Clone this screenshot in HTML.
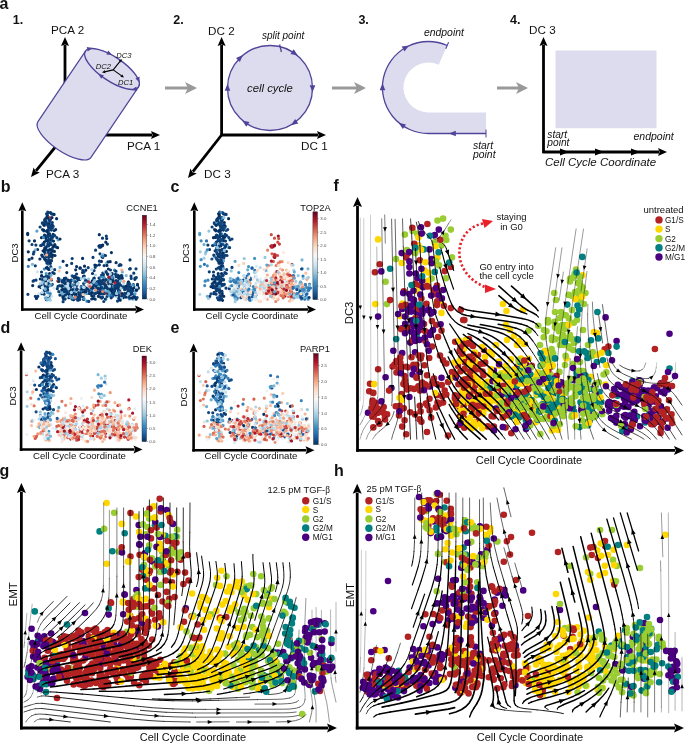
<!DOCTYPE html><html><head><meta charset="utf-8"><style>html,body{margin:0;padding:0;background:#fff;}svg{display:block;will-change:transform;}</style></head><body><svg width="685" height="746" viewBox="0 0 685 746" font-family='"Liberation Sans", sans-serif'><defs><linearGradient id="rdbu" x1="0" y1="0" x2="0" y2="1"><stop offset="0.000" stop-color="#67001f"/><stop offset="0.100" stop-color="#b2182b"/><stop offset="0.200" stop-color="#d6604d"/><stop offset="0.300" stop-color="#f4a582"/><stop offset="0.400" stop-color="#fddbc7"/><stop offset="0.500" stop-color="#f7f7f7"/><stop offset="0.600" stop-color="#d1e5f0"/><stop offset="0.700" stop-color="#92c5de"/><stop offset="0.800" stop-color="#4393c3"/><stop offset="0.900" stop-color="#2166ac"/><stop offset="1.000" stop-color="#053061"/></linearGradient></defs><text x="-0.5" y="9" font-size="16" text-anchor="start" font-weight="bold" font-style="normal" fill="#111" >a</text>
<text x="12.8" y="24" font-size="12.5" text-anchor="start" font-weight="bold" font-style="normal" fill="#111" >1.</text>
<line x1="65.0" y1="136.0" x2="65.0" y2="45.0" stroke="#000" stroke-width="2.8"/><polygon points="65.0,37.0 69.0,46.0 65.0,44.4 61.0,46.0" fill="#000"/>
<line x1="64.0" y1="135.0" x2="152.0" y2="135.0" stroke="#000" stroke-width="2.8"/><polygon points="160.0,135.0 151.0,139.0 152.6,135.0 151.0,131.0" fill="#000"/>
<line x1="65.0" y1="135.0" x2="36.0" y2="170.8" stroke="#000" stroke-width="2.8"/><polygon points="31.0,177.0 33.6,167.5 35.6,171.3 39.8,172.5" fill="#000"/>
<text x="51" y="34" font-size="11.7" text-anchor="start" font-weight="normal" font-style="normal" fill="#111" >PCA 2</text>
<text x="127" y="150" font-size="11.7" text-anchor="start" font-weight="normal" font-style="normal" fill="#111" >PCA 1</text>
<text x="46" y="178" font-size="11.7" text-anchor="start" font-weight="normal" font-style="normal" fill="#111" >PCA 3</text>
<g transform="translate(112,69) rotate(34)"><path d="M 32,0 L 32,85 A 32,12 0 0,1 -32,85 L -32,0 Z" fill="#dcdcee" stroke="#50449a" stroke-width="1.2"/><ellipse cx="0" cy="0" rx="32" ry="12" fill="#dcdcee" stroke="#50449a" stroke-width="1.4"/></g>
<polygon points="92.6,48.1 87.7,51.4 86.8,47.1" fill="#50449a"/>
<polygon points="112.2,55.0 106.3,54.5 108.2,50.6" fill="#50449a"/>
<polygon points="139.6,82.6 135.4,78.4 139.5,76.6" fill="#50449a"/>
<polygon points="131.4,89.9 136.3,86.6 137.2,90.9" fill="#50449a"/>
<polygon points="98.2,73.7 103.9,75.3 101.2,78.8" fill="#50449a"/>
<line x1="113.2" y1="69.9" x2="120.4" y2="60.9" stroke="#000" stroke-width="1.1"/><polygon points="122.0,59.0 121.0,62.7 120.2,61.2 118.6,60.7" fill="#000"/>
<line x1="113.2" y1="69.9" x2="104.4" y2="71.9" stroke="#000" stroke-width="1.1"/><polygon points="102.0,72.5 105.0,70.1 104.8,71.9 105.8,73.3" fill="#000"/>
<line x1="113.2" y1="69.9" x2="122.0" y2="76.1" stroke="#000" stroke-width="1.1"/><polygon points="124.0,77.5 120.2,76.8 121.7,75.8 122.1,74.2" fill="#000"/>
<text x="116.3" y="58.2" font-size="7.6" text-anchor="start" font-weight="normal" font-style="italic" fill="#111" >DC3</text>
<text x="95.8" y="69" font-size="7.6" text-anchor="start" font-weight="normal" font-style="italic" fill="#111" >DC2</text>
<text x="118" y="84.7" font-size="7.6" text-anchor="start" font-weight="normal" font-style="italic" fill="#111" >DC1</text>
<line x1="165" y1="88" x2="189" y2="88" stroke="#999999" stroke-width="3"/><polygon points="197,88 185,82 188,88 185,94" fill="#999999"/>
<line x1="332" y1="88" x2="358" y2="88" stroke="#999999" stroke-width="3"/><polygon points="366,88 354,82 357,88 354,94" fill="#999999"/>
<line x1="497" y1="88" x2="520" y2="88" stroke="#999999" stroke-width="3"/><polygon points="528,88 516,82 519,88 516,94" fill="#999999"/>
<text x="173.2" y="24" font-size="12.5" text-anchor="start" font-weight="bold" font-style="normal" fill="#111" >2.</text>
<line x1="221.6" y1="136.0" x2="221.6" y2="45.0" stroke="#000" stroke-width="2.8"/><polygon points="221.6,37.0 225.6,46.0 221.6,44.4 217.6,46.0" fill="#000"/>
<line x1="220.6" y1="135.0" x2="318.0" y2="135.0" stroke="#000" stroke-width="2.8"/><polygon points="326.0,135.0 317.0,139.0 318.6,135.0 317.0,131.0" fill="#000"/>
<line x1="221.6" y1="135.0" x2="192.9" y2="171.7" stroke="#000" stroke-width="2.8"/><polygon points="188.0,178.0 190.4,168.4 192.5,172.2 196.7,173.4" fill="#000"/>
<text x="208" y="35" font-size="11.7" text-anchor="start" font-weight="normal" font-style="normal" fill="#111" >DC 2</text>
<text x="301" y="150" font-size="11.7" text-anchor="start" font-weight="normal" font-style="normal" fill="#111" >DC 1</text>
<text x="204" y="178" font-size="11.7" text-anchor="start" font-weight="normal" font-style="normal" fill="#111" >DC 3</text>
<circle cx="270" cy="88" r="42.5" fill="#dcdcee" stroke="#50449a" stroke-width="1.3"/>
<polygon points="242.9,55.0 239.9,61.9 236.0,57.9" fill="#50449a"/>
<polygon points="297.8,55.6 290.5,53.9 293.7,49.3" fill="#50449a"/>
<polygon points="312.5,92.2 309.7,85.2 315.3,85.2" fill="#50449a"/>
<polygon points="290.9,125.2 295.1,118.9 298.3,123.5" fill="#50449a"/>
<polygon points="242.2,120.4 249.5,122.1 246.3,126.7" fill="#50449a"/>
<polygon points="227.5,83.8 230.3,90.8 224.7,90.8" fill="#50449a"/>
<line x1="279.6" y1="44.5" x2="281.4" y2="52" stroke="#50449a" stroke-width="1.3"/>
<text x="270" y="91.5" font-size="11.3" text-anchor="middle" font-weight="normal" font-style="italic" fill="#111" >cell cycle</text>
<text x="262" y="38.5" font-size="10" text-anchor="start" font-weight="normal" font-style="italic" fill="#111" >split point</text>
<text x="358.4" y="24" font-size="12.5" text-anchor="start" font-weight="bold" font-style="normal" fill="#111" >3.</text>
<path d="M 447.2,45.5 A 46,46 0 1,0 428.5,133.5 L 486,133.5 L 486,112.5 L 428.5,112.5 A 25,25 0 1,1 438.7,64.7 Z" fill="#dcdcee"/>
<path d="M 447.2,45.5 A 46,46 0 1,0 428.5,133.5 L 486,133.5" fill="none" stroke="#50449a" stroke-width="1.3"/>
<line x1="486" y1="129.5" x2="486" y2="137.5" stroke="#50449a" stroke-width="1"/>
<line x1="445.8" y1="48.7" x2="448.6" y2="42.3" stroke="#50449a" stroke-width="1.1"/>
<polygon points="409.1,45.6 404.5,51.5 401.7,46.6" fill="#50449a"/>
<polygon points="382.5,83.3 385.3,90.3 379.7,90.3" fill="#50449a"/>
<polygon points="398.7,122.8 406.0,124.5 402.8,129.1" fill="#50449a"/>
<polygon points="448.8,133.5 455.8,130.7 455.8,136.3" fill="#50449a"/>
<text x="424" y="36" font-size="10.4" text-anchor="start" font-weight="normal" font-style="italic" fill="#111" >endpoint</text>
<text x="473" y="148.5" font-size="10.4" text-anchor="start" font-weight="normal" font-style="italic" fill="#111" >start</text>
<text x="473" y="158.3" font-size="10.4" text-anchor="start" font-weight="normal" font-style="italic" fill="#111" >point</text>
<text x="510" y="24" font-size="12.5" text-anchor="start" font-weight="bold" font-style="normal" fill="#111" >4.</text>
<line x1="543.5" y1="153.0" x2="543.5" y2="45.0" stroke="#000" stroke-width="2.8"/><polygon points="543.5,37.0 547.5,46.0 543.5,44.4 539.5,46.0" fill="#000"/>
<line x1="542.5" y1="152.0" x2="659.0" y2="152.0" stroke="#000" stroke-width="2.8"/><polygon points="667.0,152.0 658.0,156.0 659.6,152.0 658.0,148.0" fill="#000"/>
<polygon points="569,152 560,148.5 560,155.5" fill="#000"/>
<polygon points="604,152 595,148.5 595,155.5" fill="#000"/>
<polygon points="640,152 631,148.5 631,155.5" fill="#000"/>
<text x="529" y="33.5" font-size="11.7" text-anchor="start" font-weight="normal" font-style="normal" fill="#111" >DC 3</text>
<rect x="555.5" y="50.5" width="101" height="77.7" fill="#dcdcee"/>
<text x="547.3" y="137.8" font-size="10.2" text-anchor="start" font-weight="normal" font-style="italic" fill="#111" >start</text>
<text x="547.3" y="145.8" font-size="10.2" text-anchor="start" font-weight="normal" font-style="italic" fill="#111" >point</text>
<text x="633.5" y="139.5" font-size="10.5" text-anchor="start" font-weight="normal" font-style="italic" fill="#111" >endpoint</text>
<text x="545" y="165.5" font-size="11.5" text-anchor="start" font-weight="normal" font-style="italic" fill="#111" >Cell Cycle Coordinate</text>
<g stroke-linecap="round" fill="none"><path d="M68.4 280.4h0M60.8 279.9h0M135.4 291.2h0M66.6 288.6h0M130.4 284.8h0M61.4 291.8h0M60 267.4h0M125.5 295.8h0M77.4 282.4h0" stroke="#7eb8d7" stroke-width="3.2"/><path d="M105.8 271.4h0M54.4 251.4h0M32 258.2h0M118.6 297.8h0M50 279.1h0M111.3 294.1h0M123.3 297.6h0M82.6 272.5h0M100.9 284.6h0M134.9 297.4h0M48.2 226.1h0M128.5 282h0M63.1 261.3h0M133.6 297.3h0M130 259.9h0M46.3 240h0M48.1 236.6h0M44.8 248.1h0M119.2 285.7h0M81.5 291.7h0M90.4 283.3h0M61.7 286.2h0M64.4 287.3h0M116.1 280.5h0M103.8 255.2h0M100.8 281.6h0M32.7 285.6h0M106 284.3h0M99.8 280.9h0M63.9 296.8h0M41.5 285.7h0M45.8 260.2h0M73.4 285.2h0M45 249.7h0M39.1 286.7h0M69.8 283.7h0M74.4 278.3h0M41 287.6h0M73.5 299.7h0M81.5 292.1h0M68.1 280h0M119.8 291.3h0M53.9 245.9h0M117.3 284h0M40.3 279h0M28.3 251.8h0M94.8 292.7h0M54.8 244.6h0M85.5 288.6h0M96.8 287.1h0M100.3 292.7h0M27.7 234.6h0M134.9 279.3h0M47 263.2h0M110.2 261.7h0M108.2 288.8h0M110.3 288.4h0M136.1 299.2h0M46 289.6h0M48.7 239.8h0M46.3 299.6h0M97.3 291.2h0M47.9 235.2h0M110.7 291.4h0M101.4 261.4h0M65.5 289.6h0M46.5 256.4h0M97.7 285.1h0M93 285.7h0M64.6 290.6h0M51.9 257.6h0M121.3 275.5h0M41.3 245.5h0M29.1 259.7h0M44.6 252.1h0M79.2 294.9h0M76.6 266.6h0M106.3 279.8h0M50 235.6h0M108.3 287.5h0M51.5 279.9h0M64.4 278.3h0M116.1 262.7h0M118.6 295.2h0M68.9 297.7h0M62.2 281.9h0M47.6 291.1h0M50.4 249.5h0M93.9 292.7h0M50.9 254.6h0M81.3 286.5h0M51.1 261h0M34.5 240.9h0M72.8 293.4h0M63.6 296.7h0M92.7 292.2h0M47 281.7h0M75.3 277.2h0M63 297.4h0" stroke="#053061" stroke-width="3.2"/><path d="M77.5 285.5h0M70.1 296.6h0M93.2 289.8h0M48.5 282.5h0M103 295h0M127.9 295.3h0" stroke="#c1ddec" stroke-width="3.2"/><path d="M92.9 284.1h0M96.1 291h0M110.2 295.7h0M44.3 269h0" stroke="#3a88bd" stroke-width="3.2"/><path d="M121.9 275.9h0M87.3 281.2h0M92.1 286h0M82.7 270.3h0M47.5 240.2h0M124.7 289.6h0M95.6 250.2h0M127.7 286.4h0M107.4 244.1h0M48.6 262h0M75.7 287.5h0M72.8 276.3h0M112.9 296.1h0M47.7 212.2h0M46.2 222.1h0M120 297.6h0M113.6 290.6h0M85.8 291.8h0M102.6 284.7h0M107 296.5h0M88.2 267.6h0M50.6 219.3h0M63.9 296.9h0M49 226.6h0M42.3 222.9h0M50.1 295.7h0M65.4 285.8h0M50.6 239.8h0M36.8 297.6h0M136.3 277.6h0M46.4 249.5h0M124.3 294.8h0M119.4 296.4h0M76.6 285.4h0M137.6 286.4h0M100.6 293.5h0M44.7 222.3h0M42.9 281.2h0M119.9 284.8h0M105.4 287.2h0M64.6 291.7h0M46 240.7h0M50.1 226.8h0M52.7 247.5h0M116.1 276.7h0M99.4 261.2h0M51.6 284.9h0M106.5 292.6h0M43.7 224.8h0M49.7 269.2h0M101.5 275.3h0M132.3 293.9h0M76.5 281.2h0M105.2 283.2h0M72 299.1h0M86.6 288.2h0M62.7 289.5h0M41.8 293.7h0M115.4 282.9h0M97.2 287.8h0M97.8 284.4h0M120.7 287.2h0M115.5 274.3h0M130.2 294.9h0M113.9 288h0M112.2 290.7h0M128.1 283.1h0M104.1 286.2h0M104.1 265.6h0M100 253.8h0M63.1 280.6h0M84 272.1h0M94.1 270.6h0M120 264.5h0M83 291.1h0M63.5 288.8h0M52.8 214.2h0M77.1 283.3h0M100.2 289.6h0M50.2 242.4h0M63.1 301.7h0M83.8 294.5h0M99.9 296.8h0M42.5 229.5h0M109.1 283.2h0M74.6 287.8h0M100.8 286.7h0M49.1 220.2h0M128.7 297.5h0M52.3 284.3h0M117.5 301.1h0M127.3 293.2h0M76.7 280.2h0M114.6 292.3h0M76.6 284.5h0M119.3 299.1h0M111.8 276.2h0M105.5 255.5h0M49.2 293.5h0M70.6 293.1h0M111.4 293.4h0M116.9 287.1h0M75 276h0M42.5 256.5h0M119.7 279.8h0M49.3 225.7h0M97.5 281.7h0M44.1 236.2h0M113.9 293.4h0M32 244.5h0M51.8 249.6h0M92.1 293.1h0M52.8 237.2h0M102.5 238.2h0M49.8 218.5h0M79.8 279.4h0M102.8 273.1h0M120.9 277.3h0M74 293.5h0M76.2 290.1h0M72.2 258.5h0M130.9 290h0M131.6 293.2h0M107.4 273.9h0M104.5 292.4h0M58.8 291.7h0M64.2 297.6h0M84.2 286.7h0M27.9 294.3h0M42.5 223.4h0" stroke="#0c3e74" stroke-width="3.2"/><path d="M95.4 275h0M116.4 296.5h0M90.1 285.1h0M83.9 295.1h0M50.5 300.3h0M115 288.4h0" stroke="#b2d5e7" stroke-width="3.2"/><path d="M64 281h0M46.8 288.7h0M46.6 237.1h0M116 271.5h0M103.9 277.2h0" stroke="#4393c3" stroke-width="3.2"/><path d="M98.1 291.8h0M39 293.8h0M37.3 271.8h0" stroke="#d1e5f0" stroke-width="3.2"/><path d="M49.7 217.5h0" stroke="#c43c3c" stroke-width="3.2"/><path d="M91.6 282.9h0M113.7 292.9h0M106.2 263.2h0M75 292.2h0M71.7 275.7h0M121.5 298h0" stroke="#92c5de" stroke-width="3.2"/><path d="M132.7 299.1h0M58.1 239.8h0M62.3 294.6h0M104.3 290.8h0M112.3 285h0M128.9 282.6h0" stroke="#57a0ca" stroke-width="3.2"/><path d="M112.9 294h0M122.3 271.9h0M94 279.5h0M51 284.4h0M98.6 286h0M81.9 290.6h0M47 297.8h0" stroke="#6aacd0" stroke-width="3.2"/><path d="M50.7 266h0M75.1 280.6h0M80.3 278.5h0M81.2 278.4h0" stroke="#a2cde2" stroke-width="3.2"/><path d="M81.2 287h0M69.4 283.1h0M85.1 282.1h0" stroke="#327cb8" stroke-width="3.2"/><path d="M119.4 291.4h0" stroke="#de715a" stroke-width="3.2"/><path d="M50.9 259.5h0M59.2 270.9h0" stroke="#fbceb6" stroke-width="3.2"/><path d="M121.8 270h0M47.5 283.7h0" stroke="#f6b293" stroke-width="3.2"/><path d="M121.2 294.2h0" stroke="#d6604d" stroke-width="3.2"/><path d="M48.6 280.9h0M50 291.4h0M41.6 282.5h0" stroke="#daeaf2" stroke-width="3.2"/><path d="M107.8 293.7h0M48.8 227.8h0M43.1 250.8h0M49.2 223.5h0M49.2 226h0M41.5 237.7h0M52.8 272.6h0M66.5 292.2h0M52 217.6h0M125.8 297.1h0M94.9 290.2h0M102.9 287.4h0M51.3 252.6h0M115.1 282.3h0M50.5 212.6h0M44.2 277.3h0M44.6 235.1h0M101.3 291h0M93.7 290.2h0M92.2 286.7h0M52.2 224.8h0M75.3 295.7h0M137.4 285.2h0M111.4 252.6h0M99.3 234.7h0M92.1 291.3h0M134.4 287.7h0M96.1 285.3h0M130.8 287.9h0M46.4 260.1h0M48.9 223.8h0M91.1 283.2h0M44.9 249.1h0M39.9 259h0M111.6 284.5h0M68.4 280.8h0M118.4 290.9h0M113.1 280.6h0M45.1 220.3h0M37.6 249.5h0M106.9 265.4h0M132.3 291h0M60 239h0M101.3 287.8h0M125 293.5h0M64.8 283.5h0M72.2 293.9h0M103.8 293.7h0M101.8 293.5h0M47.9 297.8h0M132.3 297.9h0M72 280.4h0M118.6 275.9h0M80.3 267.9h0M51.3 239h0M47.3 278.4h0M122.1 293.6h0M114.7 291.9h0M45.7 237.7h0M45 281.9h0M94.7 286h0M54.1 214.4h0M100.6 247.1h0M105.4 282.5h0M98.6 288.6h0M65.6 283.9h0M66.8 265.3h0M85.8 290.9h0M118.7 289.5h0M128.4 282h0M108.1 261.9h0M75.7 269.8h0M99.4 281.4h0M133.4 284.5h0M70.2 282.5h0M101.1 288.6h0M111.6 292.5h0M112.1 273.6h0M91.1 285.3h0M132.6 288.9h0M72.2 292.4h0M74.4 281.3h0M50.4 263.3h0M47.1 236.6h0M70.1 285.2h0M53.1 234.3h0M49.6 239.5h0M109.2 283.9h0M115.6 294.4h0M49.9 226.3h0M48.7 296.9h0M44.3 242.2h0M137.5 284.3h0M46.8 231.3h0" stroke="#053061" stroke-width="3.2"/><path d="M71.4 285.6h0M52.3 222.5h0M47.6 267.2h0M76.8 299h0M47.7 289.7h0M40.1 227h0M54.7 235.5h0M93 257.4h0M48.5 253.2h0M96.5 265.5h0M92.9 288.3h0M70.2 289.5h0M51.5 240.5h0M129.4 283.8h0M99.4 247.2h0M86.5 288.8h0M47 246.3h0M105.3 282.9h0M62.1 286.1h0M47.3 215h0M95.6 293.4h0M48.4 230.8h0M102 256.8h0M124.8 287.7h0M93.9 296h0M118.9 285.8h0M135 278h0M136 268.8h0M91.7 299h0M54.7 269.7h0M48.4 257.3h0M42.9 243.8h0M116.8 288h0M102 293.7h0M115.2 287.3h0M92.2 285h0M95.1 282.8h0M119.1 265.5h0M105.2 279.3h0M136.8 290.1h0M70 295.2h0M63.3 286.7h0M47.8 230.1h0M47.2 254.4h0M117.8 281h0M46.4 261.3h0M51.4 230.1h0M93.1 283h0M115.3 288.8h0M73.9 292.6h0M78.7 296.6h0M48 244.3h0M96.6 293h0M129.6 286.9h0M91.8 289.6h0M138.5 288.1h0M83.4 288.5h0M83.6 283.5h0M131.2 278.4h0M47.8 244h0M129.3 292.3h0M83.9 287.9h0M48.5 212.5h0M70.7 286.9h0M128.8 292.6h0M51.1 229.1h0M49 235.2h0M119.1 288.3h0M130.3 268.7h0M98.7 292.4h0M67.4 293.6h0M83.5 276.4h0M44.1 294.2h0M127.6 288.9h0M77 289.2h0M64 287.4h0M33.8 280.5h0M33.4 254h0M98.9 246h0M96.2 291.9h0M40.6 245.5h0M100.2 293.6h0M110.5 270h0M121.1 285.8h0M55.9 246.9h0M102.2 245.4h0M88 292.9h0M137.1 297.5h0M124.7 293.7h0M104.4 288h0M80.3 296.8h0M49.5 265.6h0M65.4 295.2h0M94.4 293.4h0M70.2 290.7h0M92.1 288.2h0M81.2 294.3h0M71.7 263.4h0M80.9 289.8h0M71.2 280.2h0M37.8 296.3h0M29.1 240.8h0M46.2 217.8h0M102.8 257.4h0M105.1 293h0M120.2 285h0M69 287.8h0M75.9 282.7h0M108.8 288.8h0M99.7 280.7h0M59 279.3h0M35.3 296.3h0M55.4 246.3h0M44.5 290.8h0M51.4 213.8h0M102.1 289.6h0M103.9 292.6h0M44.2 289.4h0M120.9 286.1h0M49.6 233.9h0M43.8 244.7h0M109.1 286h0M128.8 290.4h0M96.6 289.5h0M65.9 278.2h0M78.4 279.5h0M35.3 265.8h0M95.2 299.2h0M78.4 278.2h0M33.1 281.2h0M47.9 251.1h0M95.2 267.3h0M43.8 230.8h0M116.5 283.2h0M51.2 229.6h0M103.8 301.5h0M51.5 260.4h0M44.2 277.9h0M74.1 298.5h0M41.5 272h0M69.8 289.8h0M127.7 284.7h0M41.6 275.7h0" stroke="#0c3e74" stroke-width="3.2"/><path d="M109 295.3h0M92.7 281.2h0M87 293.5h0M47.6 292.5h0M103.8 277.8h0M72.3 284.9h0" stroke="#4393c3" stroke-width="3.2"/><path d="M114.5 270.2h0M101.9 289.9h0M50.2 293.6h0M50.7 240.2h0M108.7 280.6h0M82.1 290.7h0M43.4 237.4h0M93.9 290.7h0M86.9 301.2h0M91.4 289.7h0" stroke="#3a88bd" stroke-width="3.2"/><path d="M129.4 299.2h0M49.3 280.4h0M87.8 292.3h0M102.7 286.5h0M88.6 279h0M46.5 298.7h0M63 285.8h0" stroke="#92c5de" stroke-width="3.2"/><path d="M47.6 300h0M35.2 249.9h0M70.3 294.2h0M78.6 300.3h0M43.3 286.5h0" stroke="#7eb8d7" stroke-width="3.2"/><path d="M42.2 292.4h0M136.5 287.5h0M43.4 287.9h0M104.9 271.7h0M123.5 283.4h0" stroke="#c1ddec" stroke-width="3.2"/><path d="M40.2 283.8h0M65.7 286h0M65.1 297.9h0M102.5 254.3h0" stroke="#a2cde2" stroke-width="3.2"/><path d="M51.1 275.3h0M49.5 266.6h0M54 288.2h0" stroke="#daeaf2" stroke-width="3.2"/><path d="M48 295.5h0M51.8 296.3h0" stroke="#d1e5f0" stroke-width="3.2"/><path d="M120.8 287.7h0M63.6 286.3h0M84.9 282h0M44.5 283.4h0M105.9 299.3h0M73.9 290.9h0" stroke="#6aacd0" stroke-width="3.2"/><path d="M83 293.7h0M112.6 286.3h0M72.6 297.9h0M36.9 231.1h0" stroke="#57a0ca" stroke-width="3.2"/><path d="M91.9 269.5h0" stroke="#b2d5e7" stroke-width="3.2"/><path d="M57.6 281.1h0" stroke="#d6604d" stroke-width="3.2"/><path d="M96.4 283.7h0M111.2 296.6h0M75.2 298.1h0" stroke="#327cb8" stroke-width="3.2"/><path d="M51.2 279.2h0" stroke="#ec9475" stroke-width="3.2"/><path d="M88.6 285h0" stroke="#f8c0a4" stroke-width="3.2"/><path d="M107.1 282.6h0" stroke="#f4a582" stroke-width="3.2"/><path d="M105.7 292.9h0" stroke="#bb2a34" stroke-width="3.2"/><path d="M44.7 220.3h0M42.9 279.6h0M103.1 280.2h0M41.8 255.2h0M66.1 290.3h0M52.3 250.4h0M63.4 296.5h0M119.2 288.1h0M49.6 273.7h0M122.1 287.3h0M110.4 290.1h0M93.3 283.3h0M92.2 288.1h0M70 286.4h0M94.2 278h0M125.9 286.3h0M84.5 266.2h0M61.8 289.8h0M63.8 282.2h0M47.8 218.1h0M93.3 298.5h0M94.9 265h0M53.6 246.2h0M50.3 239.7h0M27.7 233.4h0M45 219.8h0M101.2 246.1h0M53.5 241.1h0M101.7 298.1h0M36.4 298.5h0M106.7 238.5h0M122.3 278.2h0M47.9 223.9h0M112.5 281.7h0M85.8 270.2h0M46.7 231h0M99.1 293.3h0M82.6 258.4h0M41.7 276.1h0M92.5 273.5h0M114.8 289.6h0M59.9 295.1h0M120.2 300.2h0M55.7 229.5h0M83.6 292.4h0M107.8 274.3h0M79.9 268.2h0M63.6 298.9h0M105.8 242.2h0M90.4 293.7h0M46.4 267.8h0M100 245.6h0M52.9 255.2h0M91.6 287.7h0M102.7 245h0M85.9 291.6h0M52 255.9h0M68 283.8h0M47.3 216.1h0M109.4 282.4h0M49.3 256h0M69.3 286.7h0M118.5 277.8h0M71.3 290.7h0M110.9 286.5h0M72.3 293.4h0M105.9 286.9h0M136.3 290.2h0M48.7 269.5h0M44.7 259.1h0M92.4 280.8h0M45.5 247.7h0M47.8 241.3h0M99.3 264.8h0M86.7 288.5h0M48.3 233.6h0M84.2 276h0M49.3 260.9h0M105.9 292.1h0M66.8 272.6h0M108.4 269h0M43.7 230.1h0M54.3 230.5h0M57.6 247.7h0M102.4 245.8h0M71.5 295.3h0M115.9 294.8h0M131.7 289.9h0M55 255.5h0M90.6 293.4h0M68.9 283.4h0M48.9 223.8h0M82.4 289.1h0M49.4 249.8h0M47.7 268.4h0M61.2 295h0M98.3 296.3h0M66 282.9h0M76.2 294.3h0M62.3 285.9h0M64 279.9h0M76.6 277.7h0M56.6 218.7h0M111.9 289.1h0M111 290.4h0M68.7 294.1h0M82.9 296.5h0M49.7 250.2h0M76.4 284h0M91.8 295.8h0M44.3 225.3h0M58.7 281.5h0" stroke="#053061" stroke-width="3.2"/><path d="M108.9 277.5h0M45.1 254.1h0M99.6 282.9h0M129.7 298.2h0M46.9 214.1h0M46.3 224.2h0M128.9 293.7h0M48.8 225.9h0M49.2 244.3h0M49 276.6h0M67.3 293.2h0M49.1 239.4h0M132.1 290.6h0M124.9 289.6h0M47.8 286.9h0M68.2 281.8h0M115.2 287h0M103.4 274.7h0M49.9 221.3h0M35.9 245.1h0M130.4 292.2h0M46.6 213.8h0M112.1 274.3h0M45.2 220.2h0M65.5 291.1h0M89 290.6h0M111.2 297.8h0M102.5 297.2h0M130.8 290.6h0M46.4 276.1h0M93.1 283h0M47.5 236.3h0M65.9 279.2h0M102 287.7h0M72.5 289.5h0M58.4 278.4h0M131 276h0M72.6 276.1h0M83.6 299.4h0M75.6 296.4h0M118.1 294.1h0M62.2 280.8h0M130.8 287.1h0M106.2 287h0M50 256.4h0M53.2 226.3h0M51.2 244.5h0M44.7 283.9h0M89.4 293.4h0M110.7 287.3h0M77.3 297.6h0M50 227.9h0M45 219.3h0M128 291.2h0M45.2 286.1h0M69.5 286.7h0M100.2 289.9h0M65.1 299.1h0M76.6 274h0M64.3 291.7h0M48.8 245.9h0M129.6 269h0M44.1 257.8h0M58 286.3h0M112.9 278.3h0M93.8 278.5h0M52.7 227.5h0M108.3 282.3h0M59.7 285.7h0M49.1 259.9h0M114.5 290.3h0M85.4 279.9h0M67.4 291.9h0M70.6 290.8h0M106.1 272.2h0M101.7 280.9h0M57.3 288.7h0M78.6 292.6h0M94.1 285.6h0M115 286.9h0M48.8 256.8h0M133.8 273.2h0M110.8 278.8h0M54.2 273.5h0M134.4 294.6h0M33.9 252h0M48 263.1h0M119.8 289.4h0M113.6 294.1h0M63.9 282.1h0M56.8 237.6h0M119.4 282.8h0M69.5 280.8h0M107.6 289.1h0M96.6 291h0M117.6 275.2h0M51.4 236.7h0M106.3 236.1h0M88.8 301.4h0M88.1 289h0M85.7 289.8h0M77.8 300.2h0M102.6 282.8h0M36 280.2h0M121 265.1h0M117.5 285.5h0M50.2 285.5h0M123.9 286.8h0M67.2 292.9h0M99 278.1h0M79.8 299.4h0M46.6 254h0M48.4 283.7h0M50.8 266.9h0M50.9 268.3h0M115.8 271h0M132.6 290.6h0M77 289.2h0M50.5 226.8h0M99.6 284.2h0M122.1 295.7h0M114.8 285.5h0M105.3 299h0M128.7 292.2h0" stroke="#0c3e74" stroke-width="3.2"/><path d="M45.2 289.3h0M32.4 264.3h0M105.9 291h0M42.9 282.1h0M126.2 275.6h0" stroke="#7eb8d7" stroke-width="3.2"/><path d="M74.8 287.1h0M128.5 293.7h0M89 286.7h0M121 288.3h0M78.2 283.3h0M116.7 293.5h0" stroke="#a2cde2" stroke-width="3.2"/><path d="M116.6 293.2h0M110.3 281.9h0M93.7 282.2h0M84.2 287.4h0M84.3 278h0M120.5 281h0M49.5 298.7h0M94.6 280.5h0M45.8 278.8h0M44.6 279h0" stroke="#92c5de" stroke-width="3.2"/><path d="M91 284.8h0M77.2 284h0M109.5 286.2h0M46.1 283.7h0M67.9 283.6h0M94.5 290.6h0M83.6 287.3h0" stroke="#c1ddec" stroke-width="3.2"/><path d="M70.3 296.4h0M135 293.8h0M108.2 291.4h0M73.2 280.5h0" stroke="#57a0ca" stroke-width="3.2"/><path d="M109.7 293h0M50 285.7h0M62.3 293.9h0M45.4 297.8h0M51 275.1h0" stroke="#6aacd0" stroke-width="3.2"/><path d="M28.3 266.3h0M118.9 291.8h0" stroke="#327cb8" stroke-width="3.2"/><path d="M112.3 277.4h0M46.2 273.7h0M133.3 285.1h0" stroke="#4393c3" stroke-width="3.2"/><path d="M88.9 281.9h0M114.9 282.8h0" stroke="#bb2a34" stroke-width="3.2"/><path d="M102.7 256h0M100.8 277h0M84 298.7h0" stroke="#3a88bd" stroke-width="3.2"/><path d="M123.8 281.3h0" stroke="#f4a582" stroke-width="3.2"/><path d="M83.3 294.6h0" stroke="#fbceb6" stroke-width="3.2"/><path d="M51.4 268.9h0M68.7 288.4h0M71.4 292.4h0M110.4 273.9h0" stroke="#b2d5e7" stroke-width="3.2"/><path d="M95.7 290.2h0" stroke="#ec9475" stroke-width="3.2"/><path d="M46.6 254.9h0" stroke="#f6b293" stroke-width="3.2"/><path d="M67.6 286.1h0" stroke="#d1e5f0" stroke-width="3.2"/><path d="M90 286.5h0" stroke="#d6604d" stroke-width="3.2"/><path d="M108.9 277.1h0" stroke="#b2182b" stroke-width="3.2"/><path d="M42.3 287.4h0" stroke="#daeaf2" stroke-width="3.2"/><path d="M75.3 297.2h0M102.6 291.5h0" stroke="#e58268" stroke-width="3.2"/></g>
<g stroke-linecap="round" fill="none"><path d="M240.4 280.4h0M236.6 291.7h0M262.1 285.1h0M236.4 278.3h0M242.6 293.1h0M251.8 279.4h0M256.2 286.7h0" stroke="#daeaf2" stroke-width="3.2"/><path d="M277.8 271.4h0M290.6 297.8h0M288.1 280.5h0M272.3 292.7h0M302.4 284.8h0M280.3 287.5h0M248.6 284.5h0M288.1 262.7h0M253.9 290.6h0" stroke="#fddbc7" stroke-width="3.2"/><path d="M249.5 285.5h0M296.3 294.8h0M246.4 278.3h0M302.2 294.9h0M235.5 288.8h0M246.6 287.8h0M303.6 293.2h0" stroke="#327cb8" stroke-width="3.2"/><path d="M264.9 284.1h0M260.2 267.6h0M240.1 280h0M304.3 293.9h0M293.8 270h0M265 285.7h0M265.9 292.7h0M230.8 291.7h0M199.9 294.3h0" stroke="#b2d5e7" stroke-width="3.2"/><path d="M293.9 275.9h0M272.9 284.6h0M273.5 275.3h0M266.8 292.7h0M282.2 261.7h0M271.9 296.8h0" stroke="#ec9475" stroke-width="3.2"/><path d="M259.3 281.2h0" stroke="#f8f0eb" stroke-width="3.2"/><path d="M226.4 251.4h0M220.2 226.1h0M218.2 222.1h0M222.6 219.3h0M214.3 222.9h0M222.1 295.7h0M208.8 297.6h0M211.1 286.7h0M218.4 249.5h0M213 287.6h0M222.1 226.8h0M225.9 245.9h0M223 284.4h0M212.3 279h0M221.7 269.2h0M213.8 293.7h0M218 289.6h0M219.9 235.2h0M218.5 256.4h0M224.8 214.2h0M221.1 220.2h0M224.3 284.3h0M222 235.6h0M221.3 225.7h0M216.1 236.2h0M222.4 249.5h0M223.8 249.6h0M222.5 300.3h0M219 281.7h0" stroke="#053061" stroke-width="3.2"/><path d="M267.4 275h0M264.1 286h0M263.6 282.9h0M247 292.2h0M253.2 287h0M247.1 280.6h0M287.4 282.9h0M272.2 289.6h0M283.8 276.2h0M288.9 287.1h0" stroke="#f6b293" stroke-width="3.2"/><path d="M254.7 270.3h0M242.1 296.6h0M253.5 291.7h0M299.9 295.3h0M293.3 275.5h0M299.3 293.2h0M249.4 282.4h0M206.5 240.9h0" stroke="#2a71b2" stroke-width="3.2"/><path d="M204 258.2h0M296.7 289.6h0M295.3 297.6h0M284.9 294h0M262.4 283.3h0M237.4 285.8h0M200.3 251.8h0M258.6 288.2h0M238.6 288.6h0M235.1 301.7h0M233.4 291.8h0" stroke="#a2cde2" stroke-width="3.2"/><path d="M219.5 240.2h0M222 279.1h0M220.6 262h0M221.7 217.5h0M220.1 236.6h0M216.8 248.1h0M230.1 239.8h0M219.7 212.2h0M222.7 266h0M213.5 285.7h0M217.8 260.2h0M221 226.6h0M222.6 239.8h0M220.5 282.5h0M218 240.7h0M224.7 247.5h0M223.6 284.9h0M215.7 224.8h0M226.8 244.6h0M218.6 237.1h0M219 263.2h0M222.9 259.5h0M220.7 239.8h0M218.3 299.6h0M209.3 271.8h0M223.9 257.6h0M219.5 283.7h0M214.5 229.5h0M300.7 297.5h0M223.5 279.9h0M216.3 269h0M232 267.4h0M219.6 291.1h0M220.6 280.9h0M224.8 237.2h0M222.9 254.6h0M223.1 261h0M222 291.4h0M213.6 282.5h0M214.5 223.4h0M219 297.8h0" stroke="#0c3e74" stroke-width="3.2"/><path d="M288.4 296.5h0M292 297.6h0M291.8 291.3h0M289.3 284h0M280.2 288.8h0M282.3 288.4h0" stroke="#de715a" stroke-width="3.2"/><path d="M283.3 294.1h0M268.1 291h0M272.8 281.6h0M278 284.3h0M271.8 280.9h0M291.9 284.8h0M282.2 295.7h0M284.2 290.7h0" stroke="#8c0c25" stroke-width="3.2"/><path d="M254.6 272.5h0M308.3 277.6h0M307.4 291.2h0M285.9 288h0M221.2 293.5h0M231.2 270.9h0M297.5 295.8h0M244.2 258.5h0M257.1 282.1h0" stroke="#92c5de" stroke-width="3.2"/><path d="M236 281h0M204.7 285.6h0M235.9 296.8h0M300.1 283.1h0M234.2 281.9h0M253.3 286.5h0M247.3 277.2h0" stroke="#3a88bd" stroke-width="3.2"/><path d="M267.6 250.2h0M291.2 285.7h0M285.7 292.9h0M278.2 263.2h0M275 295h0M278.5 292.6h0M277.2 283.2h0M268.8 287.1h0M269.3 291.2h0M276.1 265.6h0M270.6 286h0M288 271.5h0M290.6 295.2h0M276.3 290.8h0M284.3 285h0M292.9 277.3h0" stroke="#e58268" stroke-width="3.2"/><path d="M299.7 286.4h0M270.1 291.8h0M306.9 279.3h0M292.7 287.2h0M276.1 286.2h0M291.3 299.1h0M283.4 293.4h0" stroke="#f4a582" stroke-width="3.2"/><path d="M279.4 244.1h0M274.6 284.7h0" stroke="#c43c3c" stroke-width="3.2"/><path d="M218.8 288.7h0M305.6 297.3h0M218.3 240h0M211 293.8h0M214.9 281.2h0M216.6 252.1h0M255.9 295.1h0M240.9 297.7h0" stroke="#134b86" stroke-width="3.2"/><path d="M306.9 297.4h0M302 259.9h0M217 249.7h0M241.8 283.7h0M266.1 270.6h0M222.2 242.4h0M251.2 294.9h0M255.8 294.5h0" stroke="#7eb8d7" stroke-width="3.2"/><path d="M300.5 282h0M294.3 271.9h0M236.4 287.3h0M281.1 283.2h0M204 244.5h0" stroke="#6aacd0" stroke-width="3.2"/><path d="M235.1 261.3h0M293.5 298h0M199.7 234.6h0M255 291.1h0M214.5 256.5h0" stroke="#57a0ca" stroke-width="3.2"/><path d="M247.7 287.5h0M233.7 286.2h0M245.4 285.2h0M241.4 283.1h0M269.5 281.7h0M235.6 296.7h0" stroke="#d1e5f0" stroke-width="3.2"/><path d="M244.8 276.3h0M304.7 299.1h0M253.5 292.1h0M293.2 294.2h0M246 293.5h0M248.2 290.1h0" stroke="#1a5899" stroke-width="3.2"/><path d="M284.9 296.1h0M292 264.5h0" stroke="#9f1228" stroke-width="3.2"/><path d="M285.6 290.6h0M309.6 286.4h0M245.5 299.7h0M288.1 276.7h0M266 279.5h0M234.7 289.5h0M278.3 279.8h0M274.8 273.1h0M275.9 277.2h0" stroke="#fbceb6" stroke-width="3.2"/><path d="M265.2 289.8h0M279 296.5h0M257.5 288.6h0M269.7 285.1h0M272.8 286.7h0" stroke="#fce2d3" stroke-width="3.2"/><path d="M275.8 255.2h0M277.5 255.5h0M274.5 238.2h0" stroke="#cd4e44" stroke-width="3.2"/><path d="M257.8 291.8h0M243.7 275.7h0M256 272.1h0M236.2 297.6h0" stroke="#c1ddec" stroke-width="3.2"/><path d="M235.9 296.9h0M248.6 285.4h0M244 299.1h0M248.7 280.2h0" stroke="#e4eef4" stroke-width="3.2"/><path d="M291.4 296.4h0M272.6 293.5h0M269.2 287.8h0M282.7 291.4h0" stroke="#bb2a34" stroke-width="3.2"/><path d="M216.7 222.3h0M291.4 291.4h0M308.1 299.2h0M213.3 245.5h0M201.1 259.7h0M248.6 266.6h0M221.8 218.5h0M302.9 290h0M235 297.4h0" stroke="#4393c3" stroke-width="3.2"/><path d="M277.4 287.2h0M287.5 274.3h0M272 253.8h0M273.4 261.4h0M291.7 279.8h0M279.4 273.9h0" stroke="#d6604d" stroke-width="3.2"/><path d="M232.8 279.9h0M235.1 280.6h0M237.5 289.6h0M249.1 283.3h0M247 276h0M300.9 282.6h0" stroke="#2166ac" stroke-width="3.2"/><path d="M271.4 261.2h0M286.6 292.3h0M287 288.4h0" stroke="#b2182b" stroke-width="3.2"/><path d="M252.3 278.5h0M269.8 284.4h0M253.2 278.4h0M236.6 290.6h0M264.7 292.2h0" stroke="#fae9df" stroke-width="3.2"/><path d="M248.5 281.2h0M234.3 294.6h0M289.5 301.1h0M285.9 293.4h0M264.1 293.1h0M244.8 293.4h0" stroke="#f8c0a4" stroke-width="3.2"/><path d="M276.5 292.4h0" stroke="#7a0622" stroke-width="3.2"/><path d="M279.8 293.7h0M291.1 265.5h0M301.6 286.9h0M278.9 265.4h0M273.8 293.5h0M286.7 291.9h0M273.1 288.6h0" stroke="#fce2d3" stroke-width="3.2"/><path d="M243.4 285.6h0M248.8 299h0M235.6 286.3h0M308.5 287.5h0M310.5 288.1h0M300.8 292.6h0M239.4 293.6h0M244 280.4h0M254.1 290.7h0M300.8 290.4h0M250.4 278.2h0M241.8 289.8h0" stroke="#327cb8" stroke-width="3.2"/><path d="M220.8 227.8h0M219.6 267.2h0M222.5 212.6h0M211.9 259h0M219.9 297.8h0M221.5 265.6h0M243.2 280.2h0M305.4 284.5h0" stroke="#134b86" stroke-width="3.2"/><path d="M281 295.3h0M267.6 293.4h0M273.3 291h0M288.8 288h0M277.9 299.3h0M280.1 261.9h0M288.5 283.2h0" stroke="#de715a" stroke-width="3.2"/><path d="M264.7 281.2h0M301.4 283.8h0M270.7 292.4h0M274.1 289.6h0M275.9 292.6h0M267.2 299.2h0" stroke="#f4a582" stroke-width="3.2"/><path d="M259 293.5h0M265.7 290.2h0M265.9 296h0M256.9 282h0M249 289.2h0M265.9 290.7h0" stroke="#f8f0eb" stroke-width="3.2"/><path d="M224.3 222.5h0M221.2 223.5h0M213.5 237.7h0M222.2 293.6h0M223.5 240.5h0M223.3 252.6h0M220.4 230.8h0M222.7 240.2h0M223.8 296.3h0M219.8 230.1h0M223.4 230.1h0M221 235.2h0M223.3 239h0M215.4 237.4h0M216.5 290.8h0M221.5 266.6h0M219.1 236.6h0M221.6 239.5h0M223.2 229.6h0" stroke="#053061" stroke-width="3.2"/><path d="M215.1 250.8h0M221.2 226h0M224.8 272.6h0M219.7 289.7h0M212.1 227h0M226.7 235.5h0M220.5 253.2h0M219.6 300h0M214.2 292.4h0M212.2 283.8h0M219 246.3h0M216.2 277.3h0M216.6 235.1h0M219.3 215h0M221.3 280.4h0M223.1 275.3h0M224.2 224.8h0M220 295.5h0M226.7 269.7h0M220.4 257.3h0M219.6 292.5h0M219.2 254.4h0M216.5 283.4h0M218.4 261.3h0M218.4 260.1h0M220.9 223.8h0M216.9 249.1h0M220 244.3h0M217.1 220.3h0M209.6 249.5h0M215.4 287.9h0M223.1 229.1h0M215.3 286.5h0M232 239h0M216.1 294.2h0M212.6 245.5h0M223.2 279.2h0M227.9 246.9h0M309.1 297.5h0M219.3 278.4h0M217.7 237.7h0M218.5 298.7h0M226.1 214.4h0M209.8 296.3h0M218.2 217.8h0M223.4 213.8h0M216.2 289.4h0M222.4 263.3h0M215.8 244.7h0M225.1 234.3h0M219.9 251.1h0M215.8 230.8h0M216.2 277.9h0M221.9 226.3h0M220.7 296.9h0M213.5 272h0M216.3 242.2h0M213.6 275.7h0M226 288.2h0M218.8 231.3h0" stroke="#0c3e74" stroke-width="3.2"/><path d="M286.5 270.2h0M242.2 289.5h0M287.2 287.3h0M263.4 289.7h0M246.1 298.5h0M287.6 294.4h0" stroke="#f8c0a4" stroke-width="3.2"/><path d="M273.9 289.9h0M264.2 285h0M263.9 269.5h0M283.6 284.5h0M285.1 280.6h0M244.6 297.9h0M238.8 265.3h0M290.7 289.5h0M295.5 283.4h0M277.1 293h0M258.9 301.2h0" stroke="#fddbc7" stroke-width="3.2"/><path d="M238.5 292.2h0M308.8 290.1h0M240.4 280.8h0M304.3 291h0M237.1 297.9h0M309.5 284.3h0" stroke="#2166ac" stroke-width="3.2"/><path d="M265 257.4h0M224 217.6h0M297.8 297.1h0M250.6 300.3h0M242.7 286.9h0M255.5 276.4h0M236.8 283.5h0M205.8 280.5h0M208.9 231.1h0M257.8 290.9h0M245.9 290.9h0M247.2 298.1h0" stroke="#92c5de" stroke-width="3.2"/><path d="M301.4 299.2h0M274 293.7h0M252.3 267.9h0" stroke="#57a0ca" stroke-width="3.2"/><path d="M268.5 265.5h0M290.9 285.8h0M268.6 293h0M293.1 285.8h0M283.6 292.5h0M279.1 282.6h0M268.6 289.5h0M275.8 301.5h0" stroke="#e58268" stroke-width="3.2"/><path d="M264.9 288.3h0M263.7 299h0" stroke="#f7f7f7" stroke-width="3.2"/><path d="M266.9 290.2h0M277.2 279.3h0M291.1 288.3h0M268.4 283.7h0M243.7 263.4h0M271.4 281.4h0M284.1 273.6h0M267.2 267.3h0" stroke="#fbceb6" stroke-width="3.2"/><path d="M274.9 287.4h0M287.3 288.8h0M282.5 270h0M294.1 293.6h0M283.2 296.6h0" stroke="#ec9475" stroke-width="3.2"/><path d="M271.4 247.2h0M271.3 234.7h0" stroke="#cd4e44" stroke-width="3.2"/><path d="M258.5 288.8h0M283.4 252.6h0M267.1 282.8h0M259.8 292.3h0M250.7 296.6h0M284.6 286.3h0" stroke="#fae9df" stroke-width="3.2"/><path d="M287.1 282.3h0M308 268.8h0M309.4 285.2h0M274.7 286.5h0M255.9 287.9h0M299.6 288.9h0M296.7 293.7h0M252.9 289.8h0M242.2 282.5h0M247.9 282.7h0M227.4 246.3h0M246.4 281.3h0" stroke="#7eb8d7" stroke-width="3.2"/><path d="M277.3 282.9h0M274 256.8h0M280.7 280.6h0M266.4 293.4h0M272.6 247.1h0M277.7 292.9h0" stroke="#bb2a34" stroke-width="3.2"/><path d="M234.1 286.1h0M237.7 286h0M255 293.7h0M245.9 292.6h0M255.6 283.5h0" stroke="#d1e5f0" stroke-width="3.2"/><path d="M296.8 287.7h0M301.3 292.3h0" stroke="#2a71b2" stroke-width="3.2"/><path d="M307 278h0M263.1 283.2h0M244.3 284.9h0M217 281.9h0M264.1 288.2h0" stroke="#b2d5e7" stroke-width="3.2"/><path d="M264.2 286.7h0M273.3 287.8h0M266.7 286h0M292.2 285h0M260.6 285h0M292.9 286.1h0M281.1 286h0" stroke="#f6b293" stroke-width="3.2"/><path d="M207.2 249.9h0M214.9 243.8h0M306.4 287.7h0M220.5 212.5h0M297 293.5h0M201.1 240.8h0M221.6 233.9h0M205.1 281.2h0" stroke="#3a88bd" stroke-width="3.2"/><path d="M247.3 295.7h0M229.6 281.1h0M303.2 278.4h0M205.4 254h0M271.7 280.7h0M242.1 285.2h0M299.7 284.7h0" stroke="#a2cde2" stroke-width="3.2"/><path d="M242.3 294.2h0M268.1 285.3h0M255.4 288.5h0M219.8 244h0M302.3 268.7h0M304.3 297.9h0M300.4 282h0M247.7 269.8h0M235 285.8h0M304.6 288.9h0M207.3 296.3h0M223.5 260.4h0" stroke="#6aacd0" stroke-width="3.2"/><path d="M275.8 277.8h0M276.9 271.7h0M280.8 288.8h0" stroke="#b2182b" stroke-width="3.2"/><path d="M292.8 287.7h0M270.9 246h0M274.2 245.4h0M274.8 257.4h0" stroke="#9f1228" stroke-width="3.2"/><path d="M264.1 291.3h0M265.1 283h0M244.2 293.9h0M237.4 295.2h0M237.6 283.9h0M263.1 285.3h0M281.2 283.9h0" stroke="#c1ddec" stroke-width="3.2"/><path d="M242 295.2h0M263.8 289.6h0M260 292.9h0M260.6 279h0" stroke="#e4eef4" stroke-width="3.2"/><path d="M235.3 286.7h0M236 287.4h0M231 279.3h0M244.2 292.4h0" stroke="#daeaf2" stroke-width="3.2"/><path d="M289.8 281h0M268.2 291.9h0M270.6 288.6h0" stroke="#d6604d" stroke-width="3.2"/><path d="M302.8 287.9h0M252.3 296.8h0M242.2 290.7h0M253.2 294.3h0M250.4 279.5h0" stroke="#1a5899" stroke-width="3.2"/><path d="M290.4 290.9h0M290.6 275.9h0M274.5 254.3h0" stroke="#c43c3c" stroke-width="3.2"/><path d="M275.8 293.7h0M276.4 288h0" stroke="#7a0622" stroke-width="3.2"/><path d="M272.2 293.6h0M277.4 282.5h0" stroke="#8c0c25" stroke-width="3.2"/><path d="M241 287.8h0M237.9 278.2h0M207.3 265.8h0" stroke="#4393c3" stroke-width="3.2"/><path d="M216.7 220.3h0M221.6 273.7h0M218.9 214.1h0M218.6 213.8h0M217 219.8h0M219.9 223.9h0M218.2 273.7h0M218.7 231h0M222 256.4h0M225.2 226.3h0M217 219.3h0M217.2 286.1h0M220.8 245.9h0M218.1 283.7h0M219.3 216.1h0M221.3 256h0M220 263.1h0M215.7 230.1h0M223.4 236.7h0M222.9 268.3h0M228.6 218.7h0M216.3 225.3h0M214.9 282.1h0M216.6 279h0" stroke="#053061" stroke-width="3.2"/><path d="M280.9 277.5h0M261 290.6h0M274.5 297.2h0M255.3 294.6h0M282.4 273.9h0M234.3 285.9h0M287.8 271h0" stroke="#fae9df" stroke-width="3.2"/><path d="M217.2 289.3h0M214.9 279.6h0M217.1 254.1h0M213.8 255.2h0M218.3 224.2h0M220.8 225.9h0M221.2 244.3h0M221 276.6h0M221.9 221.3h0M207.9 245.1h0M219.8 218.1h0M225.6 246.2h0M222.3 239.7h0M217.2 220.2h0M225.5 241.1h0M218.4 276.1h0M219.5 236.3h0M213.7 276.1h0M227.7 229.5h0M222 285.7h0M216.7 283.9h0M222 227.9h0M218.4 267.8h0M224.9 255.2h0M224 255.9h0M221.5 298.7h0M221.1 259.9h0M229.3 288.7h0M220.7 269.5h0M216.7 259.1h0M220.8 256.8h0M226.2 273.5h0M219.8 241.3h0M218.6 254.9h0M220.3 233.6h0M221.3 260.9h0M228.8 237.6h0M229.6 247.7h0M214.3 287.4h0M227 255.5h0M223 275.1h0M221.4 249.8h0M219.7 268.4h0M222.2 285.5h0M217.8 278.8h0M218.6 254h0M220.4 283.7h0M222.8 266.9h0M221.7 250.2h0M222.5 226.8h0" stroke="#0c3e74" stroke-width="3.2"/><path d="M246.8 287.1h0M256.5 266.2h0M284.5 281.7h0M263.6 287.7h0M240 283.8h0M258.7 288.5h0M256.2 276h0" stroke="#daeaf2" stroke-width="3.2"/><path d="M275.1 280.2h0M282.7 287.3h0" stroke="#de715a" stroke-width="3.2"/><path d="M238.1 290.3h0M264.2 288.1h0M233.8 289.8h0M260.9 281.9h0M282.9 286.5h0M271.3 264.8h0M256 298.7h0M241.5 280.8h0M245.2 280.5h0M247.3 297.2h0M266.5 290.6h0M251.8 299.4h0M254.9 296.5h0" stroke="#b2d5e7" stroke-width="3.2"/><path d="M288.6 293.2h0M282.4 290.1h0M273.7 298.1h0M274 287.7h0M244.5 289.5h0M247.6 296.4h0M240.7 288.4h0M287.9 294.8h0M280.2 291.4h0M262.6 293.4h0M289.5 285.5h0M286.9 282.8h0M277.3 299h0" stroke="#fbceb6" stroke-width="3.2"/><path d="M300.5 293.7h0M219.8 286.9h0M200.3 266.3h0M254.6 258.4h0M237.1 299.1h0M304.6 290.6h0M271.6 284.2h0M300.7 292.2h0" stroke="#4393c3" stroke-width="3.2"/><path d="M224.3 250.4h0M304.1 290.6h0M249.2 284h0M302.4 292.2h0M255.6 292.4h0M242.6 290.8h0M217.5 247.7h0M270.3 296.3h0M271 278.1h0M298.2 275.6h0" stroke="#92c5de" stroke-width="3.2"/><path d="M235.4 296.5h0M294.1 287.3h0M303 276h0M234.2 280.8h0M248.6 274h0M308.3 290.2h0M249 289.2h0M230.7 281.5h0" stroke="#327cb8" stroke-width="3.2"/><path d="M291.2 288.1h0M271.1 293.3h0M302.8 287.1h0M272.8 277h0M267.7 290.2h0M277.9 286.9h0M285.6 294.1h0M288.7 293.5h0" stroke="#ec9475" stroke-width="3.2"/><path d="M271.6 282.9h0M250.2 283.3h0M282.8 278.8h0" stroke="#f4a582" stroke-width="3.2"/><path d="M301.7 298.2h0M221.1 239.4h0M296.9 289.6h0M223.2 244.5h0M249.3 297.6h0M300 291.2h0M301.6 269h0M216.1 257.8h0M224.7 227.5h0M217.4 297.8h0M226.3 230.5h0M220.9 223.8h0" stroke="#134b86" stroke-width="3.2"/><path d="M300.9 293.7h0M266.2 278h0M257.8 270.2h0M286.8 289.6h0M292.2 300.2h0M279.8 274.3h0M277.9 291h0M280.3 282.3h0M290.5 277.8h0M250.6 292.6h0M266.1 285.6h0M260.8 301.4h0" stroke="#fddbc7" stroke-width="3.2"/><path d="M239.3 293.2h0M223.4 268.9h0M295.9 286.8h0M274.6 291.5h0" stroke="#6aacd0" stroke-width="3.2"/><path d="M265.3 283.3h0M243.5 295.3h0" stroke="#d1e5f0" stroke-width="3.2"/><path d="M242 286.4h0M255.6 299.4h0M256.3 278h0M265.8 278.5h0" stroke="#e4eef4" stroke-width="3.2"/><path d="M263 284.8h0M242.3 296.4h0M281.7 293h0M284.1 274.3h0M281.4 282.4h0M273.7 280.9h0M305.8 273.2h0M280.4 269h0M283 290.4h0" stroke="#f8c0a4" stroke-width="3.2"/><path d="M240.2 281.8h0M261 286.7h0M208.4 298.5h0M237.5 291.1h0M295.8 281.3h0M230 286.3h0M257.4 279.9h0M243.3 290.7h0M278.1 272.2h0M293 265.1h0M240.9 283.4h0M248.2 294.3h0M255.6 287.3h0M294.1 295.7h0" stroke="#a2cde2" stroke-width="3.2"/><path d="M287.2 287h0M277.9 292.1h0M289.6 275.2h0" stroke="#c43c3c" stroke-width="3.2"/><path d="M275.4 274.7h0M256.2 287.4h0M262.4 293.7h0M281.5 286.2h0M284.9 278.3h0M239.9 283.6h0M291.8 289.4h0M291.4 282.8h0M260.1 289h0" stroke="#f6b293" stroke-width="3.2"/><path d="M297.9 286.3h0M266.9 265h0M199.7 233.4h0M294.3 278.2h0M302.8 290.6h0M234.3 293.9h0M235.9 282.1h0M274.6 282.8h0M238 282.9h0M236 279.9h0" stroke="#57a0ca" stroke-width="3.2"/><path d="M235.8 282.2h0M204.4 264.3h0M237.9 279.2h0M293 288.3h0M243.4 292.4h0M239.6 286.1h0M249.8 300.2h0" stroke="#2a71b2" stroke-width="3.2"/><path d="M265.3 298.5h0M265.7 282.2h0" stroke="#eef2f5" stroke-width="3.2"/><path d="M282.3 281.9h0M268.6 291h0" stroke="#b2182b" stroke-width="3.2"/><path d="M273.2 246.1h0M278.3 236.1h0" stroke="#9f1228" stroke-width="3.2"/><path d="M278.7 238.5h0M277.8 242.2h0" stroke="#cd4e44" stroke-width="3.2"/><path d="M284.3 277.4h0M265.1 283h0M279.6 289.1h0M239.2 292.9h0M248.6 277.7h0" stroke="#fce2d3" stroke-width="3.2"/><path d="M283.2 297.8h0M280.9 277.1h0" stroke="#d6604d" stroke-width="3.2"/><path d="M230.4 278.4h0M231.9 295.1h0M290.1 294.1h0M235.6 298.9h0M236.3 291.7h0M205.9 252h0" stroke="#7eb8d7" stroke-width="3.2"/><path d="M244.6 276.1h0M278.2 287h0M241.5 286.7h0M239.4 291.9h0M244.3 293.4h0M264.4 280.8h0M262 286.5h0M240.7 294.1h0M248.4 284h0" stroke="#c1ddec" stroke-width="3.2"/><path d="M264.5 273.5h0M261.4 293.4h0M257.7 289.8h0" stroke="#f7f7f7" stroke-width="3.2"/><path d="M274.7 256h0M272 245.6h0M274.7 245h0M266.6 280.5h0M283.9 289.1h0M286.8 285.5h0" stroke="#bb2a34" stroke-width="3.2"/><path d="M251.9 268.2h0M233.2 295h0" stroke="#1a5899" stroke-width="3.2"/><path d="M307 293.8h0M306.4 294.6h0" stroke="#2166ac" stroke-width="3.2"/><path d="M272.2 289.9h0" stroke="#7a0622" stroke-width="3.2"/><path d="M257.9 291.6h0M241.3 286.7h0M263.8 295.8h0" stroke="#f8f0eb" stroke-width="3.2"/><path d="M292.5 281h0M287 286.9h0M290.9 291.8h0" stroke="#e58268" stroke-width="3.2"/><path d="M305.3 285.1h0M231.7 285.7h0M238.8 272.6h0M303.7 289.9h0M208 280.2h0M254.4 289.1h0" stroke="#3a88bd" stroke-width="3.2"/><path d="M286.5 290.3h0M274.4 245.8h0" stroke="#8c0c25" stroke-width="3.2"/></g>
<g stroke-linecap="round" fill="none"><path d="M67.2 420.4h0M30.8 398.2h0M96.9 431.8h0M61.9 401.3h0M118 425.7h0M101.8 435h0M131.1 433.9h0M109.1 428.4h0M67.7 437.7h0M111.1 425h0M72.8 433.5h0M62.4 436.7h0" stroke="#de715a" stroke-width="3.2"/><path d="M104.6 411.4h0M122.1 437.6h0M63.2 427.3h0M84.6 431.8h0M101.4 424.7h0M49.8 424.4h0M75.3 421.2h0M109 435.7h0M80 418.4h0M118.8 404.5h0M78 434.9h0M107.1 427.5h0M124.3 435.8h0M91.5 432.2h0" stroke="#fbceb6" stroke-width="3.2"/><path d="M76.3 425.5h0M81.4 412.5h0M93.6 432.7h0M116.3 441.1h0" stroke="#f7f7f7" stroke-width="3.2"/><path d="M91.7 424.1h0M64.2 425.8h0M96 427.8h0M134.9 439.2h0M102.9 426.2h0M61.9 441.7h0M107.9 423.2h0M73.4 427.8h0M51.1 424.3h0" stroke="#fae9df" stroke-width="3.2"/><path d="M120.7 415.9h0M123.5 429.6h0M74.5 427.5h0M89.2 423.3h0M105.8 436.5h0M62.7 436.9h0M35.6 437.6h0M73.8 432.2h0M129 434.9h0M81.8 431.1h0M127.7 422.6h0" stroke="#d6604d" stroke-width="3.2"/><path d="M86.1 421.2h0M71.6 416.3h0M111.7 434h0M63.4 431.7h0M70.8 439.1h0M75.4 406.6h0M117.4 435.2h0M71.6 433.4h0" stroke="#9f1228" stroke-width="3.2"/><path d="M53.2 391.4h0M48.8 419.1h0M43.6 388.1h0M46.5 352.2h0M49.4 359.3h0M47.8 366.6h0M43.8 389.7h0M45.2 389.5h0M43.5 362.3h0M44.8 380.7h0M42.5 364.8h0M48.5 409.2h0M36.1 411.8h0M47.9 360.2h0M49.2 389.5h0M48.6 358.5h0" stroke="#134b86" stroke-width="3.2"/><path d="M94.2 415h0M111.7 436.1h0M80.3 431.7h0M99.6 421.6h0M31.5 425.6h0M37.9 426.7h0M75.4 425.4h0M70.5 415.7h0M95.6 427.1h0M109 401.7h0M62.3 428.8h0M99 429.6h0M99.6 426.7h0M63.2 418.3h0" stroke="#f8c0a4" stroke-width="3.2"/><path d="M90.9 426h0M117.4 437.8h0M110.1 434.1h0M127.3 422h0M131.5 439.1h0M135.1 417.6h0M61.5 429.5h0M88.9 425.1h0M114.8 411.5h0M75.9 423.3h0M75.5 420.2h0M78.6 419.4h0M101.6 413.1h0M119.7 417.3h0" stroke="#fce2d3" stroke-width="3.2"/><path d="M81.5 410.3h0M62.8 421h0M94.4 390.2h0M118.8 437.6h0M112.5 432.9h0M60.5 426.2h0M114.9 416.7h0M73.9 420.6h0M99.1 432.7h0M102.9 405.6h0M109.5 431.4h0M114.9 402.7h0M49.3 440.3h0" stroke="#f6b293" stroke-width="3.2"/><path d="M46.3 380.2h0M49.7 399.5h0M98.8 393.8h0M43.4 392.1h0M48 433.5h0M48.8 431.4h0M45.8 421.7h0" stroke="#4393c3" stroke-width="3.2"/><path d="M115.2 436.5h0M126.5 426.4h0M102.6 395.2h0M72.3 439.7h0M33.3 380.9h0M106.2 413.9h0" stroke="#daeaf2" stroke-width="3.2"/><path d="M68.9 436.6h0M118.2 436.4h0M118.7 424.8h0M40.6 433.7h0M100.2 401.4h0M91.8 425.7h0M60.2 431.8h0M120 434.2h0M61 421.9h0M73.8 416h0M92.7 432.7h0M71 398.5h0M74.1 417.2h0" stroke="#f4a582" stroke-width="3.2"/><path d="M99.7 424.6h0M37.8 433.8h0M92 429.8h0M48.9 435.7h0M116.1 424h0M112.7 428h0M68.2 423.1h0M98.7 436.8h0M82.7 435.1h0M110.6 416.2h0M58 410.9h0M113.8 428.4h0" stroke="#ec9475" stroke-width="3.2"/><path d="M106.2 384.1h0M133.7 437.4h0M50.4 424.9h0M105.3 432.6h0M79.1 418.5h0M65.4 428.6h0M120.6 410h0M96.5 425.1h0M82.6 434.5h0M118.5 419.8h0" stroke="#d1e5f0" stroke-width="3.2"/><path d="M45.6 428.7h0M40.3 425.7h0M49 382.4h0M47.4 420.9h0M49.7 394.6h0" stroke="#7eb8d7" stroke-width="3.2"/><path d="M47.4 402h0M72.2 425.2h0M68.6 423.7h0M126.1 433.2h0M104.3 395.5h0M46.4 431.1h0M50.6 389.6h0" stroke="#92c5de" stroke-width="3.2"/><path d="M47 366.1h0M53.6 384.6h0M46.7 375.2h0M43.1 409h0M49.9 401h0" stroke="#053061" stroke-width="3.2"/><path d="M48.5 357.5h0M45.1 380h0M45 362.1h0M49.4 379.8h0M51.5 387.5h0M52.7 385.9h0M45.4 377.1h0M45.3 396.4h0M40.1 385.5h0M51.6 354.2h0M48.8 375.6h0M42.9 376.2h0M51.6 377.2h0M41.3 363.4h0" stroke="#0c3e74" stroke-width="3.2"/><path d="M90.4 422.9h0M132.4 437.3h0M94.9 431h0M123.1 434.8h0M59.6 419.9h0M84.3 428.6h0M45.1 439.6h0M61.9 420.6h0M120.1 415.5h0M118.1 439.1h0M40.4 422.5h0M63 437.6h0M61.8 437.4h0" stroke="#fddbc7" stroke-width="3.2"/><path d="M128.8 399.9h0M121.1 411.9h0M114.2 422.9h0M119.5 427.2h0M57.6 431.7h0" stroke="#b2182b" stroke-width="3.2"/><path d="M46.9 376.6h0M56.9 379.8h0M49.5 406h0M48.9 366.8h0M45.8 403.2h0M47.5 379.8h0M50.7 397.6h0M41.3 369.5h0" stroke="#1a5899" stroke-width="3.2"/><path d="M112.4 430.6h0M80.3 432.1h0M118.6 431.3h0M120.3 438h0M26.5 374.6h0M97.4 426h0M75.4 424.5h0M103.1 430.8h0M115.7 427.1h0M112.7 433.4h0M90.9 433.1h0" stroke="#cd4e44" stroke-width="3.2"/><path d="M114.9 420.5h0M80 427h0M61.1 434.6h0M127.5 437.5h0M69.4 433.1h0" stroke="#c43c3c" stroke-width="3.2"/><path d="M104.8 424.3h0M62.7 436.8h0M98.2 401.2h0M96.1 431.2h0M82.8 412.1h0" stroke="#8c0c25" stroke-width="3.2"/><path d="M98.6 420.9h0M134.2 431.2h0M96.6 424.4h0M111 430.7h0" stroke="#e4eef4" stroke-width="3.2"/><path d="M87 407.6h0M47.3 422.5h0M73.2 418.3h0M104.2 427.2h0M104 423.2h0M133.7 419.3h0M46.3 423.7h0M105.1 419.8h0M76.2 422.4h0M102.7 417.2h0M130.4 433.2h0M83 426.7h0" stroke="#e58268" stroke-width="3.2"/><path d="M105 403.2h0M99.4 433.5h0M126.7 435.3h0M64.3 429.6h0M113.4 432.3h0M80.7 430.6h0M83.9 422.1h0M103.3 432.4h0" stroke="#c1ddec" stroke-width="3.2"/><path d="M44.6 400.2h0" stroke="#2166ac" stroke-width="3.2"/><path d="M41.1 362.9h0" stroke="#2a71b2" stroke-width="3.2"/><path d="M136.4 426.4h0M92.8 419.5h0M100.3 415.3h0M107 428.8h0" stroke="#bb2a34" stroke-width="3.2"/><path d="M41.7 421.2h0M66.9 420h0M39.1 419h0M27.1 391.8h0M126.9 423.1h0M92.9 410.6h0M110.2 433.4h0" stroke="#b2d5e7" stroke-width="3.2"/><path d="M39.8 427.6h0M58.8 407.4h0" stroke="#57a0ca" stroke-width="3.2"/><path d="M85.4 428.2h0M63.4 430.6h0M41.3 396.5h0M96.3 421.7h0M101.3 378.2h0" stroke="#a2cde2" stroke-width="3.2"/><path d="M118.2 431.4h0M114.3 414.3h0M44.8 429.6h0M27.9 399.7h0M129.2 424.8h0M80.1 426.5h0M75 430.1h0M129.7 430h0M26.7 434.3h0M45.8 437.8h0" stroke="#eef2f5" stroke-width="3.2"/><path d="M50.3 419.9h0" stroke="#327cb8" stroke-width="3.2"/><path d="M48.1 365.7h0" stroke="#3a88bd" stroke-width="3.2"/><path d="M30.8 384.5h0" stroke="#f8f0eb" stroke-width="3.2"/><path d="M106.6 433.7h0M128.2 439.2h0M92.7 436h0M117.7 425.8h0M89.9 423.2h0M97.5 432.4h0M86.8 432.9h0" stroke="#b2182b" stroke-width="3.2"/><path d="M70.2 425.6h0M75.6 439h0M101.7 427.4h0M85.3 428.8h0M48.1 420.4h0M133.8 418h0M34 389.9h0M90.9 431.3h0M104 419.3h0M82.2 428.5h0M56.4 421.1h0M128.1 432.3h0M63.6 423.5h0M104.7 439.3h0M99 433.6h0M93.2 433.4h0M74.7 422.7h0M57.8 419.3h0" stroke="#fce2d3" stroke-width="3.2"/><path d="M47.6 367.8h0M48 363.5h0M40.3 377.7h0M53.5 375.5h0M50.8 357.6h0M49.9 415.3h0M53.5 409.7h0M41.7 383.8h0M46.6 370.1h0M46 394.4h0M47.7 363.8h0M46.8 384.3h0M58.8 379h0M39.4 385.5h0M50.1 379h0M50.2 353.8h0M45.9 376.6h0M51.9 374.3h0M48.4 379.5h0M50 369.6h0" stroke="#134b86" stroke-width="3.2"/><path d="M107.8 435.3h0M69.1 434.2h0M130 418.4h0" stroke="#eef2f5" stroke-width="3.2"/><path d="M91.5 421.2h0M93.7 430.2h0M128.2 423.8h0M114.1 428.8h0M117.9 428.3h0M71.1 424.9h0M71 433.9h0M109.3 410h0M119.9 425.8h0M34.1 436.3h0M114.4 434.4h0M68.6 429.8h0M104.5 432.9h0" stroke="#f4a582" stroke-width="3.2"/><path d="M85.8 433.5h0M114 427.3h0M119.6 427.7h0M135.3 427.5h0M72.7 432.6h0M128.4 426.9h0M70 420.2h0M73.2 421.3h0M102.7 432.6h0M107.9 426h0M34.1 405.8h0" stroke="#de715a" stroke-width="3.2"/><path d="M51.1 362.5h0M50.3 380.5h0M49.3 352.6h0M46.1 355h0M43.9 360.3h0M47.3 352.5h0M42.2 377.4h0M54.2 386.3h0M46.7 391.1h0M43.1 382.2h0" stroke="#0c3e74" stroke-width="3.2"/><path d="M41.9 390.8h0M45.8 386.3h0M43.7 389.1h0M47.8 375.2h0M45 357.8h0M42.6 370.8h0M40.4 415.7h0M45.6 371.3h0" stroke="#1a5899" stroke-width="3.2"/><path d="M113.3 410.2h0M65.3 432.2h0M46.4 440h0M39 423.8h0M131.1 431h0M63.9 437.9h0M119 425h0M107.6 428.8h0M72.7 430.9h0" stroke="#f6b293" stroke-width="3.2"/><path d="M46.4 407.2h0M50.1 392.6h0M60.9 426.1h0M100.8 433.7h0M81.8 433.7h0M82.4 423.5h0M42.9 434.2h0M101 385.4h0M84.6 430.9h0M69 422.5h0" stroke="#c1ddec" stroke-width="3.2"/><path d="M48 366h0M38.9 367h0M43.4 375.1h0M47.2 370.8h0M51 364.8h0M46.6 384h0M36.4 389.5h0M49.9 369.1h0" stroke="#053061" stroke-width="3.2"/><path d="M100.7 429.9h0M49 433.6h0M123.8 433.5h0M117.4 415.9h0M79.7 429.8h0M64.4 423.9h0M127.2 422h0M105.9 422.6h0M43 429.4h0M95.4 429.5h0M77.2 418.2h0M50.3 400.4h0" stroke="#b2d5e7" stroke-width="3.2"/><path d="M51.6 412.6h0M49.5 380.2h0M43 417.9h0" stroke="#6aacd0" stroke-width="3.2"/><path d="M46.5 429.7h0M134.8 408.8h0M43.3 423.4h0M32.2 394h0M95 431.9h0M99.4 387.1h0M98.5 420.7h0M115.3 423.2h0M52.8 428.2h0" stroke="#e4eef4" stroke-width="3.2"/><path d="M91.8 397.4h0M93.9 422.8h0M90.7 409.5h0M90.6 429.6h0M69.5 426.9h0M82.3 416.4h0M100.1 427.8h0M75.8 429.2h0M135.9 437.5h0M103.2 428h0M90.9 428.2h0M80 434.3h0M70.5 403.4h0M122.3 423.4h0M87.4 425h0" stroke="#fddbc7" stroke-width="3.2"/><path d="M47.3 393.2h0M48.3 405.6h0M49.2 403.3h0" stroke="#2166ac" stroke-width="3.2"/><path d="M95.3 405.5h0M68.8 435.2h0M64.5 426h0M95.4 433h0M87.4 419h0M108 423.9h0" stroke="#bb2a34" stroke-width="3.2"/><path d="M124.6 437.1h0M123.6 427.7h0M117.9 405.5h0M111.4 426.3h0M129.1 408.7h0M80.9 430.7h0M97.4 428.6h0M103.9 433h0" stroke="#c43c3c" stroke-width="3.2"/><path d="M91.7 428.3h0M66.2 433.6h0M98.2 421.4h0M132.2 424.5h0M40.3 412h0M126.5 424.7h0" stroke="#92c5de" stroke-width="3.2"/><path d="M69 429.5h0M113.9 422.3h0M136.2 425.2h0M102.6 417.8h0M83.7 422h0M62.1 426.7h0M71.4 437.9h0M126.4 428.9h0M35.7 371.1h0M100.6 433.5h0M70.8 420.4h0M64.7 418.2h0M94 439.2h0M102.6 441.5h0" stroke="#f8c0a4" stroke-width="3.2"/><path d="M41 432.4h0M92.5 430.2h0M46.8 435.5h0M110.2 392.6h0M91 425h0M133.2 427.7h0M86.6 432.3h0M91.9 423h0M67.2 420.8h0M117.2 430.9h0M131.1 437.9h0M43.8 421.9h0M127.6 430.4h0M92.7 430.7h0M72.9 438.5h0M136.3 424.3h0" stroke="#ec9475" stroke-width="3.2"/><path d="M98.2 387.2h0M44.5 377.7h0M42.6 384.7h0M48.7 366.3h0" stroke="#4393c3" stroke-width="3.2"/><path d="M104.1 422.9h0M137.3 428.1h0M64.2 435.2h0M93.5 426h0M104.2 422.5h0M65.6 405.3h0M99.9 428.6h0M61.8 425.8h0M110.9 413.6h0M119.7 426.1h0M68.9 425.2h0M31.9 421.2h0M94 407.3h0" stroke="#e58268" stroke-width="3.2"/><path d="M43 417.3h0M50.2 370.1h0M50 419.2h0M46.7 437.8h0M101.3 394.3h0" stroke="#57a0ca" stroke-width="3.2"/><path d="M94.4 433.4h0M79.1 436.8h0M106.9 401.9h0M71 432.4h0" stroke="#cd4e44" stroke-width="3.2"/><path d="M100.1 431h0M117.5 429.5h0" stroke="#8c0c25" stroke-width="3.2"/><path d="M100.8 396.8h0M48.3 406.6h0" stroke="#327cb8" stroke-width="3.2"/><path d="M91 426.7h0M110.4 424.5h0M42.2 427.9h0M69 430.7h0M45.3 438.7h0M131.4 428.9h0" stroke="#daeaf2" stroke-width="3.2"/><path d="M90.5 439h0M116.6 421h0M103.7 411.7h0M67.8 427.8h0M77.2 419.5h0M47.5 436.9h0" stroke="#d1e5f0" stroke-width="3.2"/><path d="M74.1 435.7h0M101.5 426.5h0M94.9 425.3h0M82.7 427.9h0M42.1 426.5h0M102.6 433.7h0M120.9 433.6h0M85.7 441.2h0M90.2 429.7h0M74 438.1h0" stroke="#fbceb6" stroke-width="3.2"/><path d="M47.2 397.3h0M135.6 430.1h0M77.4 440.3h0M32.6 420.5h0M110 436.6h0M101.6 397.4h0" stroke="#a2cde2" stroke-width="3.2"/><path d="M115.6 428h0M129.6 427.9h0M77.5 436.6h0M105.7 405.4h0M123.5 433.7h0M36.6 436.3h0M89.9 425.3h0M43.3 430.8h0" stroke="#d6604d" stroke-width="3.2"/><path d="M46.4 432.5h0M107.5 420.6h0M62.4 426.3h0M111.9 420.6h0M127.6 432.6h0M113.5 431.9h0M110.4 432.5h0" stroke="#fae9df" stroke-width="3.2"/><path d="M98.1 374.7h0M50.6 436.3h0M45.2 400.1h0M54.7 386.9h0M48.4 373.9h0" stroke="#7eb8d7" stroke-width="3.2"/><path d="M45.2 401.3h0M52.9 354.4h0" stroke="#3a88bd" stroke-width="3.2"/><path d="M38.7 399h0M97.7 386h0M46.1 418.4h0" stroke="#2a71b2" stroke-width="3.2"/><path d="M95.2 423.7h0M27.9 380.8h0M100.9 429.6h0" stroke="#f7f7f7" stroke-width="3.2"/><path d="M62.8 427.4h0M79.1 407.9h0M74.5 409.8h0" stroke="#9f1228" stroke-width="3.2"/><path d="M43.5 360.3h0M47.6 365.9h0M48 384.3h0M49.1 379.7h0M46.3 376.3h0M45.5 371h0M45.2 407.8h0M47.6 385.9h0M42.9 397.8h0M44.3 387.7h0M46.6 381.3h0M47.1 373.6h0M48.1 400.9h0M42.5 370.1h0M56.4 387.7h0M50.2 376.7h0M49.6 406.9h0M48.5 390.2h0M43.1 365.3h0" stroke="#0c3e74" stroke-width="3.2"/><path d="M107.7 417.5h0M113.6 429.6h0M88.2 433.4h0M104.7 432.1h0M68.3 420.8h0M84.5 429.8h0M66 432.9h0M62.8 419.9h0M127.5 432.2h0" stroke="#e58268" stroke-width="3.2"/><path d="M44 429.3h0M120.9 427.3h0M128.5 438.2h0M93.7 405h0M101.3 437.2h0M68.1 426.7h0M71.1 433.4h0M62.7 422.1h0M101.4 422.8h0M89.4 433.4h0M119.8 405.1h0M61.1 425.9h0M57.5 421.5h0M113.6 425.5h0" stroke="#f4a582" stroke-width="3.2"/><path d="M73.6 427.1h0M98.4 422.9h0M109.2 430.1h0M87.8 426.7h0M71.3 429.5h0M58.7 435.1h0M78.7 408.2h0M90.4 427.7h0M100.5 420.9h0M95.4 431h0M86.9 429h0" stroke="#fddbc7" stroke-width="3.2"/><path d="M41.7 419.6h0M51.1 390.4h0M52 366.3h0M50.2 408.9h0M43.8 359.3h0M46.1 356.1h0M48.2 389.8h0M49.7 408.3h0" stroke="#053061" stroke-width="3.2"/><path d="M101.9 420.2h0M64.9 430.3h0M127.7 433.7h0M60.6 429.8h0M119.8 428.3h0M126.8 431.2h0M68.3 426.7h0M63.1 431.7h0M92.6 418.5h0M99.6 417h0M66.2 431.9h0M91.2 420.8h0M107 431.4h0M117.7 431.8h0" stroke="#fbceb6" stroke-width="3.2"/><path d="M43.9 394.1h0M40.6 395.2h0M48.4 413.7h0M45.7 354.1h0M45.1 364.2h0M47.8 416.6h0M34.7 385.1h0M45.4 353.8h0M52.4 386.2h0M44 360.2h0M46.7 363.9h0M54.5 369.5h0M48.8 367.9h0M51.5 367.5h0M47.5 409.5h0M55.6 377.6h0M53.1 370.5h0M46.5 408.4h0M45.4 394h0M49.3 366.8h0" stroke="#134b86" stroke-width="3.2"/><path d="M115.4 433.2h0M87.8 430.6h0M84.6 410.2h0M91.3 413.5h0M76.1 437.6h0M74.1 437.2h0" stroke="#cd4e44" stroke-width="3.2"/><path d="M127.3 433.7h0M130.9 430.6h0M46.6 426.9h0M68.8 426.4h0M110.9 414.3h0M27.1 406.3h0M45.2 416.1h0M64.7 419.2h0M100.8 427.7h0M48.8 425.7h0M43.5 399.1h0M46.8 403.1h0M83 416h0M53.8 395.5h0M131.4 430.6h0" stroke="#a2cde2" stroke-width="3.2"/><path d="M62.2 436.5h0M108.5 433h0M26.5 373.4h0M82.4 439.4h0M81.4 398.4h0M109.6 418.8h0M67.7 423.4h0" stroke="#eef2f5" stroke-width="3.2"/><path d="M118 428.1h0M93 418h0M111.3 421.7h0M129.8 416h0M74.4 436.4h0M61 420.8h0M75.4 414h0M113.8 426.9h0M118.6 429.4h0M88.8 426.5h0M87.6 441.4h0M114.6 411h0" stroke="#ec9475" stroke-width="3.2"/><path d="M66.1 433.2h0M109.1 421.9h0M97.9 433.3h0M66.7 423.6h0M104.7 426.9h0M53 413.5h0M105.1 376.1h0" stroke="#92c5de" stroke-width="3.2"/><path d="M47.9 379.4h0M48.7 361.3h0M46.6 358.1h0M43.8 359.8h0M52.3 381.1h0M57.2 418.4h0M47.6 396.8h0M47.7 363.8h0M55.4 358.7h0" stroke="#1a5899" stroke-width="3.2"/><path d="M123.7 429.6h0M111.1 417.4h0M84.2 419.9h0M132.6 413.2h0M82.4 427.3h0M98.4 424.2h0" stroke="#b2182b" stroke-width="3.2"/><path d="M92.1 423.3h0M102.2 414.7h0M100.5 438.1h0M105 427h0M104.7 431h0M113.3 430.3h0M135.1 430.2h0M118.2 422.8h0M107.7 417.1h0M97.1 436.3h0M97.8 418.1h0M90.6 435.8h0M101.4 431.5h0" stroke="#de715a" stroke-width="3.2"/><path d="M91 428.1h0M129.6 430.6h0M71.4 416.1h0M119 440.2h0M89.2 433.7h0M63.9 439.1h0M111.7 418.3h0M94.5 430.2h0M92.9 425.6h0M115.5 433.5h0M60 435h0M113.7 422.8h0M125 415.6h0" stroke="#f8c0a4" stroke-width="3.2"/><path d="M89.8 424.8h0M105.5 378.5h0M91.9 423h0M40.5 416.1h0M101.5 396h0M77 423.3h0M56.1 428.7h0M61.1 433.9h0M116.4 415.2h0M109.2 413.9h0M64.8 422.9h0" stroke="#d1e5f0" stroke-width="3.2"/><path d="M67 421.8h0M114 427h0M35.2 438.5h0M129.6 427.1h0M56.8 426.3h0M58.5 425.7h0M69.4 430.8h0M112.4 434.1h0M76.6 440.2h0M72 420.5h0M122.7 426.8h0" stroke="#d6604d" stroke-width="3.2"/><path d="M124.7 426.3h0M31.2 404.3h0M83 427.4h0M44 426.1h0M44.9 423.7h0M104.9 412.2h0M82.8 438.7h0M41.1 427.4h0M130.5 429.9h0M93.3 430.6h0M47.2 423.7h0M110.7 429.1h0M109.8 430.4h0" stroke="#fce2d3" stroke-width="3.2"/><path d="M69.1 436.4h0M83.3 406.2h0M109.5 427.3h0M132.1 425.1h0M133.2 434.6h0M44.2 437.8h0M75.2 424h0" stroke="#e4eef4" stroke-width="3.2"/><path d="M76 424h0M108.3 426.2h0M109.7 426.5h0M67.5 434.1h0M81.7 436.5h0M75.8 429.2h0" stroke="#b2d5e7" stroke-width="3.2"/><path d="M62.6 422.2h0M100 386.1h0M99 429.9h0M101.5 385h0M66.4 426.1h0M107.2 409h0M106.4 429.1h0M70.3 435.3h0" stroke="#c1ddec" stroke-width="3.2"/><path d="M129.2 432.2h0M121.1 418.2h0M92.5 422.2h0M116.9 434.1h0M43.5 423.9h0M128.4 409h0M119.3 421h0M108.2 422.4h0M77.4 432.6h0M32.7 392h0M49 425.5h0M104.1 439h0" stroke="#f6b293" stroke-width="3.2"/><path d="M92.1 438.5h0M122.6 421.3h0M62.4 438.9h0M82.1 434.6h0M117.3 417.8h0M116.3 425.5h0M41.7 422.1h0" stroke="#daeaf2" stroke-width="3.2"/><path d="M64.3 431.1h0M110 437.8h0M87.7 421.9h0M120.9 435.7h0" stroke="#9f1228" stroke-width="3.2"/><path d="M45 413.7h0M48.3 438.7h0" stroke="#6aacd0" stroke-width="3.2"/><path d="M82.4 432.4h0M70.2 432.4h0M75 434.3h0M78.6 439.4h0" stroke="#bb2a34" stroke-width="3.2"/><path d="M106.6 414.3h0M70.1 430.7h0" stroke="#8c0c25" stroke-width="3.2"/><path d="M48.8 396.4h0M50.8 395.9h0M43.4 419h0" stroke="#57a0ca" stroke-width="3.2"/><path d="M50 384.5h0M51.7 395.2h0M49.8 415.1h0" stroke="#7eb8d7" stroke-width="3.2"/><path d="M83.1 418h0M66.8 423.8h0M107.1 422.3h0M67.5 428.4h0M85.5 428.5h0M65.6 412.6h0M81.2 429.1h0" stroke="#fae9df" stroke-width="3.2"/><path d="M133.8 433.8h0M84.7 431.6h0M34.8 420.2h0" stroke="#f7f7f7" stroke-width="3.2"/><path d="M104.6 382.2h0" stroke="#2a71b2" stroke-width="3.2"/><path d="M98.8 385.6h0M48.1 396h0" stroke="#3a88bd" stroke-width="3.2"/><path d="M47.9 399.9h0" stroke="#327cb8" stroke-width="3.2"/><path d="M93.4 420.5h0M98.1 404.8h0M114.7 434.8h0M75.4 417.7h0" stroke="#c43c3c" stroke-width="3.2"/><path d="M45.4 394.9h0" stroke="#4393c3" stroke-width="3.2"/><path d="M101.2 385.8h0M44.6 418.8h0" stroke="#2166ac" stroke-width="3.2"/></g>
<g stroke-linecap="round" fill="none"><path d="M239.7 421.2h0M254 411.1h0M282.6 434.9h0M299 427.2h0M252.5 427.8h0M282 432.2h0M252.5 419.2h0M287.3 412.3h0M272.1 427.5h0M288.2 427.9h0M230.5 411.7h0M283.6 425.8h0M268.8 422.5h0M203.3 385.3h0M275.2 418h0" stroke="#fbceb6" stroke-width="3.2"/><path d="M277.1 412.2h0M244.1 417.1h0M304 439.9h0M267.4 431.8h0M307.6 418.4h0M252.8 432.9h0M243 416.5h0M233.6 435.4h0M306.2 420.1h0M307.4 440h0M271.3 394.6h0M265.4 411.4h0M255.1 435.3h0M298.6 434h0M248 421h0M247.9 425.3h0M275.8 433.2h0" stroke="#f8c0a4" stroke-width="3.2"/><path d="M248.8 426.3h0M291.3 438.4h0M259.5 408.4h0M212.8 426.5h0M291.1 432.1h0M247.8 422h0M247.9 407.4h0M275.6 431.6h0M221.8 441.1h0M274.1 413.9h0M292.2 418.1h0M255.5 427.5h0M286.3 429.2h0" stroke="#f6b293" stroke-width="3.2"/><path d="M264.2 424.9h0M241.4 437.4h0M253.9 413.3h0M290.5 426.5h0M247.9 426.2h0M241.1 424.5h0M274.3 435.8h0M235.9 432.5h0M257.9 429h0M213.1 434.5h0M261.4 425.9h0M265.2 433.5h0" stroke="#ec9475" stroke-width="3.2"/><path d="M293.2 416.7h0M266.7 415.8h0M293.6 412.7h0M256.8 429.4h0M234.4 421.4h0M269 425.9h0M240.7 423.9h0M269.9 426.8h0M250.5 435.7h0M246.6 418h0" stroke="#c43c3c" stroke-width="3.2"/><path d="M258.6 422h0M304.9 438.1h0M276.7 428h0M246.3 433h0M288.6 424.8h0M199.6 392.6h0M292.8 438.8h0M246.3 416.8h0" stroke="#fce2d3" stroke-width="3.2"/><path d="M225.7 392.2h0M221.3 419.9h0M244.7 426h0M208.1 438.4h0M245.7 419.1h0M215 365.6h0M272.8 416.1h0M286.8 415.1h0M292.6 416.3h0M234.8 429.6h0M277.6 420.6h0M221.1 359.3h0M222.4 401.8h0M221.3 432.2h0" stroke="#c1ddec" stroke-width="3.2"/><path d="M263.4 426.8h0M271.9 434.3h0M268.1 427.9h0M217.3 430.4h0M220 380.6h0M217.6 440.4h0M234.4 442.5h0M300 438.3h0M288.8 441.9h0M218.9 431.9h0M212.9 423.3h0M218.3 438.6h0" stroke="#daeaf2" stroke-width="3.2"/><path d="M203.3 399h0M269.4 432.6h0M287.4 421.3h0M221.4 436.5h0M268.5 428.6h0M236.8 430.4h0M200.4 400.5h0M290.6 439.9h0M291 420.6h0M243.5 399.3h0M256.4 422.9h0" stroke="#de715a" stroke-width="3.2"/><path d="M218.8 381h0M220.4 361h0M222.2 395.4h0" stroke="#7eb8d7" stroke-width="3.2"/><path d="M296 430.4h0M272.1 422.4h0M265.3 420.3h0M235.9 431.4h0M302.2 430.8h0" stroke="#fae9df" stroke-width="3.2"/><path d="M287.7 437.3h0M266.9 391h0M234.4 402.1h0M235.2 437.6h0M287.4 417.5h0M277.8 433.4h0M237.9 429.4h0M254.3 431.9h0M271.2 437.6h0M285.9 433.1h0" stroke="#eef2f5" stroke-width="3.2"/><path d="M289.9 438.6h0M210.3 434.6h0M295.6 435.6h0M270.7 402h0M303.6 434.7h0M287.4 403.5h0" stroke="#92c5de" stroke-width="3.2"/><path d="M294.6 438.4h0M306.2 438.2h0M271.1 421.7h0M290.7 437.2h0M243.3 439.9h0M299.2 436.1h0M290.7 432.2h0M283.5 431.5h0M271.5 430.4h0M301.7 425.6h0M279.6 428.3h0M235.7 419.1h0M233.5 422.7h0" stroke="#fddbc7" stroke-width="3.2"/><path d="M235.3 421.8h0M284.9 431.4h0M277.3 425.1h0M226.1 385.4h0M217.9 377.9h0M275.4 427h0M235.5 438.4h0" stroke="#a2cde2" stroke-width="3.2"/><path d="M272.2 425.4h0M247 428.3h0M252.8 432.5h0M210.4 427.5h0M244.8 440.5h0M266.1 433.5h0M286.7 423.7h0M281.5 402.5h0M281.5 436.5h0M301.5 435.7h0M218.8 424.5h0M280.4 424h0M285.2 434.2h0M253.2 431.4h0M199.2 435.1h0" stroke="#f4a582" stroke-width="3.2"/><path d="M278.7 384.9h0M273.8 379h0" stroke="#f8f0eb" stroke-width="3.2"/><path d="M218.1 429.5h0M219.5 366.9h0M219 353h0M218.3 404h0" stroke="#6aacd0" stroke-width="3.2"/><path d="M219.9 402.8h0M216.3 390.5h0M217.3 381.5h0M211.6 419.8h0M224.1 355h0M231.3 408.2h0M213.8 397.3h0" stroke="#2a71b2" stroke-width="3.2"/><path d="M221 358.3h0M219.4 377.4h0M222 406.8h0M220.3 367.4h0M236.7 426.6h0M213.8 370.3h0M276.8 396.3h0M221.7 390.3h0M245.3 434.3h0M302.9 434h0M213.8 364.2h0" stroke="#1a5899" stroke-width="3.2"/><path d="M299.8 422.8h0M296.8 436.6h0M251.1 420.2h0" stroke="#e58268" stroke-width="3.2"/><path d="M262.9 423.7h0M217.7 390.3h0M283.1 417h0M282.7 434.2h0M248.7 423.2h0M247.5 430.9h0M264 433h0" stroke="#e4eef4" stroke-width="3.2"/><path d="M301.3 400.7h0M275.4 406.4h0M272.7 402.2h0M264.3 426.5h0M223.1 390.4h0" stroke="#3a88bd" stroke-width="3.2"/><path d="M217.6 380.8h0M217.5 362.9h0M284.2 434.8h0M216 363.1h0M222.2 400.3h0M215.9 392.9h0M252.6 427.3h0M230.1 432.5h0" stroke="#0c3e74" stroke-width="3.2"/><path d="M284.2 436.9h0M229.4 380.6h0M285 433.7h0M277.5 404h0M213.6 363.7h0M221 410h0M208.6 412.6h0M220.6 366.5h0M224.1 378h0" stroke="#134b86" stroke-width="3.2"/><path d="M216.1 388.9h0M221.4 367.6h0M225.2 386.7h0M251.6 419.3h0M285.2 428.8h0" stroke="#2166ac" stroke-width="3.2"/><path d="M261.7 424.1h0M278.3 437.3h0M217.1 401h0M221.9 380.6h0M219.8 423.3h0M308.9 427.2h0M222.3 425.2h0M255.3 412.9h0M291.3 405.3h0M223.6 425.1h0" stroke="#d1e5f0" stroke-width="3.2"/><path d="M233 427h0M235.7 428.1h0M204 426.4h0M268.6 432h0M205.8 381.7h0M244.1 434.2h0M234.3 438.2h0" stroke="#d6604d" stroke-width="3.2"/><path d="M264.5 430.6h0M271.6 433.5h0M269.1 425.2h0M263.4 433.9h0" stroke="#f7f7f7" stroke-width="3.2"/><path d="M275.1 396h0M222.9 425.7h0M223.2 398.4h0M221.3 376.4h0M222.8 420.7h0M220.5 434.3h0M234.9 437.5h0" stroke="#4393c3" stroke-width="3.2"/><path d="M257.1 432.6h0M221.9 360.1h0M214.2 422h0M224 388.3h0M234 430.3h0M278.7 414.7h0M218.3 422.5h0" stroke="#327cb8" stroke-width="3.2"/><path d="M273.9 425.5h0M291.2 425.6h0M212.3 428.4h0M299.4 423.9h0M293.1 410.8h0M212.6 386.3h0M255.2 435.9h0M240.2 438.5h0" stroke="#b2d5e7" stroke-width="3.2"/><path d="M235.2 437.7h0M276.5 424h0M199 375.4h0M281.6 429.2h0M245.9 428.6h0M232.7 432.6h0M241.9 433.9h0" stroke="#cd4e44" stroke-width="3.2"/><path d="M232.1 420.7h0M306.7 432h0M248.4 424.1h0M289.9 436h0M300.2 423.4h0" stroke="#b2182b" stroke-width="3.2"/><path d="M246.4 421.4h0M239.4 420.8h0M279.5 429.6h0M292 428h0M292.5 435h0" stroke="#bb2a34" stroke-width="3.2"/><path d="M219.2 376h0M221.5 383.2h0M215.6 409.8h0M219.9 421.7h0" stroke="#053061" stroke-width="3.2"/><path d="M217.8 397.2h0M215.4 377h0" stroke="#57a0ca" stroke-width="3.2"/><path d="M279.1 434.5h0M280.3 436.1h0M219 430.5h0M264.3 398.2h0M264.2 429.1h0M263.5 427.5h0M246.6 436.5h0M286.5 428.1h0M280 421.4h0M300.9 427.7h0M290.4 429.1h0M254.8 417.2h0M204.7 394.8h0M308.4 438.3h0M290 430.3h0M270.7 422.2h0M265.2 431.5h0" stroke="#e58268" stroke-width="3.2"/><path d="M242.7 426.4h0M286.4 423.1h0M220.6 421.2h0M290.2 426.6h0M307.3 409.6h0M206.5 390.7h0M256.2 422.8h0M259.1 433.1h0M243.5 433.2h0" stroke="#92c5de" stroke-width="3.2"/><path d="M220.1 368.6h0M215.9 375.9h0M228.9 421.9h0M276.2 412.5h0M279.4 402.7h0M237.2 419h0M224.4 375.1h0" stroke="#3a88bd" stroke-width="3.2"/><path d="M264 422h0M234.9 427.1h0M263.2 410.3h0M251.6 408.7h0" stroke="#f7f7f7" stroke-width="3.2"/><path d="M258.3 434.3h0M300.7 424.6h0M289.1 421.8h0M242 427.7h0M300.1 433.4h0M236.1 424.3h0M292.4 426.6h0M236.9 424.7h0M299.7 422.8h0" stroke="#fddbc7" stroke-width="3.2"/><path d="M223.6 363.3h0M224.1 413.4h0M222.6 393.4h0M219.1 370.9h0M217.7 400.9h0M216.2 389.9h0M236.7 436h0M217 378.5h0M218.4 377.4h0M212.8 412.8h0" stroke="#0c3e74" stroke-width="3.2"/><path d="M214.4 391.6h0M243.5 434.7h0M236.4 438.7h0M227.2 387.7h0M243 404.2h0M220.9 374.7h0M222.5 370.4h0" stroke="#327cb8" stroke-width="3.2"/><path d="M285.8 411h0M297.1 437.9h0M273.1 434.3h0M238.1 406.1h0M275.2 433.4h0" stroke="#bb2a34" stroke-width="3.2"/><path d="M220.5 364.3h0M226 376.3h0M222.8 381.3h0M266.9 434.2h0M214.2 384.6h0M263.4 432.1h0M266.4 423.6h0M219.8 353.3h0M222.7 354.6h0M220.8 407.4h0M220.9 380.3h0M286.9 435.2h0M221.2 367.1h0M212.9 416.5h0" stroke="#2a71b2" stroke-width="3.2"/><path d="M218.9 408h0M231.3 379.8h0M211.9 386.3h0M217.5 358.6h0" stroke="#134b86" stroke-width="3.2"/><path d="M220.5 366.8h0M211.4 367.8h0M215.5 418.1h0M222 381h0M262.4 424h0M219.1 384.8h0M248.3 430h0M289.9 416.7h0M286 432.7h0M294.8 424.2h0M262.4 426.1h0M287.8 424h0M308.8 425.1h0" stroke="#daeaf2" stroke-width="3.2"/><path d="M273.2 430.7h0M218.3 387.1h0M241.3 436h0M302.5 419.2h0M235.3 428.2h0M269.9 429.4h0M299 425.5h0" stroke="#a2cde2" stroke-width="3.2"/><path d="M212.8 378.5h0M217.7 402.1h0M270.2 386.8h0M276.7 423.3h0M215.5 430.2h0" stroke="#4393c3" stroke-width="3.2"/><path d="M248.1 439.8h0M237.8 433h0M273.3 397.6h0M296.1 428.5h0M263 439.8h0M308.7 426h0M282.7 393.4h0M307.8 428.3h0M237 426.8h0M282.9 425.3h0M254.7 429.3h0M267.7 424.5h0M206.6 437.1h0M204.4 422h0M262.7 430.5h0M280.5 424.7h0" stroke="#fbceb6" stroke-width="3.2"/><path d="M219.8 394h0M221.8 353.4h0M306.3 418.8h0M218.5 395.2h0M220.8 406.4h0M218.6 419.2h0M219.2 391.9h0M215.1 371.6h0M222.8 401.2h0" stroke="#1a5899" stroke-width="3.2"/><path d="M300.7 440h0M283.9 427.1h0M259.3 433.7h0M241.5 431.5h0" stroke="#cd4e44" stroke-width="3.2"/><path d="M218.9 440.8h0M233.4 426.9h0M265.2 436.8h0M305.7 428.5h0M303.6 431.8h0M243.9 438.7h0M275.1 434.5h0M296 434.5h0M259.9 425.8h0M245.2 431.7h0M275.1 442.3h0M277 433.7h0" stroke="#ec9475" stroke-width="3.2"/><path d="M221.5 434.4h0M241.5 430.3h0M215.8 424.2h0M252.5 435.1h0M217.8 439.5h0M242.5 421h0M257.1 431.7h0M280.1 429.6h0M271 421.5h0M215.8 431.6h0M280.4 426.8h0M266.5 408.1h0" stroke="#f4a582" stroke-width="3.2"/><path d="M267.8 406.3h0M241.6 435h0M275.1 418.6h0M239.7 421.6h0M284.4 421.4h0" stroke="#fae9df" stroke-width="3.2"/><path d="M223.3 358.4h0M218.6 355.8h0M223.5 365.6h0M226 410.5h0M234.6 427.5h0M214.7 428.7h0M301.6 409.5h0M275.7 428.8h0M263.4 429h0M276.4 433.8h0M215.5 418.7h0" stroke="#b2d5e7" stroke-width="3.2"/><path d="M213.5 433.2h0M211.5 424.6h0M223.1 437.1h0M308.1 430.9h0M286.6 429.6h0M251.6 437.6h0M259.9 419.8h0M247 410.6h0M303.9 429.7h0M245.7 422.1h0M266.5 440h0M225.3 429h0" stroke="#de715a" stroke-width="3.2"/><path d="M266.2 431h0M302.1 428.7h0M238.7 434.4h0M215.4 435h0M267.5 432.7h0M209.1 437.1h0M273.4 430.4h0M292.2 426.9h0" stroke="#f6b293" stroke-width="3.2"/><path d="M274.2 428.2h0M263.5 425.8h0M249.9 441.1h0M274 427.3h0M245.2 433.4h0M277.2 440.1h0M271.5 434.4h0M273.5 386.2h0M243.3 421.2h0M304.7 425.3h0M249.7 419h0" stroke="#fce2d3" stroke-width="3.2"/><path d="M270.7 388h0M211.2 399.8h0M222.4 369.9h0M222.5 420h0M206.6 406.6h0" stroke="#6aacd0" stroke-width="3.2"/><path d="M257.8 429.6h0M267.9 433.8h0" stroke="#b2182b" stroke-width="3.2"/><path d="M276.6 423.7h0M292.1 428.5h0M264.4 423.8h0M219.3 385.1h0M263.1 430.4h0M270 433.2h0M208.2 371.9h0M225.4 355.2h0M200.4 381.6h0M226.7 387.1h0M267.9 430.3h0M258.2 442h0" stroke="#c1ddec" stroke-width="3.2"/><path d="M219.7 371.6h0M254.9 424.3h0M208.9 390.3h0M255.2 428.7h0M220.3 376h0M252.2 430.6h0M272.4 429.4h0M241.4 426h0" stroke="#d1e5f0" stroke-width="3.2"/><path d="M272.6 431.8h0M273.3 434.5h0M300.6 433.1h0M298.9 429.7h0M281.8 410.8h0M282.5 437.4h0M241.5 423.3h0M240.3 428.6h0" stroke="#c43c3c" stroke-width="3.2"/><path d="M265 431h0M276.5 420.1h0M272.6 428.6h0M219.2 438.6h0M247.2 423.5h0M282.9 433.3h0M234.3 426.6h0M278.4 423.4h0M220 437.7h0M241.1 430.6h0" stroke="#f8c0a4" stroke-width="3.2"/><path d="M222.4 416.1h0M219.3 436.3h0M218.9 433.3h0" stroke="#7eb8d7" stroke-width="3.2"/><path d="M219.7 398.1h0M270.6 375.5h0M216.4 361.1h0M222.6 379.8h0M271.9 387.9h0M214.7 378.2h0" stroke="#2166ac" stroke-width="3.2"/><path d="M288.1 428.8h0M296.3 434.3h0M303.6 438.7h0M293.4 434.4h0" stroke="#eef2f5" stroke-width="3.2"/><path d="M290.4 406.3h0M278.2 406.2h0M243.6 425.7h0M216.3 422.7h0M215.1 385.5h0M215.6 383h0" stroke="#053061" stroke-width="3.2"/><path d="M254.3 434.5h0M267.4 426.1h0M309.8 428.9h0M289.7 431.7h0M205.1 421.3h0M291.5 425.8h0M283.4 414.4h0M230.3 420.1h0M300.1 431.2h0M218.1 372.1h0" stroke="#e4eef4" stroke-width="3.2"/><path d="M222.7 370.9h0M220.2 364.6h0M273.8 395.1h0M221.7 404.1h0" stroke="#57a0ca" stroke-width="3.2"/><path d="M250 437.4h0M214.6 427.3h0M253.4 431.5h0M265.7 434.2h0M266 426.8h0M249.7 420.3h0M245.4 439.3h0M246.5 438.9h0" stroke="#d6604d" stroke-width="3.2"/><path d="M274.1 398.2h0" stroke="#f8f0eb" stroke-width="3.2"/><path d="M216 361.1h0M218.2 354.9h0M301.7 433h0M270.4 434.1h0M255.5 428.2h0M223.3 396.7h0M219.1 382.1h0M279.7 409.8h0M228.9 388.5h0M221 391h0" stroke="#2166ac" stroke-width="3.2"/><path d="M280.2 418.3h0M216.5 430.1h0M241.9 431.6h0M242.7 433.2h0M290.2 432.6h0" stroke="#e4eef4" stroke-width="3.2"/><path d="M246.1 427.9h0M301 439h0M255.8 407h0M217.7 416.9h0M273.3 428.5h0M236.4 439.9h0M280.7 423.2h0M286.3 427.7h0M216.8 388.5h0M215 370.9h0M260.1 442.2h0M220.2 364.6h0M282.3 431.2h0" stroke="#b2d5e7" stroke-width="3.2"/><path d="M214.2 420.4h0M217.9 354.6h0M229.7 419.2h0M263.8 414.3h0M220.4 400.7h0" stroke="#053061" stroke-width="3.2"/><path d="M274.4 421h0M223.6 391.2h0M281.7 430.9h0M235.1 423h0M233.5 421.6h0M261.7 434.5h0M255.3 439.5h0M220.7 390.6h0M270.3 418.9h0" stroke="#daeaf2" stroke-width="3.2"/><path d="M216.4 394.9h0M217.6 365h0M219.2 364.7h0M273.8 438h0M235.6 432.5h0M220.1 386.7h0M220.1 397.6h0M222.1 407.7h0M254.9 428.1h0" stroke="#2a71b2" stroke-width="3.2"/><path d="M213.1 396h0M220.9 414.5h0M272.5 386.9h0M302.1 431.4h0M225.5 414.3h0M225.6 371.3h0" stroke="#0c3e74" stroke-width="3.2"/><path d="M237.4 431.1h0M296.2 430.4h0M263.5 428.9h0M203.7 405.1h0M265 423h0M283.8 422.5h0M286.1 430.4h0M277.2 431.8h0M240.8 427.5h0M265.1 419.3h0M270.6 405.6h0M261.9 434.2h0M281.7 414.7h0" stroke="#f8c0a4" stroke-width="3.2"/><path d="M287.9 434h0M220.5 385.1h0M220.4 380.2h0M221.6 380.5h0M217.5 414.5h0M227 370.3h0M249.9 433.4h0M216 399.9h0M228.1 378.4h0M277.6 376.9h0M215.6 366.1h0" stroke="#327cb8" stroke-width="3.2"/><path d="M299.8 434.5h0M241.3 427.2h0M257.1 411h0M295.1 422.1h0M277.2 427.7h0M282.1 419.6h0M284.9 434.9h0M259.4 429.8h0M251.1 440.2h0M263.1 436.6h0" stroke="#fae9df" stroke-width="3.2"/><path d="M234.7 437.3h0M290.5 428.9h0M238.6 434h0M264.6 424.1h0M243.8 430.3h0M248.6 438.4h0M271.5 430.7h0M277.2 432.9h0M221.5 426.3h0" stroke="#ec9475" stroke-width="3.2"/><path d="M270.9 423.7h0M283.4 415.1h0M289.4 434.9h0M300.9 409.8h0M284.2 419.1h0M304.6 425.9h0M305.7 435.4h0M258 429.3h0M238.1 413.4h0M246.6 438h0" stroke="#fce2d3" stroke-width="3.2"/><path d="M293.4 428.1h0M303.4 431.4h0M207.7 439.3h0M278 379.3h0M282.5 438.6h0M302.3 416.8h0M260.2 422.7h0M254.6 435.4h0M247.9 414.8h0M229.3 427.1h0M273.7 386.6h0M237.3 423.7h0M235.3 420.7h0M303.9 431.4h0M293.4 436.5h0M276.6 439.8h0" stroke="#eef2f5" stroke-width="3.2"/><path d="M300.2 434.5h0M224.8 381.9h0M293.6 419h0M221.3 397.2h0M265.4 426.4h0M217.9 395.7h0M219.3 403.9h0M255.5 416.8h0M288.9 416h0M280.2 417.9h0M247.5 435.1h0M215.9 419.8h0" stroke="#c1ddec" stroke-width="3.2"/><path d="M220.1 366.7h0M221.2 362.1h0M207.2 385.9h0M224.9 387h0M216.3 360.6h0M218.8 377.1h0M222.7 409.7h0M221.3 368.7h0M217.1 419.6h0M283.2 429.9h0M221.8 367.6h0" stroke="#1a5899" stroke-width="3.2"/><path d="M220.3 417.4h0M281.6 422.7h0M292.3 429.1h0M282 428.1h0M216.3 360.1h0M218.6 356.9h0M286.2 423.6h0" stroke="#a2cde2" stroke-width="3.2"/><path d="M219.1 427.7h0M297.2 427.1h0M251.2 409h0M220.8 439.5h0M239.3 424.6h0M256.7 420.7h0M249.5 424.1h0M282.2 427.3h0M261.3 427.3h0M273.9 423.6h0M232.5 435.8h0M219.7 424.5h0M240 434.9h0" stroke="#fbceb6" stroke-width="3.2"/><path d="M262.3 425.6h0M302.1 427.9h0M231 426.5h0M243.6 434.2h0M205.2 392.8h0M233.6 434.7h0M240.2 424.2h0" stroke="#de715a" stroke-width="3.2"/><path d="M239.5 422.6h0M231.2 435.9h0M221.3 426.5h0M257.2 432.4h0M289.8 418.6h0M273 421.7h0M228.6 429.5h0M303 430.7h0M244.5 421.3h0M253.7 429.9h0M269.6 437.1h0M300 433h0" stroke="#e58268" stroke-width="3.2"/><path d="M286.5 427.8h0M243.9 416.9h0M254.9 440.2h0M239.2 424.4h0M291.1 430.2h0M257 430.6h0" stroke="#c43c3c" stroke-width="3.2"/><path d="M265.5 418.8h0M266.2 405.8h0M260.3 427.5h0M216 424.7h0M299.3 432h0" stroke="#d1e5f0" stroke-width="3.2"/><path d="M274.7 415.5h0M213 416.9h0M215.4 398.6h0M219.6 374.4h0" stroke="#3a88bd" stroke-width="3.2"/><path d="M241.6 437.2h0M253.9 399.2h0M217.4 424.5h0M292.3 405.9h0M265.8 431.4h0" stroke="#d6604d" stroke-width="3.2"/><path d="M281 433.8h0M291.5 441h0" stroke="#9f1228" stroke-width="3.2"/><path d="M248.5 424.8h0M217.7 408.6h0M224 368.3h0" stroke="#4393c3" stroke-width="3.2"/><path d="M233.1 430.6h0M219.1 358.9h0M279.1 415.1h0M255.6 418.8h0M262.9 428.5h0M307.6 431h0M263.7 421.6h0M222.7 377.5h0M207.3 421h0M226.3 396.3h0M270.9 425h0" stroke="#92c5de" stroke-width="3.2"/><path d="M264.6 439.3h0M240 429.2h0M240.8 421.6h0M238.5 433.7h0M286.1 426.3h0" stroke="#cd4e44" stroke-width="3.2"/><path d="M199 374.2h0M199.6 407.1h0M236.8 431.9h0M240.6 427.5h0M267.9 431.8h0M273.9 432.3h0" stroke="#f7f7f7" stroke-width="3.2"/><path d="M216.5 361h0M224.5 367.1h0M220.6 396.8h0M267 431h0M220 410.3h0M288 434.3h0M222.3 415.9h0" stroke="#134b86" stroke-width="3.2"/><path d="M273 438.9h0M237.2 420h0M254.9 433.2h0M234.9 439.7h0" stroke="#b2182b" stroke-width="3.2"/><path d="M260.3 431.4h0M246.9 437.2h0M277.5 427.8h0M280.8 427h0M291.8 421.8h0M279.6 423.1h0M305.1 414h0M235.2 422.9h0M287.2 435.6h0M279.5 432.2h0M288.8 426.3h0M230 422.3h0M214.2 422.9h0" stroke="#f6b293" stroke-width="3.2"/><path d="M283.6 418.2h0M264.4 423.8h0M272.1 417.8h0M285.8 431.1h0M242.6 431.5h0M238.9 426.9h0M249.1 441h0M247.7 424.8h0" stroke="#f4a582" stroke-width="3.2"/><path d="M218 371.8h0M271.3 386.4h0M224.2 396h0M216.7 438.6h0M219 409.2h0M217.9 394.8h0" stroke="#57a0ca" stroke-width="3.2"/><path d="M274 396.8h0M222.5 385.3h0M274 385.8h0M220.6 401.7h0M222.2 409.1h0M227.9 359.5h0" stroke="#7eb8d7" stroke-width="3.2"/><path d="M306.3 434.6h0M216.5 426.9h0M238.7 432.7h0M290.7 423.6h0M278.9 429.9h0M254.2 437.3h0M287.1 411.8h0M248.3 430h0" stroke="#fddbc7" stroke-width="3.2"/><path d="M277.1 383h0M277.4 413h0M213.6 428.2h0" stroke="#6aacd0" stroke-width="3.2"/><path d="M260.7 434.2h0M265.9 421.3h0M242.8 436.1h0M295.2 427.6h0M233.6 426.7h0M247.9 418.5h0M297.5 416.4h0" stroke="#bb2a34" stroke-width="3.2"/></g><g><g stroke-linecap="round" fill="none"><path d="M412.6 230.9h0M437.5 220.5h0M443.1 218.6h0M450.8 229.6h0M404.9 234.6h0M445.5 235.7h0M446.3 240h0M434.6 242.2h0M441.5 245.4h0M421.4 248.6h0M415.3 253.1h0M452 257.4h0M396 259h0M439.1 265.4h0M431.6 278.6h0M446 278.3h0M385.6 281.8h0M386.9 304.1h0M556 300h0M561 312h0M555 312h0M538.3 325.8h0M528.7 330.6h0M548 320h0M556 328h0M563 335h0M552 340h0M560 345h0M567 338h0M544 330h0M540 345h0M578 283h0M575 292h0M580 300h0M572 310h0M584 304h0M577 320h0M566 325h0M570 335h0M583 330h0M563 345h0M573 350h0M588 345h0M592 356h0M565 365h0M580 362h0" stroke="#9acd32" stroke-width="6.6"/><path d="M412.3 227.7h0M427.4 224h0M440.2 239.8h0M407.8 253.4h0M406.2 257.4h0M419.8 260.3h0M450.8 267h0M379.7 264.3h0M374.9 272.2h0M444.7 271.1h0M419 285.5h0M437 285.5h0M390.1 300.1h0M403.8 291.2h0M427.9 286.4h0M433.5 290.4h0M421.4 298.5h0M440.7 300.9h0M443.9 305.7h0M450.8 308.1h0M460.8 309.7h0M431.9 321h0M420.6 329.8h0M425.4 331.4h0M441.5 330.6h0M415 341h0M425.4 341h0M432 346.6h0M421.4 355.5h0M440 355.5h0M443 360.3h0M446.3 363.5h0M400.6 367.5h0M406.2 366.7h0M455.2 341.8h0M463.2 320h0M418 320h0M424 324h0M436 325h0M438 337h0M378.1 369.3h0M370 383.8h0M369.2 391.3h0M373.3 392.9h0M396.5 372.5h0M407.8 367.2h0M413.4 364.8h0M404.6 376h0M405.4 384.9h0M416.6 377.7h0M422.2 382.5h0M427 375.3h0M414.2 388.9h0M433.5 380.9h0M436.7 384.1h0M444.7 390.5h0M446.3 394.5h0M401.7 394h0M436.7 395.3h0M437.5 402.6h0M435.9 407.4h0M443.1 402.6h0M372.5 403.4h0M375.7 403.4h0M371.7 408.2h0M375.7 409.8h0M377.3 413h0M374.1 414.6h0M383.7 413h0M378.1 421h0M373.3 427.4h0M395.7 406.3h0M403.8 408.2h0M399 415.4h0M410.2 412.2h0M419.8 405.8h0M420.6 411.4h0M419.8 419.4h0M421.4 421.8h0M404.6 420.2h0M402.2 426.6h0M431.1 417.8h0M427 432h0M406.2 434.2h0M448 435.5h0M460 416.2h0M459.2 425h0M452 372h0M448 382h0M458 366h0M464 360h0M464.4 320.1h0M469 339h0M473 346h0M478 355h0M484 350h0M604.7 349.3h0M608.4 346.6h0M654.9 349h0" stroke="#b22222" stroke-width="6.6"/><path d="M378.1 239.4h0M418.2 245.4h0M435.4 246.2h0M437.5 257.4h0M401.7 263h0M425.4 262.2h0M434.3 263h0M424.6 270.3h0M428.7 272.7h0M428 280.7h0M375.3 304.1h0M416.6 290.9h0M441.5 312.9h0M400.1 316.1h0M413.4 333.8h0M459.2 340.7h0M374.1 384.1h0M422.2 390.2h0M435.1 393h0M453.6 402.6h0M462.4 390.5h0M466.4 380.9h0M503 304h0M506.5 311h0M523 310h0M506 325h0M510 330h0M514 336h0M507 340h0M519 341h0M524 344h0M517 345h0M482 347h0M490 352h0M496 345h0M485 357h0M492 355h0M593.8 332h0M597 333h0M566.4 358.5h0M597.4 354.8h0" stroke="#ffd700" stroke-width="6.6"/><path d="M421 227.2h0M438.8 229.6h0M434.8 235h0M429.5 249.4h0M401.7 253.1h0M431.6 259h0M409.4 261.4h0M409.4 267h0M381.3 271.4h0M421.4 268.7h0M409.4 273.5h0M415.8 273.5h0M417.4 278.3h0M422.2 280.7h0M378.1 316.6h0M423 287.2h0M443.1 290h0M411 298.5h0M414 300h0M402.2 308.9h0M410.2 308h0M404.9 316.6h0M416 312h0M422.2 313.7h0M428.7 310.5h0M433.5 312h0M402.2 328.2h0M412.6 325.8h0M410.2 342.6h0M427 344.2h0M393.3 350.7h0M402.2 353.1h0M415 352.3h0M428.7 350.7h0M419 317h0M433 330h0M385.6 377.3h0M391.4 388.1h0M412.6 374.5h0M419.3 372h0M430 386.5h0M441.5 377.7h0M409.4 397h0M368 412.7h0M605.6 317.4h0M616.6 341.1h0M669.5 333.8h0M612 360.3h0" stroke="#4b0082" stroke-width="6.6"/><path d="M430 235.7h0M423.8 249.4h0M438.6 252.3h0M449.2 262.6h0M390.1 268.7h0M434.8 271.9h0M422.2 276.2h0M406.2 306.5h0M406.5 327.9h0M416.6 335.4h0M396.2 339.1h0M567.3 304.6h0M577.3 314.7h0M597.4 312h0M577.3 340.2h0M591 340.2h0M598.3 338.4h0M579.2 351.2h0M586.5 353h0M608.4 353h0M602.9 360.3h0M616.6 346.6h0M669.5 368.5h0M582.4 256.9h0" stroke="#008080" stroke-width="6.6"/><path d="M576 269.5h0M579.3 282.2h0M579.3 291h0M585.4 293h0M554.2 293h0M436 261.1h0M417.3 233.9h0M407 250.1h0M505.3 372.5h0" stroke="#9acd32" stroke-width="6.6"/><path d="M582.4 275.3h0M421.1 249.7h0M418.4 237.4h0M436.6 303.3h0M422.6 310.6h0M440.3 300.6h0M416 318.7h0M402.4 303.6h0M401.9 400h0M399.6 397.7h0M465.9 339.9h0M474.7 352.5h0M475.3 361.8h0M463.9 349.1h0M461 357.5h0M463.5 356.3h0M454.3 362.5h0M460.5 371.2h0M466.8 393.1h0M474.2 375.3h0M451.3 378.1h0M483.5 387.4h0M464.5 379.3h0M481.3 389.8h0M474 400h0M484.4 393.2h0M469.4 372.9h0M472.2 412.9h0M465.4 387.1h0M471.1 409.9h0M476.1 381.1h0M477.9 383.5h0M482.1 384.4h0M486.1 404.1h0M477.3 410.5h0M484.4 402.5h0M474.4 377.4h0M468.6 379.8h0M477.2 392.9h0M461.8 383.8h0M487.7 381.5h0M496.3 380h0M498.5 361.6h0M498.8 403.2h0M507.1 406.7h0M495.2 398.7h0M494.6 399.4h0M493.2 394.7h0M497.5 380.4h0M500.6 411.1h0M505.6 416.3h0M509.1 408.2h0M503.7 377.9h0M515.8 394.5h0M509.5 383h0M499 365.7h0M512.8 383.8h0M488.3 399.3h0M486.3 396.6h0M485.7 383h0M505.3 375.8h0M508 383.6h0M501 378.5h0M505.3 405h0M496.7 388.3h0M488.3 392.2h0M513.2 399.9h0M503.4 416.9h0M497.5 381.7h0M504 387.6h0M510.6 397.9h0M506.2 365.8h0M501.9 399.4h0" stroke="#ffd700" stroke-width="6.6"/><path d="M665 378h0M672 386h0M414.3 243.7h0M407.5 327.9h0M426.8 286.1h0M426.5 303.8h0M405.3 304.8h0M415.4 283.8h0M412.4 340.3h0M419.1 309h0M437.2 301.3h0M415.2 318.2h0M420.1 324.6h0M413.6 306.5h0M435.6 294.2h0M437.3 289.8h0M437 305.1h0M401 329.1h0M401.4 306h0M416.4 364.8h0M429.5 398.7h0M404.9 380.2h0M425.9 403.5h0M411.5 357.3h0M441.8 385.1h0M421.4 389.3h0M415 414.4h0M432 383.3h0M415.9 369h0M434 378.5h0M442.3 396.4h0M424.4 365.2h0M394.5 364.6h0M399.6 405.8h0M398.6 369.9h0M407 389.5h0M420.7 358.4h0M425 384.3h0M400.7 372.4h0M389.1 390.6h0M400.2 410.6h0M438.9 404.1h0M420 390.4h0M426.6 386.4h0M429.2 358h0M400.3 357.6h0M418.6 355.5h0M400.4 362.9h0M411.4 357.2h0M416.5 377.3h0M429.6 410.4h0M392.6 366.5h0M410.4 388.3h0M418.4 386.2h0M396.4 361h0M404.5 382h0M427.4 405.6h0M403.4 384.1h0M372.3 416.4h0M372.6 400.6h0M385 419.4h0M383.7 407h0M379.3 412.1h0M372.4 408.8h0M373.6 416.7h0M374.8 402.5h0M384.9 417.7h0M378.9 410.6h0M379.4 423.7h0M377.3 408.4h0M387.1 414.3h0M468.6 343.2h0M470.1 399.5h0M472.4 345.2h0M463.7 403h0M460.5 347.2h0M462.3 353.8h0M470.1 377.4h0M470.9 386.6h0M459.6 350.9h0M465.4 380h0M476.9 369.3h0M463.7 343.7h0M464.6 362.2h0M471.4 366.7h0M464.7 369.1h0M464.7 368.9h0M473.9 390.5h0M466.6 379.3h0M460.6 371.2h0M472.4 382h0M457.6 396.4h0M473.7 354.9h0M455 395.3h0M467.8 383.4h0M482.2 386.9h0M476.7 415.1h0M463.9 392.7h0M463 383.6h0M475.1 415.1h0M464.4 404.2h0M469.8 395.4h0M470.3 371.7h0M482.5 371.6h0M464.6 379.5h0M483.4 375.2h0M478.2 395.2h0M465.4 396.4h0M487 389.5h0M474.4 368.3h0M471.6 401.4h0M474.9 410.9h0M463.8 400.8h0M475.4 385.2h0M497.2 384.3h0M509.1 397.7h0M503.1 385.7h0M502.9 417.4h0M501.6 391.6h0M498.9 375.7h0M497.9 387.5h0" stroke="#b22222" stroke-width="6.6"/><path d="M668 372h0M675 376h0M421.7 233.6h0M409.2 252h0M431.5 263.3h0M417.5 331.7h0M411.3 331.8h0M420.3 294.6h0M415.2 340.8h0M428.8 309.6h0M414.3 326.1h0M430.7 332.4h0M430.2 334.9h0M411.2 305.5h0M405 333.3h0M435.8 288.2h0M408.4 311.5h0M409.4 308.5h0M403.2 293.1h0M424.8 337.5h0M414 325.6h0M420.2 326.9h0M411.2 311.6h0M398.1 314h0M422.7 311.4h0M431 313.6h0M419.6 319.6h0M422.5 323.4h0M441.9 298.4h0M405.2 323.7h0M422.4 308.9h0M419.4 339.9h0M431.2 295.6h0M413.5 290.6h0M438.7 295h0M411.5 320.3h0M414 337.1h0M413.9 302.9h0M409.3 294.1h0M422 308.2h0M440.6 324.2h0M413.8 368.9h0M400.6 373.3h0M399.3 411.3h0M424 390.3h0M381.4 401.4h0M474.6 403.7h0M507.3 411.7h0M501.4 408.3h0" stroke="#4b0082" stroke-width="6.6"/><path d="M415.4 247.7h0M416.2 320.7h0M411.5 285.1h0M419.2 304.6h0M509 410.5h0M490.1 388.1h0" stroke="#008080" stroke-width="6.6"/><path d="M507.4 370h0M484.3 385.8h0M512.3 401.8h0M528.9 397.4h0M518.7 408.8h0M534.3 402.5h0M519.7 368.8h0M532 414.6h0M517.5 375.8h0M532.9 380.7h0M531.1 385.2h0M536.7 395.1h0M521.2 372.7h0M518.7 417.9h0M533.6 376.8h0M533.5 385h0M514 385.6h0M521.2 391.8h0M524 414.7h0M531.3 414.8h0M520.9 365.8h0M536.5 380.8h0M542 357.4h0M549.2 362.3h0M545.5 350.9h0M555.1 358.8h0M553.1 353.6h0M549.2 358.2h0M545.6 362.7h0M554.4 358h0M548.3 361.4h0M565.2 401h0M555.8 387.8h0M544 408h0M556.3 409.6h0M555.7 392.5h0M553.5 393.4h0M553.3 411.5h0M542.5 383.5h0M544 380.1h0M551.3 392.5h0M542.4 392.5h0M550.4 374.3h0M546.6 416.8h0M553.7 393h0M556.4 391.8h0M554.4 400.9h0M550.8 398.2h0M552.1 366.7h0M546.3 381.7h0M565.2 393.1h0M544.2 381.3h0M559.9 390.2h0M559.4 381.8h0M559.4 371.9h0M549.5 419.1h0M546.6 397.5h0M549.7 411.4h0M553.9 393.4h0M578.7 294.7h0M574.7 273.7h0M580.1 276.7h0M580.3 285.3h0M571.7 295.7h0M578.6 290.7h0M582.7 287.3h0M570 281.5h0M572.4 278.3h0M570.1 278.8h0M580.4 295.8h0M568.7 294.9h0M573.5 276.7h0M551.6 349.1h0M568.4 346.3h0M565.6 355.9h0M559.9 326.4h0M569.5 348.1h0M555.8 339.2h0M568.9 318.4h0M573.9 343h0M559.6 318h0M573.8 322.8h0M562.2 325.1h0M554.5 321.9h0M559 331.3h0M565 329h0M573.1 339.4h0M562 343.2h0M555.2 323.1h0M561.8 337.7h0M543.7 337.2h0M568.9 338.5h0M564.2 340.4h0M550.7 351.7h0M552.2 351.8h0M548 322.5h0M546.4 331.3h0M555 327h0M565.8 315.3h0M563.2 314.9h0M552 337.6h0" stroke="#9acd32" stroke-width="6.6"/><path d="M493.3 416.5h0M503 409.8h0M503 407.1h0M489.5 393.8h0M491.6 416.3h0M507.3 401.2h0M528.9 400.1h0M531.8 365.9h0M519.1 417.1h0M528.9 388.5h0M517.5 366.8h0M534.4 406.6h0M523.8 381.3h0M556.6 375.9h0M550.5 415.9h0M548.5 369.8h0M565.3 385.7h0M549.1 388.6h0M559 391.6h0M511.2 433.2h0M487.7 426.4h0M493.9 426.5h0M505.6 427.6h0M493.4 429.3h0M464.3 427.7h0M465.9 419.2h0M478.3 421.3h0M459.6 406.9h0M468.9 400.8h0" stroke="#b22222" stroke-width="6.6"/><path d="M499.1 364.3h0M492.5 381.2h0M501.8 394.5h0M485.9 391.6h0M493.8 370.5h0M515.5 390.2h0M521.5 404.8h0M530.1 384.3h0M517.4 366.7h0M525.8 364h0M514.2 409.3h0M514 383.1h0M525.2 373.2h0M515.9 373.4h0M547.1 378.8h0M544.4 395.8h0M554.1 378.5h0M561.4 382.4h0M494.1 430.5h0M515.5 429.2h0M502.8 427h0M526 429.1h0" stroke="#4b0082" stroke-width="6.6"/><path d="M490.8 369.1h0M511.5 375.3h0M509.1 394.2h0M510.8 392.6h0M512.8 376.1h0M506 371.3h0M499.8 376.9h0M511.1 385.6h0M501.2 373.3h0M515.6 393.2h0M509.5 375.2h0M489.3 408.5h0M511.4 408.1h0M489.9 402.5h0M485.8 391.4h0M490.1 374.4h0M529 408h0M517.5 376.7h0M517.1 376.3h0M523.8 404.1h0M535.3 411.2h0M527.7 402h0M523.4 361.5h0M535.3 377.7h0M523.7 370.2h0M516.4 372h0M536.5 393.1h0M529 398.1h0M522.9 416.3h0M523.2 366.3h0M515.1 411.9h0M527.2 382.9h0M524.2 360.9h0M524 363h0M528.3 406h0M536 389.6h0M517 370.5h0M532.8 400.6h0M543.3 360.8h0M548.4 366.3h0M544.4 351.4h0M546.6 352.6h0M552.8 365.4h0M546 383.7h0M545.6 402.7h0M550.6 393.5h0M553.2 417h0M552 401.5h0M548.3 398.3h0M559.6 406.9h0M575.4 299.3h0M582 296.8h0M568.6 325h0M482.1 428.3h0M472.9 400.5h0M479 408.9h0M479.9 405.9h0M464.6 410.9h0M475.6 404.6h0M465.7 399.2h0M461.6 417.4h0M465.2 421.1h0M473.9 422.3h0M469.9 418.1h0M464.2 395h0M462.2 402.1h0M464.5 398.9h0M473.3 405.4h0M480.3 424h0M477.7 413.1h0M483.4 413.7h0M474.6 427.2h0M469.3 403.2h0" stroke="#ffd700" stroke-width="6.6"/><path d="M508 395h0M518.3 379.5h0M517.1 385.6h0M523 412.9h0M531.5 400.1h0M524 410.1h0M520.4 369.2h0M517.7 418.1h0M530.3 374.3h0M540.6 365.9h0M542.6 358.4h0M540.5 353.2h0M555 358.4h0M551.4 383.4h0M562.4 398.6h0M548.3 406.6h0M558.4 385.6h0M544.1 406.1h0M553.4 392.7h0M549.2 402.1h0M554.6 404.7h0M552.7 409.5h0M541 394.5h0M553.6 379.9h0M558.7 402.1h0M559.8 397h0M554.8 420.9h0M550.5 406.9h0M579.1 309.4h0M576.6 272.5h0M577.5 305.6h0M564.8 342h0M577.5 339.3h0" stroke="#008080" stroke-width="6.6"/><path d="M480.8 399.5h0M521.7 360.8h0M519.6 411.1h0M537.7 372.4h0M519.2 383.6h0M536.1 377.2h0M494.9 400.5h0M516.8 422h0M523.1 383.6h0M518.8 362.8h0M504.8 407.3h0M496 381.2h0M528.6 358.9h0M511.2 379.5h0M536 415.4h0M516.2 417.7h0M504.2 390.4h0M529.2 408h0M510.9 359.3h0M519 393.9h0M510.2 407h0M516.9 407.7h0M504.8 410.3h0M524.9 416.5h0M543.3 373.7h0M520.7 358.5h0M547 401.6h0M522.7 365.3h0M548.9 378.9h0M535.5 391h0M525.4 372.7h0M502 404.2h0M514.3 369.4h0M518.1 400.5h0M551.1 398.1h0M544.4 401.2h0M511.3 383.1h0M522 411.4h0M546.3 371.8h0M545.9 371.3h0M463.5 391.2h0M483.6 410h0M462.7 390.4h0M478.6 400.5h0M479.3 405.5h0M470.3 394.7h0M481 385.5h0M460.9 410.8h0M464.5 391.5h0M471.1 428.6h0M464.8 423.1h0M459.9 360.9h0M469.8 365.1h0M470.1 425.2h0M473.4 359.8h0M466.4 388.9h0M478.3 382.4h0M479.4 364.8h0M478 380.5h0M469.9 362.6h0M469.5 384.4h0M457.4 405h0M474.7 361.7h0M473.5 426.2h0M545.7 410.5h0M556.6 386.4h0M546.6 393.9h0M522 395.8h0M530.2 401.3h0M562.8 397.1h0M557.1 381.2h0M558 430h0M522.3 410.1h0M537.5 386.4h0M552.1 430.5h0M535.7 422.2h0M606.3 365.2h0M601.6 352.8h0M584.5 400.2h0M581.8 389.4h0M594.8 390.4h0M590.7 376.9h0M605.4 384.5h0M590.7 411.2h0" stroke="#ffd700" stroke-width="6.6"/><path d="M527.1 376.7h0M511.2 416.6h0M527.7 426.8h0M523.6 393.4h0M521.3 407h0M514.8 414.5h0M518.4 406.9h0M517.6 397.3h0M525.3 399.4h0M527 373.7h0M524.4 402.7h0M539.1 408.5h0M519.9 416.6h0M520.1 362.1h0M521.3 379.4h0M537.6 419.7h0M537.9 383.2h0M536.9 391.8h0M548 400.5h0M542.4 404.2h0M551.8 411.7h0M536.8 381.8h0M547.6 410h0M539 412.2h0M543.9 396.9h0M548.4 388.1h0M525.8 420.2h0M525.9 393.8h0M548.7 378h0M537.2 385.1h0M582.3 404.1h0M593.6 400.9h0M584.2 351.3h0M582.9 371.6h0M599.5 392.1h0M596.8 362h0M595.9 415.4h0M591.9 389h0M585.7 422.5h0M586.5 389.1h0M587.6 357.9h0M590.2 418.9h0M584.5 392.5h0M562.5 398.9h0" stroke="#008080" stroke-width="6.6"/><path d="M535.8 380.4h0M541.7 405.5h0M522.6 405.7h0M533.6 388.2h0M504.4 409.9h0M519.5 408.1h0M526 369h0M499.4 407.4h0M540.7 380h0M530.9 367.5h0M510.6 406h0M516 403.6h0M526.2 371.8h0M495.6 375.5h0M496.8 395.5h0M527.2 381.1h0M509.1 376.7h0M542 365.4h0M509.1 406.1h0M508.1 389.3h0M537.6 386.6h0M518.5 360.3h0M509.9 414.1h0M497 385.8h0M518.5 372.1h0M526.3 408.2h0M501.6 402.9h0M537.7 418.9h0M510.3 410h0M508.7 407.1h0M542.1 410.6h0M532.5 381.2h0M499.9 374.8h0M530.2 425.4h0M528.5 389.7h0M526.7 400.2h0M542 373.4h0M505.1 376.8h0M518.8 374.3h0M506.4 391.6h0M563.3 416.3h0M559.8 424.2h0M562.7 406.1h0M547.8 398.6h0M542.9 418.9h0M539.5 390.5h0M531.8 412.2h0M540.3 434.1h0M521 398h0M535.9 416.9h0M555.4 413.5h0M563.9 408.7h0M553.5 425.8h0M553.6 390.6h0M535.9 405.2h0M559.8 411.9h0M592.7 352.1h0M584.3 391.4h0M603.6 374.5h0M583.1 371.1h0M573.3 363.7h0M587.9 396.6h0M606.3 372.2h0M588.2 382.5h0M590.7 397.1h0M587 388.4h0M582 373.8h0M573.9 387h0M602.2 414.2h0M571.5 403.9h0M582 420.3h0M595.9 396.3h0M564.1 411.3h0" stroke="#9acd32" stroke-width="6.6"/><path d="M511.2 398.1h0M525.4 425.7h0M509.2 412.4h0M528.3 370.2h0M516.3 395h0M543.3 406.4h0M495.8 408.5h0M460.5 423.2h0M455.8 399.2h0M455.8 377.6h0M469 396.3h0M553.5 423.1h0M543.3 379h0M528.7 422h0M539.4 382.2h0M558.6 385.5h0M527.3 389h0M577.1 359.1h0M593.8 366h0M573.1 368.1h0M606 386.2h0M581.4 409.9h0M581.3 403.5h0M595.8 403.7h0M602 411.1h0" stroke="#4b0082" stroke-width="6.6"/><path d="M524.3 360.5h0M507.3 403.6h0M507.3 415h0M524.7 391.8h0M496.9 411h0M526.6 417.4h0M514.8 381.5h0M518.2 392.5h0M524 415h0M454.8 398h0M468.9 343.4h0M462.3 381.2h0M467.7 385h0M467.2 343.7h0M456.1 404.1h0M464.2 387.7h0M455.2 374.7h0M472.7 359.8h0M485.2 362.5h0M463.5 413.8h0M472.7 404.9h0M483.4 406.5h0M471.3 406.7h0M469 356.9h0M478.6 413.1h0M480.6 364h0M458.4 384.2h0M484.2 363.4h0M477.6 405.9h0M470.1 394.7h0M485.8 393.8h0M528.3 389.2h0" stroke="#b22222" stroke-width="6.6"/><path d="M579.1 392.1h0M588.3 379.7h0M592.7 398.7h0M589.8 420.6h0M589.8 412.7h0M580.5 402.2h0M563.3 403.1h0M576.5 391.2h0M589.1 408.1h0M591.9 411.3h0M599.6 398.9h0M586.5 403.1h0M591.4 406.7h0M575.5 378.6h0M579 387h0M579.7 427.1h0M588.1 425.2h0M583.5 385.5h0M595.3 400h0M564.7 400.6h0M570.6 404.2h0M568.7 408.1h0M598.5 402h0M576.6 372.9h0M582.3 387h0M596.9 396.8h0M574.1 411.5h0M601.3 401.9h0M582.8 385.1h0M585.4 375.4h0M571.2 399.7h0M595.5 385.7h0M562.9 400.5h0M579.6 376.7h0M573 407.2h0M571.6 380.2h0M622.3 430.9h0M648.8 417.5h0M631.5 414.5h0M612.8 404.6h0M612.5 395.1h0M612.9 405.6h0M645.1 422.4h0M632.5 423.3h0M626.7 427.8h0M631.5 390.4h0M615.1 390.9h0M649.2 414.5h0M641.5 397.6h0M635.1 392.6h0M617.5 395.7h0M614.7 405.9h0M637 416.6h0M649.3 402.4h0M632.4 381h0" stroke="#008080" stroke-width="6.6"/><path d="M595.4 392.4h0M594.9 385.2h0M569.9 408.3h0M570.2 406.3h0M575 380.3h0M593.6 414.5h0M563.8 404.3h0M580.5 375.9h0M582.5 409.9h0M648.1 390.6h0M624.8 389h0M634 387.3h0M624 406.7h0M609 402h0M614.4 420.2h0M629.1 386.3h0M616.3 415.9h0M617.9 384.8h0M639.6 385.1h0M635.5 392.6h0M634.3 411.8h0M611.8 405.8h0M626 392.4h0M625.2 401.8h0M621.2 387.3h0M639.3 399.2h0M628.4 406.9h0M646.2 421h0M638.6 391.7h0M649.5 396.1h0M608.2 403h0M629.2 399.4h0M609.2 410.8h0M637.8 397.3h0M608.1 405.5h0M624.9 424h0M639.3 380.4h0M645 420.5h0M630.2 388.3h0M614.1 389.1h0M632.5 381.9h0M633.7 415.5h0M628.8 388.4h0M642.3 396h0M648.1 407.4h0M650.3 402.3h0M644.9 406.5h0M626.8 396.1h0M626.2 388h0M632.8 422.4h0M623.9 416h0M632.6 402.5h0M646 394.7h0M643.7 390.3h0M641 381.5h0M611 418.1h0M648.9 396h0M614.3 403h0M640 426.3h0M630.8 416.1h0M637.4 393h0M617.5 409.1h0M622.5 394.6h0M616.8 393.7h0M623.9 398.3h0M644.6 419.9h0M615.9 420.9h0M611.6 403.9h0M628.6 390.3h0M628.9 398.8h0M616 416.4h0M625.5 417.7h0M636.7 400.8h0M634 397.1h0M646.9 402.3h0M644.3 416.3h0M650.7 414.1h0M626.7 432.4h0M620.7 406.1h0M625.3 415.1h0M630.3 395.7h0M630.8 429.4h0M643.7 390.4h0M634.8 420h0M616.6 403.7h0M616.2 422.6h0M628.7 415.7h0M655.8 396.2h0M666 388.1h0M664.3 393.2h0M657.7 421.7h0M664.2 391.4h0M660.9 383.4h0M668 389.5h0M650.8 395h0M664.2 410.3h0M660.9 406.3h0M652.9 418.4h0M653.1 424.2h0M652.9 411.4h0M656.9 388h0M661 391.7h0M654.8 401.6h0M666.7 409.9h0M658.4 410.7h0M651.6 423.7h0M648.4 406.1h0M667.6 427.7h0M654.2 387.4h0M658.1 417.5h0M662.6 421.9h0M666.7 418.4h0M653.5 388.7h0" stroke="#4b0082" stroke-width="6.6"/><path d="M598.8 382.2h0M593.5 395.7h0M586.1 425h0M583.2 405.5h0M583.7 379.2h0M595.4 389.6h0M568.6 387.1h0M574.9 395.1h0M585.9 383.1h0M594.8 414.3h0M594.2 417.2h0M568.6 401.9h0M589.3 416.7h0M572.4 403.2h0M571.5 416.8h0M582.8 378.6h0M579 370.7h0M575.8 426.3h0M578.6 387.7h0M583.2 413.7h0M582.9 398.1h0M578.6 381.4h0M584.8 425.6h0M586.7 412.8h0M567.2 388.9h0M564.8 406.8h0M562.4 400h0M588.3 398.7h0M575.5 396.3h0M594 406.3h0M587.9 388.7h0M567.5 383.3h0M595.9 383.4h0M571.9 415h0M571 386.9h0M599.9 407.9h0M575.2 389.8h0M570.2 378.7h0M593.3 399.2h0M571.7 398.2h0M644.6 397h0M639.7 382.2h0M621 425.6h0M645.3 408.9h0M616.3 404.9h0" stroke="#9acd32" stroke-width="6.6"/><path d="M589.1 422.7h0M600.5 397.6h0M574.9 415.4h0" stroke="#ffd700" stroke-width="6.6"/><path d="M632.9 385.2h0M638.2 383.9h0M612.5 395.3h0M631.4 425.7h0M631.6 389.4h0M632.8 424.4h0M646.4 397.4h0M646.1 416.9h0M633.3 397.5h0M644.1 403.6h0M616 404h0M625.9 384.4h0M635.9 390.2h0M663.6 414.3h0M665.9 417.9h0M669 400.2h0M671.3 419.6h0M657 417.8h0M661.5 411.8h0M655.9 408.8h0M667 409.4h0M658.4 400.7h0M662.1 422.7h0M660.4 384.4h0M656.1 417h0M651.4 424.2h0M651.2 400.6h0M661 384.4h0M656.4 420.2h0M660.6 432.9h0M667.6 384.9h0M657.9 401h0M664.5 383.7h0M652.3 392.4h0M653.7 398.5h0M672.1 423.1h0M658 402.7h0M663.5 382.4h0M654.3 423.4h0M661.1 428.1h0M650.9 398.5h0M671.5 414.2h0" stroke="#b22222" stroke-width="6.6"/></g></g><g><g fill="none" stroke="#000" stroke-linecap="round" stroke-linejoin="round"><path d="M370.5 215.1 370.8 384 370.5 398M363.8 218.5 363.9 387.4 363.7 396.8 363.5 401.5 362.8 406.2M360.3 217.9 360.3 386.9 360 400.9M675.3 372 675.7 362.7M656.3 367.3 656.7 362.7" stroke-width="0.2"/><path d="M361.3 434.6 360 439.2M370.5 398 369.8 402.7 368.7 407.3 366.9 411.8 362.4 420.5M362.8 406.2 361.7 410.8 360 415.3M673.3 379.5 674.5 376.7 675.3 372M376.8 246.9 378 383 378 392.4 377.7 397.1M655.3 372 656.3 367.3" stroke-width="0.3"/><path d="M375.7 414.1 372 417.8 368.6 421.8 365.6 425.9 363.1 430.2 361.3 434.6M362.4 420.5 360 424.9M671.6 381.3 673.3 379.5M587.9 304.5 587.6 313.9M587 271.4 583.9 294.8 582 313.5 580.7 332.2 580.3 346.3M577.5 326.7 575.9 345.4 575 359.5 574.2 378.2 573.9 392.3M574.6 429.8 574.7 439.2M583.5 229 572.4 303.6 566.1 350.3 564.1 369 563.6 378.4 563.7 387.7M375.4 435 372.6 439.2M370.7 430.5 368 434.7 366.3 439.2M377.7 397.1 376.8 401.7 375.1 406.2 372.6 410.5M651.5 377.2 653.7 375.2 655.3 372M448.4 223.9 451 219.7M642.2 369.6 644.1 367.5 645.8 363M576.1 228.9 560.1 336.2 558.4 350.2 557.6 359.6 557.5 364.3M557.6 369 557.8 373.6M570.3 358.8 568.7 377.6 568.3 387 568.1 396.3M555.7 247.8 548.8 294.5 545.9 317.8M562 247.8 553 308.5M587.1 248.9 581 290.9M563.4 272 559.2 300M556.4 314.9 553.8 333.6 552.8 343" stroke-width="0.4"/><path d="M381.7 218.7 384.6 392.3 384.4 397 383.7 401.7 382.1 406.2 379.3 410.3 375.7 414.1M657.6 383.5 662.9 383.4 666.2 383.1 669.1 382.4 671.6 381.3M656.1 384.6 660.5 385.4 664.8 386.7 668.3 388.7M587.6 313.9 587.7 323.3 588.2 332.7 590 351.4M584.8 358.4 586.2 372.5 587.4 381.8M580.3 346.3 580.6 365 581.6 383.8 583.1 397.8 585.4 411.8M578.5 406.4 581 439.2M573.9 392.3 574 406.4 574.6 429.8M563.7 387.7 564.7 401.8 567.2 425.2 568.4 439.2M379.2 431.4 375.4 435M378.7 423.4 374.4 426.8 370.7 430.5M648.4 378.4 651.5 377.2M384.7 214.9 385.3 243.1M440.1 236.5 443.1 232.4 448.4 223.9M639.7 370.8 642.2 369.6M557.5 364.3 557.6 369M557.8 373.6 558.9 383M568.1 396.3 568.4 405.7M545.9 317.8 545.5 327.2 545.6 331.9 546.3 341.2M547 345.9 547.9 350.5M549.9 359.8 551.1 364.4M592.4 302 593 316.1 594.5 330.1" stroke-width="0.5"/><path d="M602.4 304.6 607.8 341.9 610.3 355.8 611.5 360.4 613.1 364.5 615.4 368 618.6 371M645.5 382.2 651.5 383.1 657.6 383.5M668.3 388.7 672.4 392.2 675.7 396.2M659.5 390.7 663.6 394.2M607 357.9 608 362.5 609.4 367.1 611.2 371 614.1 374.9 618.3 378.2M605.1 371.6 606.8 376.1 609 380.1M605.1 384.5 607.9 388.5M590 351.4 593.3 374.7 595.1 384 596.3 388.6 597.8 393.1 599.8 397.6 602.5 401.8 606.1 405.6M599.6 405.7 602.7 409.8M587.4 381.8 590 395.7 592.5 404.9 594.2 409.4 596.4 413.8 599.1 418 602.4 422M595.2 418.3 597.7 422.5 600.8 426.6 604.6 430.3M585.4 411.8 588.9 425.6 593.6 439.2M551.3 412.3 555.7 421.1 557.6 425.6 559.3 430.1 562 439.2M551.3 430.5 555.7 439.2M402.5 218.8 403.3 246.9M395.1 219.3 399.2 402.3 398.8 411.7 398.2 416.3 397.2 421 395.9 425.5 392.8 434.6 391.6 439.2M394.1 411.4 392.7 416 390.4 420.3 387.3 424.3 383.4 428 379.2 431.4M386.9 416.5 383.1 420.2 378.7 423.4M597.3 373.6 599.5 382.9 601.1 387.4 603.3 391.8 606.4 395.8M391.6 219.1 394.6 364.6M636.6 377.1 641.4 378.2 645.2 378.6 648.4 378.4M549.8 393.4 554.1 402.2 557.8 411.2 559.4 415.7 562 424.9M433.2 238.4 434.8 238.9 436.6 238.9 438.4 238.1 440.1 236.5M391.7 368.2 392.2 396.4 392.1 401.1 391.6 405.7M629.1 369.8 633.3 370.8 636.7 371.1 639.7 370.8M546.3 341.2 547 345.9M547.9 350.5 549.9 359.8M551.1 364.4 552.2 369M547.9 378.4 552.1 387.2 555.7 396.2M598.7 315.1 602.6 343M594.5 330.1 597.6 353.5 599.9 367.5" stroke-width="0.6"/><path d="M618.6 371 623.4 374 628.6 376.4 634.1 378.7 639.7 380.6 645.5 382.2M675.7 396.2 682 405.1M663.6 394.2 667 398.1 670 402.2 682 420.4M618.3 378.2 623.2 381 628.4 383.6 644.3 390.9 649.5 393.5 654.1 396.5 658.1 400.1 661.5 404 664.6 408.1 670.3 416.4 682 434.9M609 380.1 612.5 383.9 617 387.1 622 389.8 642.6 400.2 647.5 403.1 651.8 406.4 655.6 410.1 661.9 418.2 667.6 426.5 675.7 439.2M607.9 388.5 611.8 392.1 616.6 395.1 642.1 408.3 646.9 411.3 651.1 414.8 654.7 418.6 658 422.6 663.8 430.8 669.4 439.2M606.1 405.6 610.5 408.9 615.3 411.7 635.9 422.2 640.9 425 645.5 428.1 649.7 431.5 653.4 435.3 656.7 439.2M602.7 409.8 606.6 413.4 611.2 416.5 616.2 419.3 636.7 429.8 641.7 432.6 646.3 435.7 650.4 439.2M608.9 420.1 618.8 425.7 639.3 436.3 644.1 439.2M602.4 422 606.4 425.5 611.1 428.6 616.1 431.4 631.5 439.2M604.6 430.3 609 433.6 618.9 439.2M420.1 225.7 422.7 229.8 425.8 233.6 430.4 238.6 431.9 241M530.9 378.1 544 399.4 551.3 412.3M528.3 392 541.3 413.3 551.3 430.5M526.2 400.8 539.3 422.1 549.4 439.2M524.9 409.4 543.1 439.2M523.8 417.9 536.8 439.2M520 422.2 530.5 439.2M518.9 430.7 524.2 439.2M410.5 218.9 411.6 232.9M403.3 246.9 405.8 322 408.7 392.3M403.3 364.2 404.7 406.4 404.7 415.8 404.2 439.2M606.4 395.8 610.4 399.3 615.2 402.3 635.7 412.8 640.7 415.5 645.5 418.5 649.7 421.9 653.4 425.7 656.7 429.6 662.7 437.9M534.6 367.7 542.5 380.5 549.8 393.4M619.7 365.2 623.8 367.7 629.1 369.8M407.5 287.5 408.8 320.4M442.1 243.1 444.7 245.3M538.1 361.1 543.2 369.7 547.9 378.4M540.7 353.5 545.3 362.3" stroke-width="0.7"/><path d="M418.3 221.5 420.1 225.7M431.9 241 432.9 244.4M525.4 369.7 530.9 378.1M522.8 383.6 528.3 392M520.8 392.4 526.2 400.8M519.5 401 524.9 409.4M518.4 409.5 523.8 417.9M514.5 413.8 520 422.2M513.4 422.3 518.9 430.7M512.4 430.8 517.8 439.2M416.3 222.2 418.4 231.4 419.2 236.1 419.9 245.4M411.6 232.9 416.4 331.4M415.9 420.5 416.8 439.2M408.7 392.3 410.5 439.2M529.1 359.3 534.6 367.7M408.8 320.4 410.5 357.9M415.5 248.4 416.8 276.5M532.7 352.7 538.1 361.1M535.6 345 540.7 353.5" stroke-width="0.8"/><path d="M432.9 244.4 434.7 263.2 435.8 272.5M522.5 365.6 525.4 369.7M519.9 379.4 522.8 383.6M517.9 388.2 520.8 392.4M516.7 396.8 519.5 401M512.7 401.2 518.4 409.5M511.6 409.7 514.5 413.8M428.5 247.1 430.9 284.6 432.3 298.6 433.8 307.9M510.5 418.2 513.4 422.3M509.5 426.6 512.4 430.8M428.5 304.8 429.5 314.1 430.9 323.5M419.9 245.4 423.6 315.8 426 348.6 428 367.3M427 392.8 428.3 402.1M416.4 331.4 418.7 373.6 423.1 439.2M414.6 397 415.9 420.5M526.2 355.2 529.1 359.3M444.7 245.3 446.2 248.1M529.8 348.5 532.7 352.7M420.4 353.9 423.1 391.4M440.9 248 442.1 252.6M532.8 340.8 535.6 345M521.5 373.9 524.4 378" stroke-width="0.9"/><path d="M435.8 272.5 437.4 281.8 439.6 291M517 375.3 519.9 379.4M513.8 392.6 516.7 396.8M509.6 397.1 512.7 401.2M508.6 405.6 511.6 409.7M433.8 307.9 434.9 312.6 436.3 317.1M507.5 414 510.5 418.2M506.6 422.5 509.5 426.6M430.9 323.5 433.6 337.4M502.2 435.1 505.2 439.2M428 367.3 430.4 381.2 432.7 390.4 434.1 395M428.3 402.1 431.6 420.7 435.8 439.2M523.2 351.1 526.2 355.2M446.2 248.1 447.6 252.2M526.8 344.4 529.8 348.5M439.8 267.3 440.8 272M535.3 332.1 537.9 335.8M518.5 369.7 521.5 373.9" stroke-width="1"/><path d="M439.6 291 442.3 300.2M519.5 361.5 522.5 365.6M513.8 371.3 517 375.3M510.7 388.6 513.8 392.6M506.4 393.1 509.6 397.1M436.3 317.1 439.9 326.1M504.4 410 507.5 414M503.4 418.5 506.6 422.5M433.6 337.4 436 346.6M434.1 395 437.5 404M520 347.1 523.2 351.1M433.2 373.7 436.2 382.8M442.1 252.6 444.5 261.8M440.8 272 444.9 285.7M536.3 323.9 538.6 326.6M536.3 314.9 538.5 317.2M529.6 336.8 532.8 340.8M515.4 365.7 518.5 369.7" stroke-width="1.1"/><path d="M442.3 300.2 443.9 304.7 445.9 309.2 448.3 313.5M516.2 357.5 519.5 361.5M507.4 384.6 510.7 388.6M505.4 401.5 508.6 405.6M439.9 326.1 445.4 339.5M501 406.1 504.4 410M500.1 414.5 503.4 418.5M436 346.6 439.1 355.7 442.7 364.6M498.9 431.1 502.2 435.1M495.5 435.3 498.9 439.2M437.5 404 439.4 408.5M436.8 412.5 442.4 425.9M447.6 252.2 453.7 270.4M523.6 340.4 526.8 344.4M436.2 382.8 440 391.7M444.5 261.8 447.4 271 453.6 289.1M444.9 285.7 449.6 299.3 451.5 303.8M531.9 328.8 535.3 332.1M533.3 322 536.3 323.9M525.8 333.1 529.6 336.8M512 361.8 515.4 365.7" stroke-width="1.2"/><path d="M448.3 313.5 451.2 317.6 454.8 321.4 458.7 324.4M512.8 353.6 516.2 357.5M506.9 363.5 513.8 371.3M449.7 324 461.1 340.7M503.9 380.7 507.4 384.6M455.3 340.4 457.7 344.8 460.4 349M502.9 389.2 506.4 393.1M454.4 348.9 456.7 353.2 459.5 357.4M502 397.6 505.4 401.5M445.4 339.5 451.1 352.9 455.8 361.6M448.1 356.9 452.5 365.7 455 370M496.6 410.6 500.1 414.5M442.7 364.6 449 377.9 454 386.5M495.5 427.2 498.9 431.1M449 385.9 451.5 390.2M448 397 450.4 401.3M449.1 404.4 451.5 408.7M449.2 414.8 454.2 423.4M439.4 408.5 447.8 426.2 454.7 439.2M442.4 425.9 448.4 439.2M516.5 343.2 520 347.1M495.4 416.2 498.9 420.1M519.8 336.7 523.6 340.4M440 391.7 444.2 400.6M451.5 303.8 454 308 457.6 311.8 462.2 314.3M527 326 531.9 328.8M508.1 373.1 511.5 377M459.5 306.6 462.7 308.6" stroke-width="1.3"/><path d="M458.7 324.4 463.7 327 469.4 328.9M509.1 349.8 512.8 353.6M461.1 340.7 464.3 344.7M500.2 377 503.9 380.7M460.4 349 463.5 353M499.3 385.4 502.9 389.2M459.5 357.4 462.7 361.4M498.4 393.8 502 397.6M455.8 361.6 458.6 365.8 461.9 369.8M497.5 402.2 501 406.1M455 370 457.8 374.1 461.1 378.1M492.9 406.9 496.6 410.6M454 386.5 456.9 390.6 460.2 394.6M491.8 423.5 495.5 427.2M451.5 390.2 454.1 394.4 457.1 398.6 460.5 402.5M491.9 431.5 495.5 435.3M450.4 401.3 455.8 409.7 459 413.8M451.5 408.7 457.2 417.1 460.4 421.1M454.2 423.4 457 427.5 460.1 431.6M467.8 325 473.8 326.3M512.6 339.6 516.5 343.2M454 375.4 456.8 379.6 460 383.6M491.6 412.5 495.4 416.2M515.3 333.6 519.8 336.7M462.2 314.3 466.8 315.5 472.9 316.5M521.3 324.2 527 326M463.3 334.4 467.6 337.7M500.8 365.6 508.1 373.1M462.7 308.6 467.3 310 473.4 311.1M521.9 318.5 527.8 319.9 533.3 322M516 328.2 521.1 330.2 525.8 333.1M508.4 357.9 512 361.8" stroke-width="1.4"/><path d="M469.4 328.9 481 332.1 486.6 334 492 336.4 496.8 339.3 501.2 342.6 509.1 349.8M468 333.6 473.2 336.2 478.2 339M499.2 356.1 506.9 363.5M464.3 344.7 468 348.4 472 352M496.4 373.3 500.2 377M463.5 353 467.2 356.8 471.1 360.4M491.5 378.1 499.3 385.4M462.7 361.4 466.4 365.2M490.7 386.5 498.4 393.8M461.9 369.8 465.5 373.5M489.8 394.9 497.5 402.2M461.1 378.1 468.7 385.5M485 399.6 492.9 406.9M460.2 394.6 467.8 402M484.1 416.1 491.8 423.5M460.5 402.5 468.1 409.9M484.2 424.1 491.9 431.5M459 413.8 462.5 417.6 466.3 421.3M482.4 435.6 486.3 439.2M460.4 421.1 464 424.9 467.9 428.5M460.1 431.6 463.6 435.5 467.3 439.2M473.8 326.3 485.8 328.6 497.5 331.7 503 333.7 508.1 336.3 512.6 339.6M460 383.6 463.6 387.4 467.5 391.1M487.7 408.8 491.6 412.5M480.3 324.6 492.4 326.7 504.3 329.4 510 331.2 515.3 333.6M472.9 316.5 503.3 320.7 515.4 322.8 521.3 324.2M467.6 337.7 472.1 341M496.8 361.9 500.8 365.6M473.4 311.1 503.8 315.3 521.9 318.5M527.9 310.4 533.1 313 536.3 314.9M535.6 307.6 538.1 310.7M498.2 324.3 510.2 326.6 516 328.2M521.2 311.8 526.7 313.9M483.4 337.3 488.2 340.2 492.6 343.5M500.8 350.6 508.4 357.9" stroke-width="1.5"/><path d="M478.2 339 482.7 342.1 487 345.5 499.2 356.1M472 352 496.4 373.3M471.1 360.4 491.5 378.1M466.4 365.2 490.7 386.5M465.5 373.5 489.8 394.9M468.7 385.5 485 399.6M467.8 402 484.1 416.1M468.1 409.9 484.2 424.1M466.3 421.3 482.4 435.6M467.9 428.5 480 439.2M467.5 391.1 487.7 408.8M472.1 341 480.5 347.8 496.8 361.9M498.9 286.1 519 304 523.2 307.4 527.9 310.4M511.5 286.1 535.6 307.6M498.9 295.7 511.4 306.1 516.1 309.2 521.2 311.8M492.6 343.5 500.8 350.6" stroke-width="1.6"/></g><path d="M383.6 334L381.7 329.6 385.4 329.5ZM370.7 320.8L368.9 316.6 372.4 316.6ZM363.9 319.5L362.1 315.4 365.6 315.4ZM360.3 309.6L358.6 305.5 362 305.5ZM621 372.5L615.9 371.7 618 368.4ZM670.4 390.5L665.7 388.9 668.2 386ZM671.7 404.5L667.3 401.7 670.6 399.4ZM646.9 392.2L641.7 391.8 643.5 388.3ZM645.1 401.7L640 401 642 397.5ZM639.6 407L634.5 406.5 636.4 402.9ZM595.8 386.6L592.8 382.7 596.5 381.7ZM623.9 423.2L618.7 422.9 620.5 419.3ZM626.5 429.6L621.3 429.3 623.1 425.7ZM593.5 407.5L590.1 403.9 593.7 402.5ZM606.8 432L601.9 430.8 604.2 427.6ZM580.4 358.3L578.5 353.9 582.2 353.8ZM579.8 423.2L577.6 418.9 581.3 418.5ZM574.1 380.9L572.4 376.4 576.1 376.5ZM568.2 334.2L567 329.6 570.5 330.1ZM484.3 333.2L478 333.6 479.6 329ZM518.8 377.8L514 374.9 517.5 372.4ZM533 411.7L528.8 408.7 532.2 406.6ZM502.6 379.4L496.9 377 500.3 373.6ZM501.7 387.9L496 385.4 499.4 382.1ZM497.1 392.5L491.2 390.2 494.7 386.7ZM452.6 355.9L448.1 352 452.2 349.9ZM483.7 398.5L477.5 396.4 480.8 392.6ZM450.6 380.8L445.8 377.1 450 374.8ZM474.8 415.8L468.7 413.8 471.9 410ZM465 420.1L459.1 417.7 462.5 414.2ZM462.8 423.6L457 421 460.6 417.7ZM459.1 430.3L453.7 427.2 457.5 424.3ZM424.8 332.8L422.3 328 426.5 327.7ZM443.7 428.9L439.3 424.8 443.6 422.9ZM431.3 419.1L428.2 414.5 432.4 413.6ZM416.3 329.7L413.9 324.9 418.1 324.6ZM415.8 418.7L413.4 413.9 417.6 413.7ZM406.1 329.5L403.9 324.8 408 324.7ZM404.5 399.8L402.4 395.2 406.4 395ZM397.6 330L395.5 325.4 399.4 325.4ZM385.3 426.2L387.3 421.7 389.9 424.5ZM376.6 425.1L379 420.8 381.3 423.8ZM377.5 329.3L375.7 325 379.2 325ZM628 408.9L622.8 408.5 624.6 404.9ZM393.1 292.3L391.1 287.7 394.9 287.6ZM653.5 375.4L651.5 379.8 649 377ZM530.8 361.8L526.3 358.8 529.8 356.5ZM385 231.7L383.1 227.2 386.9 227.1ZM444.5 230.1L443.7 234.9 440.5 232.9ZM478.3 400.5L472.2 398.5 475.5 394.7ZM392.2 389.7L390.2 385.2 394 385.1ZM636.1 371.1L631.3 372.6 631.7 368.7ZM564.5 306.1L563.4 301.6 566.9 302.1ZM568.6 380.2L567 375.7 570.6 375.9ZM409 323.3L406.7 318.5 410.8 318.3ZM448.6 255.3L444.8 250.9 449.1 249.5ZM416.3 265.5L414 260.6 418.1 260.4ZM547.2 306.4L546 301.9 549.6 302.3ZM557.5 278.4L556.3 273.8 559.9 274.4ZM528.7 346.9L523.8 344 527.3 341.5ZM439.4 390.3L435.1 386.2 439.3 384.4ZM421.9 375.6L419.4 370.8 423.6 370.5ZM446.9 269.5L443.1 265 447.4 263.6ZM601 331.8L598.4 327.5 602.2 327ZM595.4 337.5L592.9 333.3 596.7 332.8ZM476.3 316.9L470.3 318.6 470.9 313.8ZM487.4 353.6L481.2 351.6 484.5 347.8ZM583.9 270.1L582.8 265.6 586.4 266.1ZM561.7 283.9L560.5 279.4 564.1 279.9ZM501.2 314.9L495.1 316.4 495.8 311.6ZM517.6 302.8L511.5 300.8 514.8 297ZM526.2 299.3L520 297.2 523.4 293.4ZM528.2 335.4L522.7 333.3 525.8 330ZM514.4 308.1L508.1 306.8 510.8 302.7ZM554.7 326.8L553.5 322.3 557.1 322.8ZM507.2 356.7L501.3 354.3 504.7 350.8Z" fill="#000"/></g><path d="M 483,223.5 C 454,229 448,272 486,287.5" fill="none" stroke="#e8202a" stroke-width="2.6" stroke-dasharray="2.2 2.2"/><polygon points="493,221 482,219 484.5,228" fill="#e8202a"/><polygon points="496,289 485,284.5 485,293" fill="#e8202a"/><text x="511.5" y="219.5" font-size="9.5" text-anchor="middle" fill="#111">staying</text><text x="511.5" y="229.5" font-size="9.5" text-anchor="middle" fill="#111">in G0</text><text x="506.6" y="270" font-size="9.5" text-anchor="middle" fill="#111">G0 entry into</text><text x="506.6" y="279" font-size="9.5" text-anchor="middle" fill="#111">the cell cycle</text><g><g stroke-linecap="round" fill="none"><path d="M185.6 682.4h0M245.3 682.3h0M168.3 565.4h0M250.7 662.1h0M243.8 612.9h0M147.4 527h0M326.6 671.4h0M114.2 512.7h0M209.1 690.8h0M142 676.8h0M252.5 681.3h0M195.9 638.3h0M268.8 618.4h0M264.7 676.6h0M278.1 643.8h0M149.2 518.6h0M127 631.9h0M181 659.5h0M193.2 681.3h0M238.7 612.6h0M253.8 608.2h0M256 647h0M225.1 653.6h0M144.5 663h0M250.6 650.1h0M247.2 635.5h0M174.6 551.6h0M245.2 590h0M262.7 603.7h0" stroke="#9acd32" stroke-width="6.6"/><path d="M143.5 647.2h0M108 652.4h0M163 561h0M152.2 639.5h0M159.7 498.7h0M155.2 619.7h0M138.2 667h0M118.2 663.4h0M91.5 680.8h0M130.5 556.5h0M110.3 668.7h0M56.8 661.8h0M112.8 653.3h0M159.1 613.4h0M144.2 651.2h0M95.6 632.5h0M96.2 629.1h0M176.4 542.8h0M83.2 660.5h0M318.3 683.8h0M180.6 559.7h0M94.2 638h0M75.6 646.4h0M138.2 628h0M107.5 672.4h0M174.3 662.2h0M83.2 685.6h0M153.3 665.1h0M91.2 637.8h0M131.4 642.2h0M169.3 598.9h0M140 645.9h0M109.3 645.4h0M160.3 659.8h0M169.7 679.6h0M143.9 655.5h0M99.9 676.4h0M67 680.7h0M63.8 640.8h0M67.6 648h0M82.9 646.3h0M98.3 651.7h0M133.9 644.4h0M154.8 661.9h0M71.7 671.1h0M72.6 654.3h0M99.6 678.8h0M102.7 653.3h0M139.3 685.3h0M86.2 673.3h0M197.1 647h0M107.5 633.6h0M167 604.7h0M149.6 667.7h0M100.4 634.4h0M102.2 643.2h0M121.9 639h0M49.5 682.6h0M158.5 671.9h0M175 682.7h0M60.9 669.6h0M136.1 630.2h0M74.6 656.2h0M97 650.1h0M143 663.5h0M108.2 685h0M140.6 600.2h0M322.5 673.1h0M96.9 664.1h0M146.7 660.4h0M144.5 628.5h0M42.6 676.9h0M84.9 658.7h0M168.6 674.8h0M142.2 569.7h0M76.8 638.1h0M121.4 642.7h0M127.8 650.6h0M329.8 669.6h0M133.8 662.8h0M129.7 668.4h0M94.4 669.1h0M170.6 665.6h0M139.6 554.7h0M145.1 673.8h0M138.7 660.3h0M77.6 672.2h0M64.2 656.5h0M114.3 639.7h0M185.1 572.6h0M116.4 677h0M122.6 669.2h0M172.9 542h0M102.7 653.2h0M66.8 649.7h0M140.1 662.7h0M55.7 643.9h0M173.6 674h0" stroke="#b22222" stroke-width="6.6"/><path d="M192.9 688.5h0M165.4 671.8h0M246.5 657.9h0M243.6 626.8h0M221.9 633.2h0M243.5 677.6h0M204.6 657.1h0M245.9 677.3h0M106.6 503h0M204 629.8h0M272.1 598.8h0M159.7 543.7h0M121.7 523.9h0M206.4 669.8h0M180 675.8h0M229.3 675.4h0M187.7 656.7h0M203.5 661.3h0M128 561.6h0M231.5 592h0M236.1 647.5h0M229.7 588.6h0M201.3 654.3h0M213.7 671.1h0M160 668.9h0M215.9 664.5h0M231.3 683.3h0M208.3 600.4h0M245.1 647.6h0M205.6 609.9h0M225.7 601h0M201.1 677h0M198.8 656.6h0M187.9 682.8h0M193.2 665.6h0M229.8 610.8h0M42.2 665h0M261.1 681.9h0M146.9 514.2h0M236.3 586.4h0M211.6 674.1h0M52.8 655.2h0M236.2 582.1h0M160.3 669.3h0M139.2 617.6h0M211.6 687.7h0M229.8 586.9h0M219.2 618.4h0M178.6 672.4h0" stroke="#ffd700" stroke-width="6.6"/><path d="M99.6 531.4h0M287.9 602.7h0M250.3 660.5h0M281.5 666.8h0M28.3 671h0M259 650.3h0M165.5 535.9h0M256.1 686.5h0M247.5 649.1h0M303.3 666.8h0M294.4 652.3h0M282.4 667.8h0M307.1 640.5h0M285.2 633.5h0M315 691.4h0M37.9 641.5h0M321.8 650.1h0M259.8 689.7h0M265.3 676.1h0M289.4 645.2h0M33.5 679.1h0M323.4 659.7h0M273.4 651.7h0M293.7 648.1h0M271.4 658.4h0M162.3 562h0" stroke="#008080" stroke-width="6.6"/><path d="M52.3 683.2h0M46.8 675.5h0M49.7 646.7h0M166.7 510h0M139.7 544.8h0M324.7 623.2h0M78.1 644.8h0M305.4 628.1h0M108.7 614.6h0M124.5 594.5h0M39 685.7h0M155.3 579.6h0M53.1 671.8h0M280.8 676.6h0M81.4 633.9h0M138.7 525h0M329.6 660.2h0M319.9 654.6h0M321.6 685.4h0M33.6 647.9h0M50.6 666.4h0M310.9 627.9h0M308.6 684.1h0M95.6 657.8h0M34.5 648.3h0M136 650.4h0" stroke="#4b0082" stroke-width="6.6"/><path d="M88.8 636.4h0M96.8 645.4h0M57 698h0M146.8 675.4h0M75 635.6h0M94.4 655.9h0M63.8 656.6h0M102.5 681.3h0M183.1 666h0M137.8 630.9h0M78.4 630.5h0M69 674.1h0M84.9 679.6h0M100.3 667.9h0M113.3 639.7h0M129 667.2h0M104.7 632.4h0M90.2 645.3h0M177.4 571.9h0M103.5 687h0M114.7 640.3h0M142.2 617.3h0M54.9 662.5h0M99.6 639.9h0M184 621.8h0M116.1 662.6h0M117.6 654.3h0M172.9 548h0M47.8 650.8h0M107.9 682.9h0M131.6 649.2h0M86.3 650.5h0M128.7 652.2h0M66 676h0M129.7 646.2h0M88.4 667.6h0M90.2 650.3h0M323.5 665.6h0M95.8 633.2h0M76.4 678.8h0M58.1 671.6h0M108.2 650.6h0M141.9 647.1h0M96 658.2h0M127.2 668.9h0M130.1 615.7h0M133.5 599.1h0M67.4 670.7h0M55.2 653.4h0M61.2 639.1h0M124.2 636.9h0M114.8 639.8h0M226.3 617.1h0M106.2 659.3h0M63.4 676.8h0M122.8 641.8h0M288.6 637.1h0M125.3 673.7h0M136.8 665.6h0M136.7 627.6h0M95.5 628.5h0M126.7 675.1h0M174.3 666.3h0M162.5 601.5h0M128.7 646.8h0M142.2 614.3h0M130.8 676.4h0M220.2 617.5h0M77.7 671.2h0M137.8 634.2h0M63.3 658.9h0M115.3 659.4h0M79.8 668.2h0M188.6 580.5h0M106.3 633.9h0M132.5 619.4h0M118.4 661.9h0M142.9 676.7h0M113.1 673.4h0M91.9 673.3h0M145.7 632.5h0M149 572.9h0M159.8 617.2h0M118.1 635h0M152.1 613.8h0M319.9 690.9h0M158.5 674.3h0M171.4 678.3h0M42.5 660.1h0M131.7 668.8h0M121.4 655.1h0" stroke="#b22222" stroke-width="6.6"/><path d="M246.2 679.9h0M221.7 621.3h0M211.3 661.8h0M203.4 687.1h0M269.4 678h0M228.8 672.7h0M162.3 535h0M147.4 573.5h0M269.1 607.3h0M181.2 664.1h0M141.2 601h0M233.1 687h0M201.1 668.9h0M215.6 676.4h0M255.5 666.5h0M196.3 678.5h0M185 679.8h0M49.4 669.3h0M246.8 675.2h0M196.2 645.9h0M205.1 667.9h0M237.4 670.9h0M186.2 683.5h0M208.4 659.9h0M185.9 661.5h0M200.4 603.4h0M245.5 677.3h0M209.9 655.1h0M166.3 563.4h0M229.7 636.4h0M218.9 638.1h0M164.5 668.1h0M192.1 593.6h0M107.1 640.2h0M192.4 668.1h0M228.7 646.7h0" stroke="#ffd700" stroke-width="6.6"/><path d="M249.6 668.6h0M149.2 545.4h0M285.5 613.6h0M255.1 661h0M251 615.8h0M238.1 688.8h0M298.6 670.6h0M288.8 687.9h0M137 606.8h0M298.6 652.3h0M251.2 652.8h0M193 654.6h0M258.5 687.2h0M280.5 675.7h0M234 652h0M256.3 594.1h0M255.1 654.4h0M244.2 608.7h0M246.6 635.1h0M240.8 669.6h0M204.3 670.6h0M313.4 627.2h0M168.1 602.8h0M278.7 676.8h0M180.6 656.4h0M162 551.6h0M192.3 636.5h0M216 585h0M30 667h0M242.7 679.1h0M294 687h0M118.9 551.6h0M170.1 554.2h0M178.1 557.7h0M70 668h0M237.3 643.1h0M240.7 654.5h0M234.1 645h0M144.5 557.7h0M289.4 667.3h0M276.6 662.2h0M243.4 655.9h0M261.9 649.2h0M274.5 599.1h0M225.6 683.3h0M262.6 602.8h0M177 536.8h0" stroke="#9acd32" stroke-width="6.6"/><path d="M319.3 621.2h0M314.3 621.3h0M52.1 660.2h0M57.1 655.2h0M311.1 657.8h0M156.5 546.9h0M37.7 635.7h0M45.1 672.3h0M319.4 632.2h0M31.6 628.7h0M173 523.9h0M317.4 665.2h0M30.6 672h0M136.4 590.1h0M119.8 633.8h0M83.7 644h0M286.4 661.1h0M36.5 651.8h0M312.8 665h0M33.1 656.5h0M287.5 660.5h0M323.4 681h0M318.3 662.7h0M299 673.1h0M309.6 685h0M142.3 623.1h0M53.2 655.1h0M277.9 652.6h0M124.7 594.5h0M37.3 644h0M322.8 678.7h0M102.6 663.2h0M136.7 630.9h0M30 680h0M53.2 642.6h0M311.5 679.7h0M83 641.1h0M123.2 614.3h0M139.2 544.2h0M160.1 537h0M313.1 676.4h0" stroke="#4b0082" stroke-width="6.6"/><path d="M271.3 680.4h0M263.3 675.1h0M248.8 658.2h0M149.2 588.4h0M145.2 588.4h0M293 654.8h0M264.7 688.2h0M272.1 677.6h0M312.3 629.3h0M267.2 593.5h0M321.3 668.1h0M291.4 658.3h0M39 676.8h0" stroke="#008080" stroke-width="6.6"/><path d="M246 637h0M272.3 673h0M162.5 557.9h0M283.8 611.9h0M158 534h0M321.6 639.1h0M270.9 588.8h0M232.5 676.8h0M300 676.9h0M250.6 681.1h0M160.6 584.9h0M236.7 683.4h0M135.8 596.9h0M302.2 714h0M248.1 679.7h0M269.2 680.4h0M233.8 608.2h0M277.8 665.5h0M267.1 630.9h0M246.2 586.6h0M247.6 666h0M268.2 661.1h0M268.2 648.2h0M238.2 659.6h0M250.2 634.7h0M226.5 576.2h0M222.5 677.3h0M261.4 616.5h0M199.9 647.7h0M272 587.3h0M144 564.9h0M240.7 620.3h0M233.5 665h0M272.5 685.1h0M290.4 657.4h0M306 640.4h0M186.5 631.4h0" stroke="#9acd32" stroke-width="6.6"/><path d="M210.5 651.6h0M217.2 659h0M202.3 660.5h0M160.2 549h0M221.5 570.7h0M223.7 679.3h0M222.1 637.1h0M132.6 643.3h0M139.2 532h0M199.9 667h0M173.2 574.4h0M240.9 686.8h0M236.2 650.2h0M209.7 672.3h0M231.5 607.7h0M238.1 645.2h0M212.4 679.3h0M242.6 665.3h0M236.9 673.8h0M197.3 663.5h0M180.5 627.4h0M184.4 658h0M182.1 679.1h0M123.9 657.1h0M226.2 663.7h0M202.1 597h0M191.4 647.6h0M114 632.8h0M196 678.2h0M122.9 601.5h0M172.1 683.5h0M217.2 577.8h0M159.4 677.7h0M241.9 581.5h0M203.3 620h0M194.1 681.9h0M205.5 597.8h0M195.8 665.7h0M239.9 587.7h0M219.7 655.2h0M161 548.4h0M227.7 667.9h0M221.2 619.1h0M136 516.5h0M197.8 680.1h0M153.9 518h0M194.6 660h0M220.4 653.4h0" stroke="#ffd700" stroke-width="6.6"/><path d="M92.4 663.5h0M166.7 591.9h0M147.9 626.7h0M125.1 656.4h0M101.3 655.5h0M96 682.9h0M94.9 642.8h0M137.8 662.5h0M62.6 670.8h0M145.9 681.5h0M95.4 633.8h0M116.5 652.2h0M81.2 632.2h0M160.6 511.5h0M150.2 660.6h0M150 570.8h0M47.5 641.4h0M133 603h0M118 655h0M86.5 678h0M128.3 645.6h0M101.9 654.8h0M53.9 654.4h0M124.2 636.1h0M32.7 650.8h0M79.5 684.3h0M128.4 661.5h0M155.5 664.5h0M171.1 560.3h0M142.3 679h0M167.6 541h0M134.1 682.4h0M44.7 657.9h0M78.9 663.5h0M163.6 666.6h0M110 664h0M145 659.9h0M175.5 680.8h0M107.9 659.1h0M172 582.2h0M173.4 683.9h0M146 579.7h0M115.4 654.7h0M118.5 648.2h0M98.9 651.3h0M125.3 653.9h0M150.7 660.6h0M95.3 635.4h0M101.2 685.2h0M66.6 644h0M130.6 644.3h0M76.2 667.4h0M67.9 667.9h0M191.6 616.3h0M165.8 580.5h0M73.3 636.1h0M298.5 655.1h0M73.9 638.4h0M103 644.9h0M74.9 676.1h0M120.5 651.7h0M131.2 668.1h0M144.7 642.3h0M117.4 679.4h0M145.5 633h0M143.8 618.8h0M43.4 662.4h0M119.6 673h0M160.6 571.7h0M174.6 671.8h0M128.2 657.1h0M154.4 669.9h0M67.5 647h0M61 655.9h0M117.8 681.8h0M55.8 663.6h0M58.2 643.6h0M149.6 666.4h0M138.7 618.2h0M187.7 555h0M92.6 630h0" stroke="#b22222" stroke-width="6.6"/><path d="M322.2 654.4h0M143 576.1h0M289.8 634.8h0M302.5 659.5h0M290.2 630h0M275.6 682.6h0M256.2 605.8h0M331.4 657.9h0M280.2 654h0M38 688h0M154.9 525.3h0M230.6 685.5h0M246.7 588.9h0M292.8 617.6h0M300.7 648.1h0M277.4 671h0M291.1 606.4h0" stroke="#008080" stroke-width="6.6"/><path d="M322.2 640.1h0M86.7 684.1h0M321.4 678.2h0M40.5 670.8h0M114.5 645.6h0M309.8 675.5h0M299.1 659.1h0M32.3 643h0M37.3 667.5h0M309.4 635.1h0M43.3 646h0M304.2 682.5h0M155.3 521.8h0M100.5 659.3h0M329.5 669.9h0M47.1 646h0M45.2 670.9h0M320.6 659.7h0M152.6 561.6h0M48 642.4h0M144.8 553.3h0M46.4 662.8h0M46.3 678.7h0M311 622.3h0M300 656.4h0M307.7 642.4h0M44.5 669.8h0M308.5 638.1h0M51.2 633.5h0M42.8 682.9h0M300.1 666.9h0M305.7 637.6h0M36.2 659.6h0M160.9 508.3h0M331.4 643h0M40.9 664.7h0M106.9 653.7h0M321.4 650.8h0M292.4 684.1h0M122 552.4h0M52.6 641.7h0M315.6 647.1h0M55.1 663.7h0M53 679h0M54.5 670.2h0" stroke="#4b0082" stroke-width="6.6"/><path d="M243.7 618.9h0M310.8 681.1h0M252.3 673.6h0M155.3 566.4h0M251.9 664h0M130.5 673h0M273.9 654.2h0M137.6 594.4h0M170.9 549.5h0M252.3 627.1h0M250.6 677.6h0M201.7 679.7h0M151.8 558.2h0M277.3 673.8h0M309.9 652.7h0M183.9 667.6h0M269.2 603.5h0M257.2 637.1h0M266.8 596.1h0M296 644.8h0M180.7 552.4h0M104.2 528.8h0M177.2 529.7h0M285.1 601.4h0M272.5 670.2h0M302.3 641.5h0M265.5 676.8h0M246.3 668.8h0M249.2 666.7h0M145.7 534.4h0M193.4 615.7h0M282.2 683.1h0M211.1 614.2h0M293.6 655.5h0M261.7 635h0M138.8 658.2h0M190.8 648.1h0M143 524.4h0M226.5 683.1h0M219.6 679.4h0M174.6 553.1h0M270.3 658.5h0" stroke="#9acd32" stroke-width="6.6"/><path d="M215.3 679.6h0M255.6 629.8h0M145.6 618.8h0M92.2 655.2h0M161.7 671.9h0M188.5 688.1h0M52 668.8h0M199.1 638.9h0M211.6 658.7h0M275.1 660.5h0M239.6 675.4h0M198.8 688h0M258 688.6h0M153.6 506.4h0M247 663.3h0M144 556.8h0M247.8 655.2h0M242.7 660h0M116.8 668.7h0M198 683.6h0M217.9 657.7h0M247.1 665.3h0M122.9 602.6h0M227.1 669.5h0M138.3 598.1h0M201.9 650h0M192.4 617h0M247.7 599.9h0M183.8 668.7h0M180 680.7h0M93.5 638.4h0M195 675.2h0M217 649.5h0M155 517.4h0M225.8 673.8h0M172.9 586.6h0M145.7 598.9h0M269 635.9h0M243.9 595.3h0M200.6 654.1h0M183.9 659.9h0M129 561.7h0M216.3 610.9h0M129.5 615.3h0" stroke="#ffd700" stroke-width="6.6"/><path d="M327.2 666.9h0M185.8 608.3h0M283.2 652.1h0M103.9 647.8h0M312.6 679.7h0M314.1 632.3h0M311.5 680.4h0M304.9 669.4h0M297.7 663.3h0M46.6 644.3h0M44.3 636.2h0M31.5 666.2h0M54.3 678.6h0M322.2 647.8h0M133.3 644.3h0M115.1 659h0M279.2 673.5h0M60.8 676.1h0M85 613h0M44.4 642.1h0M158 626.4h0M46.4 678.4h0M85.7 655.8h0M120.6 645.4h0M40.1 688.9h0M27.6 676.7h0M41 638.7h0M290.5 657.9h0M323.8 667.4h0M324.7 631.6h0M56.5 664.9h0" stroke="#4b0082" stroke-width="6.6"/><path d="M287.1 643.8h0M325.7 624.3h0M281 667h0M45.1 667.9h0M282.5 615.6h0M266.2 691.7h0M291.1 644.6h0M51.7 645.9h0M278.1 674.8h0M285 656.1h0M285.6 597.9h0M289.8 601.9h0M270 660.3h0M124.7 533.2h0M46 692h0M263.5 645.4h0M318.1 624.7h0M298.9 640.8h0M288.4 670.9h0M57.7 660.1h0M28.3 674.7h0M175.4 536.2h0M253.6 645.6h0M108.7 608.2h0M55.1 655h0" stroke="#008080" stroke-width="6.6"/><path d="M105.1 663.4h0M199.3 637.5h0M140.9 645.2h0M77.8 665.7h0M141.2 607.2h0M184.9 610.3h0M148.7 645.8h0M145.1 645.9h0M133.1 606.7h0M46.1 640.3h0M157.3 565h0M87.6 630h0M111.2 660.8h0M137.2 656.1h0M85.4 672.7h0M150.9 530.2h0M77.6 674.9h0M120.6 649.9h0M72.7 656.6h0M49.8 640.3h0M67.2 653.2h0M197.7 624.5h0M67.3 637h0M138.9 604h0M131.6 661.4h0M158 595h0M128.2 603.1h0M62 654.5h0M137.6 652.6h0M171.1 570.8h0M148.5 672.2h0M136.6 664.5h0M54.7 669h0M91.8 680.9h0M128.8 609.8h0M127.1 621.6h0M130.5 670.4h0M87.2 669.5h0M75.7 676.2h0M129.4 664.2h0M133.3 603.9h0M194.1 638.1h0M79.9 647.7h0M132.2 627.7h0M108.5 647.4h0M123.2 653.1h0M59 676.7h0M90.2 683.7h0M136.8 643.7h0M133.5 664.7h0M57.5 658h0M107.5 630h0M124.4 640.1h0M74.2 673.9h0M75 659h0M165.8 555h0M156.7 527.6h0M115.2 653.4h0M131.1 634.3h0M298.7 676.8h0M153.6 588.4h0M132.9 649.8h0M67.6 643.2h0M133.9 619.3h0M136.7 667.7h0M74.6 646.2h0M147.3 606.1h0M144.3 660.5h0M131.2 603.8h0M151.8 611.4h0M89 640.3h0M54.9 659.1h0M146.8 627.6h0M53.6 660.9h0M130.5 656.8h0M122.5 640.4h0M170 572.4h0M90.9 667.7h0M133.1 670.9h0M52.7 646.9h0M174.6 597.1h0M150 559.7h0M96.2 645.8h0M149.5 508.9h0M133.6 651.2h0M64.8 657.2h0" stroke="#b22222" stroke-width="6.6"/><path d="M261.7 655h0M147.1 513.2h0M293.2 670.5h0M292.7 682.1h0M271.9 664.2h0M241.7 591.9h0M190.5 671.8h0M245.4 611.8h0M252.2 681.1h0M262.8 626.3h0M264 640.3h0M187.5 667.4h0M172 536.7h0M261.2 670.6h0M263.9 590h0M235.4 647.5h0M274.1 668.7h0M241.4 652.6h0M261.1 576.2h0M260.4 674.4h0M280.3 666.8h0M39.6 663.1h0M253.5 666.9h0M176.2 662.9h0M252 687.2h0M263.1 621h0M160.4 572h0M253.3 574.1h0M318.3 668.4h0M154.4 607.8h0M250 585.5h0M251.4 585.5h0M259.3 655.5h0M297.9 649.6h0M262.1 632.1h0M282.8 670.7h0" stroke="#9acd32" stroke-width="6.6"/><path d="M218.3 681.5h0M202.2 661.2h0M221.2 638.4h0M215.6 683.1h0M200.5 607.3h0M163.3 622.3h0M184.8 658h0M223.8 662.5h0M232.7 653.9h0M198.2 672.6h0M196.7 652.5h0M55 650h0M159.8 667.7h0M238.9 675.1h0M222.4 604.6h0M185.3 648.5h0M154.6 677.2h0M220 585.9h0M227.1 591.5h0M197.8 684.1h0M208 687.1h0M201.6 659h0M274.8 675.6h0M217.1 685.9h0M202.8 683.3h0M191.6 677.3h0M253.1 594.1h0M164.9 663.9h0M235.2 604.3h0M208.5 672.9h0M173.8 666.6h0M132.1 630.5h0M155.7 625.7h0M65 645h0M197.8 667.9h0M222.2 668.1h0M204.5 677.7h0M169.4 680.4h0M187.1 661.3h0M183.9 651.8h0M239.6 677.2h0M149.5 584.8h0M202.3 646.4h0M217 674.5h0M216.9 628.5h0M214 682.7h0M188.2 670.6h0M106.6 563.8h0M246.4 671.1h0M237.6 628h0M168.5 515.1h0M201.9 676.9h0M145.7 570h0M217.8 659.7h0M209.2 616.8h0M121.1 681.5h0M133.3 658.9h0" stroke="#ffd700" stroke-width="6.6"/><path d="M138.7 577h0M110.7 602.4h0M79.6 639.5h0M99.6 658.7h0M122.7 633.9h0M110.6 644h0M83.4 647.4h0M132.1 648.1h0M131.3 651.6h0M90.7 665.9h0M90.8 673h0M84.7 685.8h0M107.3 634h0M73.1 661.4h0M147.3 676.3h0M106.1 677.1h0M73.6 684.4h0M123.3 660.5h0M142.8 676.2h0M186.8 660.8h0M100.8 674h0M66 673.6h0M129.4 638.8h0M130.9 663.9h0M126.2 643.5h0M133.6 647h0M128.4 678.5h0M130.4 656.4h0M79.5 673.3h0M91.1 650.4h0M100.7 636.3h0M59.8 659h0M114.5 656.5h0M80.1 677.6h0M133.9 667.4h0M150.1 675h0M52.2 661h0M125.3 645.7h0M120.7 638.5h0M156.3 664h0M169.6 518.1h0M80.1 652.5h0M130.9 642.5h0M86.4 653.1h0M115.2 648h0M111.1 603h0M130.5 513h0M78.6 674.1h0M92.1 655.9h0M71.7 651.6h0M61.8 654.3h0M151.5 601.8h0M144.2 606.5h0M151 538.4h0M131.8 625.2h0M75.9 645.6h0M72 638.4h0M170.2 521.4h0M148.4 621.9h0M161.7 566.6h0M121.7 547.2h0M34.2 651.2h0M91.9 640.9h0M113.6 635.8h0M98.7 650.9h0M168.3 606.1h0M79.3 662.2h0M115.4 650.9h0M183.4 584h0M141.4 639.1h0M99.8 674.2h0M115.7 669.9h0M64.2 636.3h0M92.4 654.9h0" stroke="#b22222" stroke-width="6.6"/><path d="M281.5 681.4h0M331.6 639.3h0M291.9 623.4h0M33 675h0M293.6 686.4h0M112.4 551.2h0M289 688.7h0M42.7 684.2h0M292.5 618.3h0M67 624.6h0M161.5 525h0M289.3 673.2h0M304.1 663.3h0M287.3 640.3h0M142.3 567.3h0M312.7 645.8h0M148 549.8h0M294.5 607.8h0M305.4 649.8h0M285.7 627.1h0M158 560.3h0M289.7 642.2h0M292.6 685.9h0M34.8 611.4h0M164.4 571h0M262 677.8h0M293.7 676.4h0M46.3 684.2h0" stroke="#008080" stroke-width="6.6"/><path d="M166.4 551.2h0M51.1 683.4h0M301.6 678.9h0M305.1 631.5h0M57.2 666.1h0M147.4 536.7h0M332.2 666.5h0M55.1 669.9h0M52.6 670.8h0M298 651.7h0M57.9 670.8h0M287.6 680.3h0M38.2 652.1h0M331.1 668.3h0M319.9 648.1h0M36.3 656.3h0M46.1 644.5h0M35.6 686.5h0M318.5 689.6h0M295.6 656.5h0M284 668.6h0M297.1 643.4h0M28.8 667.8h0M31.5 672.8h0M316.3 624.2h0M310.2 678h0M73.5 655.2h0M316.9 620.9h0M37.8 657h0M314 663h0M140.4 536.7h0" stroke="#4b0082" stroke-width="6.6"/></g></g><g><g fill="none" stroke="#000" stroke-linecap="round" stroke-linejoin="round"><path d="M336 651.3 336 602.5M335.4 677.3 335.1 672.5 335 657.8M331 678 330.6 668.3 330.6 609.8M321.8 678.5 321.4 668.8 321.4 610.3M312 678.3 311.8 668.6 312 610.1M32.7 693.3 33.7 689 34.4 684.1M26.7 691 27.6 681.7M28.2 643.1 29.7 623.6 32.2 604.2M24.5 642.5 26.9 613.3M316.5 680.6 316.1 670.9 316.1 607.5" stroke-width="0.3"/><path d="M336 682.2 335.4 677.3M336 702.1 332.7 687.7 331.7 682.9 331 678M329.4 722 327.5 707.4 326.7 702.6 323.3 688.2 322.4 683.4 321.8 678.5M316.1 722 316.1 707.4 315.6 702.5 313 688 312.3 683.2 312 678.3M312.4 707.6 312.4 702.7 311.9 697.9 310.3 688.2M25.9 722 26.2 721.3M34.3 722 34.7 721.5M30.6 697.1 32.7 693.3M34.4 684.1 35.3 679.3M25.9 694.1 26.7 691M27.6 681.7 28.9 672M33.2 652.8 37.1 633.5 38.5 628.7M27.1 652.8 28.2 643.1M24 647.3 24.5 642.5M305 699.6 305.2 695.9 304.4 686.1 304.1 676.4 304.7 627.6 305.9 598.4M109.4 578.5 109.4 510.3M103.4 585.8 103.6 571.2 103.7 502.9M294.6 694.3 295.4 691.8 296.4 678.8M296.8 673.9 297.5 664.2 299.1 630.1" stroke-width="0.4"/><path d="M309.4 722 311.7 712.4 312.4 707.6M303.5 716.9 306.1 714.3M26.2 721.3 28.7 718.1 31.5 715.9M34.7 721.5 37 719.8 40 719M27.9 699.9 30.6 697.1M35.3 679.3 36.9 674.6M24 697.1 25.9 694.1M28.9 672 33.2 652.8M38.5 628.7 40.7 624.2M25.2 662.4 27.1 652.8M299.9 707 302.8 704.9 304.3 702.5 305 699.6M37.3 692.1 40 687.8M108.8 598 109.3 588.3 109.4 578.5M37.3 622.4 39.2 617.8 42 613.4M103.1 590.7 103.4 585.8M289.9 697.9 292.8 696.5 294.6 694.3M296.4 678.8 296.8 673.9M116.9 576.2 116.9 507.9M296.2 702.1 298.7 700.4M289 662.4 290 657.6 292.6 638.2" stroke-width="0.5"/><path d="M276.3 722 289.2 721.6 295.6 720.6 299.8 719.2 303.5 716.9M236.4 722 268.9 722M196.6 722 229.1 721.8M30 710 35.3 708.7M190 722 190 722M31.5 715.9 35.3 714.4M30 705.2 36 703.5M195.4 717.2 286.4 716.9 292.9 716.5 299.1 715.3M24 702.1 27.9 699.9M36.9 674.6 39.3 671.1M40.7 624.2 43.8 619.9M24 667.2 25.2 662.4M192.3 713 283.3 712.9 289.8 712.7 296.2 712M37.3 697.1 41.3 696M205.5 709.4 283.5 709.2 290 709 296.3 708.2 299.9 707M107.4 607.7 108.3 602.9 108.8 598M42 613.4 45.6 609.3M101.2 600.3 102.4 595.5 103.1 590.7M41 692.9 43.9 692.1M257.7 699.6 277.2 699.3 283.6 699 289.9 697.9M116.8 595.7 116.9 576.2M123.6 566.4 123.6 507.9M254.9 704.1 280.8 704 287.3 703.7 291.7 703.3 296.2 702.1M286.8 687.8 288.1 684.6M289.7 679.9 292.3 670.3" stroke-width="0.6"/><path d="M24 712 30 710M35.3 708.7 41.7 708.5M164 721.4 190 722M35.3 714.4 39.6 714 46.1 714.4M24 707.1 30 705.2M36 703.5 42 703.3M163 716.3 175.9 716.9 195.4 717.2M166.3 712.3 192.3 713M41.3 696 45.5 695.9M173 708.9 186 709.3 205.5 709.4M40 687.8 42.6 684.8M106 612.5 107.4 607.7M99.2 604.9 101.2 600.3M218.7 700.3 257.7 699.6M115.9 615.2 116.5 605.4 116.8 595.7M123.6 590.8 123.6 566.4M43.1 630.4 46.7 626.3M236.7 697.6 249.7 697.1M281.5 650 292.4 611.9 296.2 597.5M268.6 694.6 275.1 694 279 693.4 282.9 692.1 285.4 690.2 286.8 687.8M288.1 684.6 289.7 679.9M287.5 666.8 289 662.4" stroke-width="0.7"/><path d="M41.7 708.5 131.6 719 151 720.7 164 721.4M46.1 714.4 110.3 722M40 719 44.8 719 70.5 722M42 703.3 130.7 713.6 150 715.5 163 716.3M39.3 671.1 42.3 669M149.4 616.9 149.4 499.9M43.8 619.9 47.5 615.9 67 596.4M163.3 610.1 163.4 498M140.4 710.3 153.3 711.4 166.3 712.3M134.2 705.9 153.5 707.8 173 708.9M37.3 667.2 40.1 664.1M139 613.9 139 511.6M37.3 657.3 40.6 653.1M103.9 617.1 106 612.5M45.6 609.3 53.3 601.5M88.8 617.2 96.2 609.2 99.2 604.9M156.7 619.9 156.8 502.9M170.1 580.9 170.1 571.2M170.1 561.4 170 502.9M189.8 532.2 190 502.9M43.9 692.1 50.3 691.9M192.7 700.9 218.7 700.3M130 617.5 130.1 510.2M73.4 616.5 85.1 604.8M43.9 637.4 47.9 633.5M63.9 618.2 79.5 602.6M115.3 620 115.9 615.2M123.1 620 123.4 610.3 123.6 590.8M143.5 615.2 143.5 507.9M176.7 546.9 176.7 507.9M183.2 542 183.3 507.9M46.7 626.3 70.1 602.9M210.8 698.9 236.7 697.6M81.8 614.7 89.6 606.9 93.2 602.9M279.6 654.7 281.5 650M273.5 629.3 287.3 591.7 288.7 586.9 289.8 582.1 290.3 577.3M284 664.9 285.9 661.4M274.1 610.5 281 591.7 282.5 586.9M274.6 646 284.5 617.7" stroke-width="0.8"/><path d="M148.8 631.5 149.2 626.6 149.4 616.9M162.3 634.4 162.9 629.6 163.1 624.7 163.3 610.1M45.5 695.9 134.2 705.9M138.5 628.6 138.9 623.7 139 613.9M101 621.4 103.9 617.1M76.8 628.7 88.8 617.2M155.8 634.5 156.4 629.7 156.7 619.9M168 634.5 168.7 629.7 169.3 619.9 169.8 600.4 170.1 580.9M170.1 571.2 170.1 561.4M190 556.6 189.6 546.8 189.8 532.2M108.5 696.4 121.4 697.6M173.2 700.7 192.7 700.9M129.3 627 129.8 622.3 130 617.5M57.5 631.9 73.4 616.5M47.9 633.5 63.9 618.2M113.8 624.7 115.3 620M122.5 624.9 123.1 620M143 629.8 143.3 624.9 143.5 615.2M173.8 624.8 175.5 605.4 176.6 585.9 176.9 571.3 176.7 546.9M181.8 595.6 183.1 585.9 183.9 576.2 184 571.3 183.3 551.8 183.2 542M197.8 699.4 210.8 698.9M61.7 633.9 70 626.4 81.8 614.7M243.6 693.9 250 693.1M285.4 670.3 287.5 666.8M268.5 643.4 273.5 629.3M290.3 577.3 290.3 572.4 289.5 562.7M269 624.6 274.1 610.5M282.5 586.9 283.5 582.1 283.9 577.3 283.8 572.4 283.4 567.5M272.5 650.6 274.6 646M275.4 591.7 276.7 586.9 277.6 582.1 277.8 577.3" stroke-width="0.9"/><path d="M147.8 635.9 148.8 631.5M161 639.2 162.3 634.4M203.6 575.5 203.5 570.7 201.6 556.1M137.7 632.7 138.5 628.6M40.6 653.1 44.4 650.8M87.9 632.1 92.7 628.8 97.1 625.3 101 621.4M68 635.9 72.5 632.4 76.8 628.7M178.2 633.7 189.6 585.7 190.6 580.9 191.2 576 191.2 571.1 190 556.6M50.3 691.9 56.8 692.2M82.7 694.1 108.5 696.4M121.4 697.6 140.8 699.2 160.2 700.3M43.9 642.3 53.2 635.6 57.5 631.9M225.9 577.9 225.9 573.1 224.8 563.4M152.3 698.9 158.8 699.1M178.3 699.5 197.8 699.4M276.6 658.9 279.6 654.7M250 693.1 262.6 690.9M279.1 685.2 282.7 682.2 285.6 678.8M282.3 673.7 285.4 670.3M266.4 648.1 268.5 643.4M281 668.2 284 664.9M264.2 638.8 269 624.6M283.4 567.5 282.9 562.7M254.1 578.7 252.9 559.2 252.9 554.3M277.8 577.3 277.5 572.4 276.3 562.7M260.6 620.2 268.3 596.5 269.8 591.7 270.9 587 271.5 582.1 271.5 577.2 269.6 562.7M263.3 591.8 264.4 587 264.8 582.1 264.7 577.2 263 562.7M242.2 576.2 242.1 571.3 241.4 561.6M234.7 578.3 234.7 573.5 234 563.7M217.4 576 217.2 571.1 215.9 561.4M196.5 586.6 197.8 581.9 198.5 577 198.7 572.2 198.4 567.3 196.6 552.7M210.5 576.3 210.5 571.5 209.2 561.8" stroke-width="1"/><path d="M42.3 669 46 667.7M42.6 684.8 45.9 683.1M182.9 641.9 186.3 632.5 200.4 589.9 201.9 585.2 203 580.4 203.6 575.5M40.1 664.1 44.2 662M63.1 639.1 68 635.9M154.4 639.3 155.8 634.5M166.7 639.3 168 634.5M174.6 643 176.7 638.4 178.2 633.7M56.8 692.2 82.7 694.1M160.2 700.3 173.2 700.7M40.7 658.9 43.9 657.3M128.3 630.6 129.3 627M120.8 629.5 122.5 624.9M141.9 634.6 143 629.8M200.7 653.5 202.9 648.9 206.4 639.5 221.1 597.1 224.1 587.6 225.3 582.8 225.9 577.9M158.8 699.1 178.3 699.5M57.2 637.4 61.7 633.9M272.6 662 276.6 658.9M262.6 690.9 268.8 689.5 274.8 687.5 279.1 685.2M217.2 694.4 223.5 693.4M229.8 692.1 236 690.7M263.4 652.3 266.4 648.1M277 670.9 281 668.2M257.3 652.3 260.4 648.1 262.6 643.5 264.2 638.8M265.4 657.8 269.3 654.8 272.5 650.6M276.5 665.2 276.5 665.2M225.9 657.9 229.8 654.1 233 649.9 235.4 645.4 237.2 640.7 243.2 621.7 251.8 593.2 253 588.4 253.8 583.6 254.1 578.7M247.6 652.6 250.9 648.5 253.1 643.9 260.6 620.2M254.7 620.3 263.3 591.8M216 656.4 218.9 652 221.2 647.5 224.7 638.1 231.1 619.2 239.9 590.7 241.1 585.9 241.9 581.1 242.2 576.2M209.9 654 212.2 649.4 215.8 640 227.1 607 233 588 234.1 583.2 234.7 578.3M194.5 647 199.8 632.9 214.4 590.4 215.9 585.7 217 580.9 217.4 576M235.7 654.5 239.3 650.5 241.9 646.1 243.8 641.4 245.3 636.7 252.6 612.9M187.1 647.2 189.2 642.6 191 637.9 207.3 590.7 208.8 586 210 581.2 210.5 576.3M227.7 644.9 234.2 626 243.1 597.5" stroke-width="1.1"/><path d="M146 639.8 147.8 635.9M158.6 643.7 161 639.2M180.6 646.2 182.9 641.9M136.1 636.2 137.7 632.7M44.4 650.8 48.8 649.3M77.6 638 87.9 632.1M42.7 648.9 46.6 646.8M151.6 643.6 154.4 639.3M164.4 643.8 166.7 639.3M126.4 633.8 128.3 630.6M111.7 627.8 113.8 624.7M198.1 657.5 200.7 653.5M105.8 691.3 118.8 691.3M233 676.9 262.4 666.5 268.1 664.2 272.6 662M223.5 693.4 229.8 692.1M236 690.7 248.1 687.3 271.9 679.4 277.5 676.9 282.3 673.7M226.8 670.7 243.9 663.7 249.5 661.3 254.9 658.6 259.5 655.8 263.4 652.3M241.7 683.3 265.5 675.4 271.4 673.3 277 670.9M243.7 667.4 255.2 662.9 260.8 660.3 265.4 657.8M241.7 678.2 265.3 670.1 271.1 667.9 276.5 665.2M216.6 664.7 221.4 661.5 225.9 657.9M222.6 667.4 238.7 659.1 243.6 656 247.6 652.6M208.2 664.1 212.4 660.4 216 656.4M203.2 662.3 207 658.3 209.9 654M190 655.1 192.3 651.6 194.5 647M231.3 658.1 235.7 654.5M184.9 650.9 187.1 647.2" stroke-width="1.2"/><path d="M142.7 643.5 146 639.8M177.7 649.9 180.6 646.2M66.5 643.1 77.6 638M57.8 642 63.1 639.1M160.8 647.7 164.4 643.8M171.5 647.2 174.6 643M108.5 630.4 111.7 627.8M194.9 660.8 198.1 657.5M118.8 691.3 125.3 691.2M221.2 681 233 676.9M80.8 689.6 93.8 689M215.3 675.3 226.8 670.7M223.8 689 241.7 683.3M229.8 682.2 241.7 678.2M206.1 670.5 211.5 667.8 216.6 664.7M211.6 672.5 222.6 667.4M203.2 667.2 208.2 664.1M186.8 658.1 190 655.1M181.7 654.3 184.9 650.9" stroke-width="1.3"/><path d="M42.6 676.5 45.8 675.2M150.7 650.3 155 647.3 158.6 643.7M173.1 653.4 177.7 649.9M44.2 662 48.4 660.9M133.1 639.6 136.1 636.2M60.7 645.3 66.5 643.1M46.6 646.8 57.8 642M147.9 646.9 151.6 643.6M156.5 650.8 160.8 647.7M43.9 657.3 50 655.5M123.4 636.4 126.4 633.8M75.6 643.1 99.1 634.7M104.6 632.5 108.5 630.4M114.9 634.4 118.3 632.3 120.8 629.5M189.9 663.8 194.9 660.8M99.3 691.3 105.8 691.3M125.3 691.2 131.8 691M209.2 684.6 221.2 681M164.4 694.5 190.4 693.4 203.2 692.1 209.6 691.1M93.8 689 100.3 688.5M203.4 679.1 209.5 677.4 215.3 675.3M200.3 672.7 206.1 670.5M197.7 669.7 203.2 667.2M182.6 660.4 186.8 658.1M176.7 657.3 181.7 654.3" stroke-width="1.4"/><path d="M137.8 646.7 142.7 643.5M145.3 653 150.7 650.3M45.9 683.1 49.5 682.2M156 660.2 161.9 658.3 167.7 656.1 173.1 653.4M128.9 642.2 133.1 639.6M48.8 649.3 60.7 645.3M143.5 649.6 147.9 646.9M118 639.1 123.4 636.4M69.7 645.1 75.6 643.1M99.1 634.7 104.6 632.5M110.7 636.1 114.9 634.4M50.6 687.1 57 686.3M164.8 668.5 177.6 666.8 183.9 665.7 189.9 663.8M131.8 691 177.2 688.5 190.1 687.6 202.9 685.9 209.2 684.6M100.3 688.5 126.1 686.3M139 685.1 190.7 681.2 197.1 680.4 203.4 679.1M155.5 677.9 187.8 675.2 194.2 674.2 200.3 672.7M164 674 183.3 672.2 189.7 671.3M170.4 663.6 176.7 662.3 182.6 660.4M150.1 657.3 155.9 655 161.2 652.3" stroke-width="1.5"/><path d="M46 667.7 51 666.6M126.1 650.9 132.1 649 137.8 646.7M45.8 675.2 52 673.8M133.5 656.9 139.5 655.2 145.3 653M49.5 682.2 55.8 680.9M137.5 664.9 149.9 661.9 156 660.2M117.1 646.2 123.2 644.5 128.9 642.2M131.9 653.9 137.8 652 143.5 649.6M50 655.5 105.8 642.5M112 640.9 118 639.1M92.5 641.3 104.7 638 110.7 636.1M57 686.3 76 683.2M120.2 675.2 145.7 671.2 164.8 668.5M126.1 686.3 139 685.1M110.5 683.1 129.8 680.6 155.5 677.9M157.5 674.6 164 674M131.9 662.4 144.2 659.2 150.1 657.3" stroke-width="1.6"/><path d="M51 666.6 107.5 655.1 126.1 650.9M52 673.8 114.8 661.2 133.5 656.9M55.8 680.9 137.5 664.9M48.4 660.9 117.1 646.2M119.5 656.9 131.9 653.9M105.8 642.5 112 640.9M76 683.2 101.2 678.4 120.2 675.2M104.2 684 110.5 683.1" stroke-width="1.7"/></g><path d="M336 629.2L337.8 633.5 334.2 633.5ZM335.1 669.9L336.9 674.1 333.3 674.2ZM330.6 656L332.4 660.2 328.8 660.2ZM321.4 666.2L323.2 670.5 319.7 670.5ZM311.8 666L313.6 670.3 310 670.3ZM312.4 705L314.2 709.3 310.6 709.3ZM291.9 721.1L287.7 723.7 287.1 719.9ZM252.2 722L247.6 723.9 247.6 720ZM212.4 721.9L207.8 723.9 207.7 720ZM108.9 716.4L103.8 717.9 104.2 713.8ZM68.3 717L63.2 718.5 63.7 714.4ZM54.1 720L49 721.5 49.5 717.4ZM159.3 716.1L154.4 717.8 154.7 713.8ZM144.9 641L142.9 646.7 139.5 643.6ZM35.6 640.6L36.6 645.2 33 644.5ZM28.8 635.7L30.2 640 26.7 639.8ZM25.4 630.2L26.9 634.5 23.4 634.3ZM162.7 631.4L164.2 636.7 160 636.2ZM221 713L216.4 715 216.4 711.1ZM221.2 709.4L216.6 711.3 216.6 707.5ZM153.3 661L148.3 664.9 147 660.2ZM138.7 625.6L140.4 630.7 136.3 630.4ZM107.9 605L109 609.9 105.2 609.2ZM43.8 611.3L42.3 616.1 39.4 613.5ZM103.3 588L104.8 592.6 101.1 592.3ZM156.8 592.6L158.8 597.5 154.7 597.5ZM170.1 578L172.1 582.9 168 582.9ZM190.9 577.8L192.5 583.1 188.2 582.6ZM316 643.9L317.8 648.2 314.3 648.2ZM202.1 700.8L197.3 702.9 197.2 698.9ZM130 614.5L132 619.5 127.9 619.4ZM63.7 626.1L61.6 631 58.8 628ZM62.1 620L60 624.9 57.1 622ZM116.8 592.9L118.7 597.5 114.8 597.5ZM123.6 583.1L125.5 587.8 121.6 587.8ZM143.5 573.2L145.5 578.1 141.4 578.1ZM176.9 568.3L179 573.2 174.8 573.3ZM183.3 553.7L185.5 558.6 181.4 558.7ZM277.1 704L272.5 706 272.5 702.1ZM174.7 667.2L169.3 670.4 168.6 665.6ZM56.5 616.5L54.5 621.4 51.6 618.5ZM200.8 699.3L195.9 701.5 195.7 697.4ZM76.1 620.4L74 625.4 71.1 622.4ZM224.3 679.9L219.9 683.9 218.4 679.5ZM286.9 687.8L286 692.8 282.7 690.7ZM265.7 690.2L261.1 693.6 260.1 689.3ZM269.1 680.4L264.8 684.3 263.3 680ZM187.2 693.6L181.8 696.2 181.5 691.6ZM224.1 671.8L219.9 676 218.2 671.8ZM256.7 678.4L252.3 682.2 250.9 677.9ZM275.1 607.7L275.3 613 271.5 611.6ZM273.8 647.9L273.6 653.3 269.8 651.6ZM250.7 675.2L246.3 679.1 244.8 674.8ZM219.2 662.9L216.1 667.8 213.5 664.1ZM277.7 579.1L279.6 584.2 275.4 584ZM258.6 626.7L259.1 632.3 255 631ZM173.9 673.1L168.3 676.1 167.9 671.2ZM262.8 593.6L263.5 599.1 259.3 598ZM230.5 621L231 626.6 226.8 625.2ZM224.9 613.5L225.3 619.1 221.2 617.7ZM204.1 620.5L204.4 626.1 200.3 624.7ZM198.5 569.1L201 574 196.7 574.3ZM244.7 638.4L245.2 644.1 241 642.7ZM200.2 611.4L200.6 617 196.4 615.6ZM147.5 658.1L142.7 662.3 141.2 657.6ZM235.1 623L235.6 628.7 231.5 627.3Z" fill="#000"/></g><g><g stroke-linecap="round" fill="none"><path d="M378.3 671.9h0M418 677.6h0M479.9 526.4h0M433 676.1h0M385.8 678.6h0M433.6 521.4h0M479.7 596.7h0M475.4 646.8h0M437.4 537.1h0M413.2 649h0M379.4 668.9h0M375.8 692.2h0M455.8 580h0M416.2 654.7h0M505.5 595.4h0M654.5 665.1h0M676.8 687.2h0M491.9 625.5h0M670.9 658.5h0M482.5 610.1h0M509.2 663.3h0M668.4 675.3h0M483.3 603.4h0M494.7 599.6h0M456.9 626.3h0M378.1 689.9h0M671.9 678.5h0M483.6 617.7h0M671.7 657.3h0M448.4 620.4h0M413.5 677.7h0M481 554.4h0M420.7 675.1h0M504.4 589.7h0M424.6 503h0M438.3 659.5h0M453.4 618.7h0M435.2 673.1h0M362.8 687.8h0M673.8 678.1h0M415.1 656.8h0M381.4 689.2h0M419 497h0M486.4 536.8h0M428.6 665.5h0M390.7 684.4h0M368.1 674.7h0M461.2 567.8h0M376.1 693.6h0M397.5 672.7h0M423.4 501.2h0M385 686.3h0" stroke="#4b0082" stroke-width="6.6"/><path d="M575.8 651.6h0M526 683.1h0M541.1 692.7h0M580.6 634.4h0M546.7 644.7h0M527.9 667.5h0M590.2 671.7h0M547.8 644.8h0M475.2 681.9h0M488.1 608.2h0M550.1 673.7h0M607.1 674h0M563.2 663.4h0M546.8 679h0M422.8 679h0M447.7 543.1h0M538.3 657.7h0M541.8 670.1h0M460.4 617.4h0M583.7 630.7h0M480.4 528.9h0M575.7 678.7h0M581.7 641h0M559.9 645.2h0M553.9 671.7h0M527.7 668.5h0M593.4 660.7h0M565.5 669.3h0M466.2 653.2h0M545.7 671.4h0M583.5 678.6h0M543 694.5h0M634.3 661.8h0M588.8 637.9h0M597.3 550.2h0M457.5 663.5h0" stroke="#ffd700" stroke-width="6.6"/><path d="M570 566h0M436.6 493.9h0M600.3 688.6h0M651.2 673.9h0M640 568h0M610.2 673.5h0M652.4 659.6h0M604.3 664.6h0M637.9 670.4h0M651.4 633.6h0M598.8 677.8h0M632.1 641.8h0M469.4 680.8h0M477.6 611.5h0M632.8 665h0M598.4 658h0M590.2 573.8h0M580.5 676h0M426.4 511.1h0M633.6 662.5h0M600 530h0M616.8 565.9h0M648.7 635.7h0M464.7 525h0M659.7 674h0M639.2 626.4h0M594.4 637.9h0M612.6 649.3h0M444.9 562h0M630.7 651.6h0M642.6 652.6h0M647.6 671.9h0M485.2 557.2h0M630.6 646.8h0M626.8 629.1h0M487 536.1h0M633.4 686.6h0M469.4 596.2h0M646.3 688h0M620.8 663.9h0" stroke="#9acd32" stroke-width="6.6"/><path d="M605.2 546.2h0M527.7 676.8h0M476 607.9h0M504.8 645.7h0M440.5 666.6h0M458.7 607.8h0M451.5 584.5h0M431.7 673.5h0M544.8 671.6h0M423.4 677.8h0M464.6 652.7h0M493.6 679.7h0M432.7 662.6h0M468.5 660.7h0M520.2 671.8h0M437.7 520.2h0M423.5 679.1h0M471.4 593.7h0M382.5 695.5h0M513.3 637.1h0M526.1 668.8h0M506.9 541.3h0M539.3 661h0M436.2 501h0M376 650h0M447.2 599.2h0M407.6 684.4h0M446.7 562.4h0M494.3 604.6h0M505.7 655.2h0M443.9 677.7h0M504.6 654.7h0M460.8 664.9h0M497.2 688.4h0M368.1 678h0M426.8 683.4h0M420.2 683.5h0M451.3 659.2h0M511.8 685.9h0M558 552h0M455.3 673.1h0M462.4 679h0M492.3 587.2h0M471.7 675.6h0M425 669.7h0M494.8 620.8h0M540 695h0M516.6 677.8h0M455.4 644.7h0M590.3 547.6h0M429.7 657.1h0M397.3 689.9h0M526.1 667.1h0M474.6 686.2h0M492.9 632.7h0M455.3 670h0" stroke="#b22222" stroke-width="6.6"/><path d="M645.3 670.4h0M606.7 650h0M632.9 694.5h0M460 549.2h0M642.9 630.6h0M385.5 680.2h0M677.8 676.7h0M618.9 640.9h0M652.9 672.3h0M444.5 507.5h0M641.6 690.6h0M642.9 633.2h0M651.2 628.9h0M617.5 643.8h0M673.1 681.8h0M598.8 631.5h0M659.1 682.3h0M465.9 554.6h0M623.6 669.2h0" stroke="#008080" stroke-width="6.6"/><path d="M402 676.8h0M398.1 677.7h0M439.5 523.7h0M465.1 688.2h0M424.2 510.2h0M454.6 674.5h0M439.8 494.8h0M422.5 685.5h0M448.4 652.9h0M440 667.9h0M598 558h0M385.5 670.8h0M438.8 509.7h0M470.4 639.4h0M500.8 636.8h0M496.1 644.1h0M492.9 668.5h0M514.6 638.4h0M458.9 690.9h0M379.8 673.7h0M476.3 663.6h0M453 654.6h0M511 537h0M470.8 644.9h0M542.9 690h0M548.7 665.2h0M457.9 648.1h0M438.1 494.2h0M495 660.3h0M470.5 567.4h0M400.5 684.3h0M452.9 616h0M512.8 670.4h0M427 654.8h0M427.6 500.3h0M384.3 670.1h0M503.8 561.7h0M455.4 663.3h0M459.1 684.3h0M403.6 687.5h0M450.1 599.3h0M475.6 653.4h0M591.7 555h0M503.5 653.7h0M469.5 580.9h0M605 541h0M497.3 663.7h0M505.1 670.1h0M540.3 659.6h0M442.2 610.4h0M527.5 678.6h0" stroke="#b22222" stroke-width="6.6"/><path d="M635 625h0M651.8 670.5h0M623.1 646.4h0M613 559.9h0M577.6 692.3h0M465.3 582.4h0M567.6 639.4h0M631.7 692.9h0M611.6 656.1h0M633.7 658.2h0M565 628h0M638.1 670.8h0M603.1 680.6h0M630.4 661.9h0M473.4 562h0M598.1 686.9h0M464.5 561.2h0M457.6 554.2h0M450.1 527.4h0M617.3 673.1h0M618.9 687.4h0M532.9 679.5h0M609 654.4h0M477 528.2h0M591.1 673.2h0M631.6 687.2h0M591.6 663.2h0M425.6 527.1h0M662.9 646.7h0M604.8 664.9h0" stroke="#9acd32" stroke-width="6.6"/><path d="M572.1 650.9h0M582 648.2h0M597.8 689.8h0M536.1 664.6h0M589 617.5h0M556 594h0M559.9 660.5h0M646.3 660.4h0M458.8 530.3h0M605.4 671.2h0M557.5 647.6h0M580 682.5h0M450.4 560.5h0M450.6 532.7h0M581.8 675.3h0M540.8 659.6h0M548.4 673h0M464.7 656.6h0M553.6 665.5h0M451.2 535.8h0M582.2 646.9h0M587.6 657h0M540 660.3h0M543.5 664.5h0M401.7 683.6h0M596.3 650.3h0M576.9 682.8h0M525.1 663.4h0M567.6 667.4h0M458.1 548.2h0M549.1 664.7h0M425.7 520.8h0M587.4 668.3h0M545.6 685.3h0M467 623.5h0M463.5 651h0M565.9 662.5h0M490.2 531.7h0M602.8 687.8h0M550.9 677.7h0M592 649.5h0M665.4 534.7h0M423.4 502.1h0M451.5 647.9h0M471.4 599.3h0M543.1 671.7h0M549 648.1h0M421.9 519.4h0M613.2 580.8h0" stroke="#ffd700" stroke-width="6.6"/><path d="M523.2 590.4h0M477.2 664.9h0M629.4 651h0M431.1 503.9h0M473.6 617.4h0M670.8 652.6h0M419.3 650h0M389.4 676.1h0M384.6 650h0M423.8 679.8h0M677.2 664h0M641.9 637.3h0M444.7 597.3h0M412.5 681h0M627 657.5h0M672.8 656.5h0M439.6 655.1h0M397.4 690.9h0M487.3 549.9h0M672.9 666.8h0M448.3 518.7h0M419.6 690.6h0M431.8 646.1h0M475.3 620.4h0M502.4 605.7h0M398.5 673.6h0M632.8 636.7h0M389.3 688.6h0M645.7 644.3h0M416.5 666.1h0M446.1 606.1h0M483 614.4h0M450.7 513h0M497.2 592.8h0M468.5 590.8h0M411.6 657.5h0M376 692.4h0M622.6 670.4h0M442.2 602.6h0M430.6 533.1h0M676.2 661.3h0M437.4 647.4h0M464.1 599.1h0M386.8 670.6h0M498.3 647h0M424.6 678.7h0M364.6 684.1h0M450.3 618.7h0M495.3 613h0M418.7 655.6h0M472.4 562h0M458 594h0M677.3 670.4h0M380.7 689.3h0M508.7 649.2h0M676 681.9h0M437 603.4h0M673 668.2h0M515.4 685.2h0" stroke="#4b0082" stroke-width="6.6"/><path d="M628.8 670.7h0M648 644.4h0M621.4 646.2h0M449.1 566.2h0M618 545h0M624.9 630h0M398.5 670.8h0M611.5 645.6h0M462.4 563.9h0M646.2 627.1h0M463.6 547.5h0M644.7 626.3h0M647 617h0M645.4 648.4h0" stroke="#008080" stroke-width="6.6"/><path d="M565 642.6h0M571.9 639.1h0M380.5 651h0M614.4 648.5h0M591.2 651.6h0M563.6 672.7h0M600.7 543.6h0M572.1 655.6h0M445.6 515.6h0M562 670.6h0M559.8 629.7h0M540.6 679h0M568.3 692.1h0M444.7 520.4h0M604.8 565.7h0M532.9 683.7h0M484.8 612.4h0M627 545h0M445.9 520.3h0M613.6 549.7h0M550.5 681.9h0M450.4 522.6h0M445.3 549.2h0M576.2 670.8h0M456.5 616.8h0M463.2 576.6h0M415.4 669.6h0M599.7 575.3h0M490.3 528.4h0M558 668.8h0M586.4 685.9h0M537.8 679.9h0M512.6 666.3h0M582.4 679.1h0M555.3 636h0M597.8 665.8h0M569.8 627h0M550 645.3h0M577.1 627.4h0M563.1 656.9h0M580.4 655.4h0M579.3 667.3h0M589.2 656.4h0" stroke="#ffd700" stroke-width="6.6"/><path d="M633.6 633.7h0M644.8 632.3h0M602.6 653.3h0M640.3 644.8h0M480.5 565.2h0M654.2 673h0M482.5 566.3h0M636.2 640.6h0M656.4 659.5h0M638.1 678.1h0M643 660.4h0M654.4 667.9h0M648.7 628.5h0M602 639.6h0M633.7 661.1h0M612 530h0M633.4 695.4h0M643.5 630.7h0M466.2 566.7h0M438 553.9h0M646.9 684.7h0M464 555h0M497.4 541.6h0M484.2 561.6h0M465 520.2h0M644.9 627.5h0M644.5 673.8h0M646.7 640.4h0M606.2 676.9h0M478.6 557.6h0M620.5 679.8h0M622.9 644.7h0M658.8 638.8h0M477.2 582.3h0M599.4 659.4h0M624.4 685.3h0M607.3 665.8h0M622.2 692.2h0M645.8 673.2h0M614.7 668.8h0M569 628.7h0M626.6 684.3h0M613.9 676.7h0" stroke="#9acd32" stroke-width="6.6"/><path d="M367.9 691.9h0M463.6 691.1h0M440.3 679.3h0M470.5 680.3h0M509.9 645h0M570.2 649.1h0M467.5 672.3h0M470.6 627.1h0M453 659.3h0M462.6 661.4h0M457.8 609h0M477.2 684.9h0M448.2 651.7h0M517.1 673.8h0M425.7 669.3h0M471.2 642.7h0M482.4 669.3h0M439.7 661.8h0M509 662.7h0M426.9 688.7h0M459.5 592.4h0M573.2 628.5h0M398 685.4h0M467.6 659.8h0M495.8 650.5h0M471.4 621.2h0M468.2 616.6h0M437.7 615.7h0M503.8 514.7h0M572.6 636.8h0M535.9 674.4h0M491.7 671.3h0M465.9 665.8h0M472.7 656.6h0M496.7 643.1h0M475.6 611.7h0M431.6 531.5h0M509.2 671h0M428.3 524.2h0M451.5 650.4h0M499.6 588.9h0M433 518.2h0M488.7 545.5h0M470.2 586.8h0M513.5 649.5h0M425.4 614.3h0M496.1 648.5h0M377.3 680.6h0M422.2 511.9h0M488.8 677.3h0M448.6 611.2h0M477.8 604.3h0M563.6 635.6h0M488.8 660.4h0M516.4 649.6h0M457.3 658h0M495.4 671.9h0M573.7 630h0M459 644.5h0" stroke="#b22222" stroke-width="6.6"/><path d="M596 607h0M446.1 531.1h0M403.4 677.3h0M470.5 600.5h0M453.1 596.3h0M404 691.1h0M376.8 673.4h0M504 594.5h0M420.3 517.5h0M372 686.8h0M374.3 672.9h0M515.8 645.6h0M396.4 677.5h0M466.6 608.6h0M395.9 696.4h0M462.9 681.7h0M371.7 690.4h0M432.6 624.1h0M447.6 598.9h0M385.7 667.5h0M444.3 530.3h0M501.7 668.2h0M445.9 520.8h0M372.3 681.2h0M451 519h0M423.8 679.9h0M453.2 580.3h0M380.6 671.6h0M438.1 578.7h0M396.4 690.6h0M388 581h0M392.5 670.7h0M439.3 677h0M644 623h0M389.5 698h0M471.9 623h0M406.1 682.4h0M428.3 650.8h0" stroke="#4b0082" stroke-width="6.6"/><path d="M643.7 650.7h0M643.5 656.8h0M600.1 670.3h0M465.8 531.3h0M656.7 649.2h0M404.8 676.8h0M653.7 666.8h0M633.2 661.2h0M607.7 546.8h0M644.7 653h0M643.2 630.3h0M635.8 627.6h0M405.5 679.4h0M655.3 665.7h0M662.1 663.2h0M639.7 659h0M650.6 662.1h0M636.4 636.2h0M628.8 663.3h0M626.9 647h0" stroke="#008080" stroke-width="6.6"/><path d="M390.6 679h0M479.9 653.8h0M487.9 606.4h0M455.3 687.7h0M369.8 694.4h0M671.7 671.9h0M560 610h0M471.9 597.5h0M390.7 693.6h0M390 694.9h0M439 620.4h0M670.1 668.1h0M426.2 664.5h0M640.5 650.9h0M423.4 626.2h0M435.8 682h0M485.5 612.5h0M395.7 695.7h0M453.7 603.7h0M501.9 659h0M387.9 669.1h0M671.2 671.3h0M479 602h0M660 620h0M398 697.5h0M417.3 679.4h0M672.7 689.5h0M495 613.3h0M448.2 613.1h0M498.7 639h0M674.7 650.8h0M382.6 695.2h0M437.2 537.6h0M443.9 655.3h0M461.6 613h0M418.9 686.2h0M386 683.3h0M397.1 672.3h0M461.1 599.1h0M438 537.4h0M615.4 664h0M673.7 652.3h0M480.5 599.4h0M469.6 542.5h0M501.7 638.2h0M464.6 567.5h0M472.4 606.7h0M483.5 590.9h0M465.3 589.8h0M420.1 663.6h0M445.6 601.7h0M428.6 506.1h0M436 680.2h0M387.5 689.1h0M672.4 654.3h0" stroke="#4b0082" stroke-width="6.6"/><path d="M420.6 509.2h0M517.7 655.1h0M614.3 584.6h0M464.1 559.3h0M493.6 679.1h0M375.1 678h0M513 676.3h0M470.9 637.3h0M452.7 617.1h0M459.3 686.2h0M492.4 672.4h0M503.2 655.6h0M429.5 636.8h0M500.8 678.3h0M482.6 663.7h0M512.7 643.6h0M446.7 500.7h0M547.5 672.5h0M473.3 653.1h0M451 514h0M482.5 667h0M500.2 669.2h0M390.9 684.2h0M376.3 674.4h0M417.5 667.7h0M478.7 658.4h0M528 616h0M465.9 674.9h0M439.3 517.4h0M462 557.7h0M482 675.9h0M443.6 526h0M460.2 693h0M494.8 639.2h0M512.3 683.1h0M475.9 687.3h0M440.3 618h0M486.3 526.7h0M467.7 560.9h0M459.7 641.3h0M491.9 675.5h0M494.5 591.2h0M492.3 650h0M464 528.2h0M516 580h0M483.1 659.2h0M428.2 526.5h0M514.1 655.6h0M467.3 670.1h0M433.6 657.2h0M464.4 651h0" stroke="#b22222" stroke-width="6.6"/><path d="M605 573h0M561.7 671.2h0M522.3 679.7h0M453.1 648.8h0M570 639h0M535 690.4h0M464 565.7h0M562.9 630.9h0M466.6 653.9h0M497.3 649.1h0M555.4 683.2h0M608 555h0M538.7 692h0M555.1 691.8h0M578.6 686.5h0M396.4 683.7h0M557.7 659.1h0M446.7 529.2h0M576.6 647.4h0M546.6 678.4h0M588 572h0M562.7 655.9h0M434.4 505.5h0M605.1 646.7h0M591.7 644.6h0M459.8 548.5h0M556.3 651.7h0M552.7 682.2h0M444 518.8h0M566.9 654.9h0M546.9 676.2h0M564.9 678h0M590.9 652.4h0M549 667.1h0M481.2 668.8h0M425.3 649.9h0M601.2 555.8h0M552.1 680.1h0M571 685.7h0M455.2 653.5h0M578.5 661.8h0M525.1 672.3h0" stroke="#ffd700" stroke-width="6.6"/><path d="M449.3 529.4h0M439.6 535.7h0M649.5 633.3h0M647.4 686.3h0M436.5 530.3h0M657.9 644.8h0M397.8 691.3h0M384.7 686h0M639.6 654.3h0M627.8 657.1h0M467.1 522.2h0M625.8 683.7h0M641.2 656.9h0M668.3 666.5h0M436.5 527.6h0" stroke="#008080" stroke-width="6.6"/><path d="M463 591.8h0M616 683.8h0M426.5 523.2h0M586 557.5h0M620.4 666h0M472.3 528.5h0M603.5 661.3h0M486 553.6h0M640.6 640.5h0M646.3 633.2h0M662.5 643.4h0M601.5 634.9h0M626.7 628.1h0M602.2 688.5h0M651 629.3h0M471.3 541.8h0M599 656.6h0M646 653.4h0M595 637h0M467.5 569.9h0M613.4 669.5h0M640.7 659.5h0M603 661.9h0M633.2 643h0M609.6 647.7h0M472.9 525.5h0M436.7 591.2h0M626.5 660.1h0M614.3 657h0M616.4 640.7h0M613.8 647.2h0M599 692.8h0M563.6 659.6h0M454.3 667.2h0M646 693.2h0M636.2 640.6h0M592.5 641.1h0M622.4 679.7h0M593.7 547h0M630.7 694.3h0" stroke="#9acd32" stroke-width="6.6"/><path d="M412.8 661.5h0M614.1 565h0M430.6 531.7h0M593.2 661.9h0M558 622h0M617.8 635.7h0M559.8 679.7h0M550.1 686.3h0M529.1 681.4h0M485.9 534.7h0M573.7 638.8h0M431.3 520.6h0M549.3 679.6h0M590.3 579.8h0M382.1 685.4h0M569.8 680.8h0M543.3 650.4h0M463.1 690.8h0M570 652.5h0M442 679.9h0M487.5 619.7h0M587.5 666.7h0M582.2 647.1h0M477.5 659h0M592.4 656.1h0M592 669.2h0M565.8 657h0M583.9 675.4h0M563.5 634.8h0M473.2 556.1h0M452.1 552.6h0M484 562.1h0M470.9 522.3h0M418.9 654.5h0M590.1 659h0M544.2 673.8h0M541.2 681.6h0M558.4 659.6h0M465.9 626.8h0M594.3 643.4h0" stroke="#ffd700" stroke-width="6.6"/><path d="M469 662h0M443.5 519.8h0M371.3 660.3h0M532 532.7h0M461.5 663.7h0M451.6 664.5h0M510 554.6h0M464.8 689.7h0M516.3 679.7h0M495.1 601.3h0M433.1 614h0M472.2 687h0M503.4 687.2h0M480.1 656.2h0M389.9 686.4h0M513.1 645.7h0M401.9 678.4h0M458.3 622.4h0M510.4 633.8h0M495.8 646.1h0M461.1 687.9h0M457.7 672.3h0M468.6 693.4h0M500.8 663.2h0M477.3 675.4h0M479.1 670.8h0M401.2 682.5h0M539.3 684.9h0M388.2 678.6h0M366.7 674.9h0M504.1 634.9h0M459 662.9h0M593 547h0M507.9 649h0M408 636.8h0M477.4 683.2h0M494.2 613.9h0M489.6 606.3h0M456.8 638.1h0M504.4 684.4h0M385 683.4h0M447 625.1h0M408.6 672.1h0M491.7 586.2h0M456 684.7h0M522.4 680.4h0M504.1 662.1h0M465.2 682.7h0M373.7 684.1h0M498.9 668h0M580.1 644.2h0M388.7 658.2h0M416.4 685.8h0M429.8 500.3h0M474.7 670.8h0M455.4 650.4h0M528.6 684.1h0M512 648.7h0M452.1 586.8h0M477.2 666.2h0M492.3 643.7h0M450 674.1h0M476 533.4h0M450.8 508.9h0M464.9 596.7h0M478.4 668.3h0M568 676.7h0M432.7 644.9h0M458.5 603h0M455.8 643.3h0" stroke="#b22222" stroke-width="6.6"/><path d="M379.5 674h0M467.4 542.7h0M409.6 667.6h0M462.2 588.9h0M438.5 508.8h0M475.5 607.7h0M631.2 686.8h0M441.1 536.7h0M421.5 655.7h0M455.5 603h0M398.7 675.7h0M477.5 564.3h0M375.7 691.5h0M379.1 686.3h0M467.4 673.4h0M470.8 609.4h0M457.7 609.6h0M666.2 650.9h0M363.2 681.9h0M368.8 685.1h0M441.3 654h0M380.8 682.4h0M670.8 651h0M429.4 683h0M644.1 678.7h0M379 687.6h0M493.8 538.5h0M374.4 694.5h0M373.3 611.2h0M454.7 599.6h0M365.9 689.4h0M437.5 493h0M672 690h0M372.1 691.6h0M672.9 689.7h0M420.5 686.2h0M677 662.9h0M460.5 640.1h0M393 690.4h0M428.8 508.5h0M424.3 662h0M371.3 652h0M473.4 663.4h0M395.4 682.8h0M483.4 603.3h0M441.7 659.3h0M670.9 670.5h0M416.2 661.1h0" stroke="#4b0082" stroke-width="6.6"/><path d="M648.2 630.2h0M616 581.3h0M608.3 655.7h0M576 653h0M644 673.7h0M427.5 528.7h0M658.8 636.8h0M638.7 649.1h0M475.4 564.4h0M650.5 682.2h0M456.4 534.3h0M600.9 688h0M604 639.8h0M615.1 643.3h0M648.9 624h0M637.4 675.5h0M585.5 685.6h0M454.4 528.7h0M643.2 636.9h0M631.7 656.5h0M611.6 680.5h0M649 643.9h0M560 604h0M650 675.3h0M626.7 632.7h0M440.5 512h0" stroke="#9acd32" stroke-width="6.6"/><path d="M630.3 693.4h0M671.4 691.8h0M639.7 622.4h0M640.6 669.8h0M486.9 540.9h0M386 696.7h0M633.4 686.1h0M379 682.3h0M636.4 639.7h0M643.2 675.7h0M386.8 698.7h0M477.4 587.9h0M645.8 678.5h0M650.8 652h0M606.9 652.5h0M633.5 670.8h0" stroke="#008080" stroke-width="6.6"/></g></g><g><g fill="none" stroke="#000" stroke-linecap="round" stroke-linejoin="round"><path d="M365.3 624.1 365.5 619.2M365.7 609.5 365.9 551M360.6 657.6 361.3 608.8 361.4 550.3" stroke-width="0.2"/><path d="M682 710.9 682 657.3M364 668 365.3 624.1M365.5 619.2 365.7 609.5M360 672.2 360.6 657.6M675.1 710.4 675.1 632.4M668.7 712.8 668.7 590.9 668.3 512.9M661.4 712 661.4 707.2M661.4 619.4 660.8 570.7" stroke-width="0.3"/><path d="M370.4 673.9 371.6 669.2M372.7 664.3 373.6 659.5M374.5 654.7 376.6 645.1M363 677.7 364 668M661.4 707.2 661.4 619.4M660.8 570.7 660.5 560.9M662.8 556.8 661.4 512.9" stroke-width="0.4"/><path d="M503.9 488 503.9 488M367.6 683.5 370.4 673.9M371.6 669.2 372.7 664.3M373.6 659.5 374.5 654.7M361.3 687.3 363 677.7M647.7 717 647.8 643.9M654.6 712 654.6 634M640.9 712 641 687.7M634 712 634.1 702.3" stroke-width="0.5"/><path d="M511 516.8 503.9 488M438.2 535.2 438.2 496.2M364.6 693 367.6 683.5M360 692.1 361.3 687.3M421.5 536.9 421.7 493M442.2 536.9 442.2 493M449 532 449.1 493M455.9 522.2 455.9 493M647.8 643.9 647.7 634.1M620.3 717 621 702.4M479.5 529 479.5 499.7M469.6 522.4 469.6 498M414.5 541.8 414.8 498M462.8 517.5 462.8 498M483.5 532.1 483.3 498M510.7 555.6 503 526.9 499.8 512.4 497 498M641 687.7 641.1 653.5 640.9 634M634.1 702.3 634.7 658.4 634.6 638.9M627.2 712 627.5 697.4 628.3 677.9M397.4 652.7 400.4 643.2M428.4 537.1 428.5 502.9M492.9 537 491.4 522.4 490.2 502.9M512.1 576.4 503.9 547.7M521.7 586.9 514.8 563.1" stroke-width="0.6"/><path d="M438 549.9 438.2 535.2M362.7 697.6 364.6 693M420.8 551.5 421.5 536.9M442 551.5 442.2 536.9M366.3 713.8 368 710.5M449 546.6 449 532M455.9 541.7 455.9 522.2M621 702.4 622.3 687.8M622.8 683 624.3 668.4 625.1 653.8M625.2 648.9 625.2 644M479.6 543.6 479.5 529M469.5 541.9 469.6 522.4M414 551.6 414.5 541.8M462.7 541.8 462.8 517.5M483.7 546.7 483.5 532.1M634.6 638.9 633.9 624.3M531.3 712 517.9 711.4 504.6 710.1M394 662.1 397.4 652.7M385.9 664.9 387.8 660.2 389.4 655.5M427.9 551.7 428.4 537.1M498.1 561.1 494.6 546.7 492.9 537M520.6 605 512.1 576.4M489.5 547.9 489 543" stroke-width="0.7"/><path d="M360 712 362.4 707.5M365.3 703.1 368.5 698.8M437.8 554.7 438 549.9M420.3 556.3 420.8 551.5M441.9 556.4 442 551.5M368 710.5 370.3 707.9M449 551.5 449 546.6M455.8 546.6 455.9 541.7M622.3 687.8 622.8 683M625.1 653.8 625.2 648.9M625.2 644 624.7 634.3M479.6 548.5 479.6 543.6M469.5 546.8 469.5 541.9M413.5 556.4 414 551.6M462.7 546.7 462.7 541.8M543.8 710.6 537.2 709.9M483.9 551.6 483.7 546.7M633.9 624.3 633.4 619.4M391.7 666.7 394 662.1M427.4 556.5 427.9 551.7M503.7 580.1 498.1 561.1M620.2 666.3 621.3 656.6 621.6 651.7 621.6 642M522.8 614.6 521.9 609.7 520.6 605M491 557.6 489.5 547.9" stroke-width="0.8"/><path d="M362.4 707.5 365.3 703.1M368.5 698.8 372 694.7M407 659.4 408.9 654.7M437.5 559.6 437.8 554.7M360 702.1 362.7 697.6M419.5 561.2 420.3 556.3M441.7 561.2 441.9 556.4M370.3 707.9 373.5 705.9M448.9 556.4 449 551.5M455.8 551.5 455.8 546.6M624.7 634.3 624.3 629.4M479.6 553.4 479.6 548.5M469.5 551.6 469.5 546.8M366.9 707.1 370.7 703.1M412.7 561.3 413.5 556.4M462.7 551.6 462.7 546.7M563.4 713.6 557 712.3 543.8 710.6M537.2 709.9 524 708.5 520.6 707.8 517.7 706.8M484.1 556.5 483.9 551.6M633.4 619.4 632.8 614.6M504.6 710.1 498.1 708.9 494.5 707.7M383.5 669.4 385.9 664.9M426.7 561.4 427.4 556.5M509.3 599.2 503.7 580.1M506.7 708.5 503.7 707.5M619.4 671.2 620.2 666.3M621.6 642 620.9 632.3M522.7 619.4 522.8 614.6M493.3 567.2 491 557.6" stroke-width="0.9"/><path d="M372 694.7 376.2 690.9M404.6 663.9 407 659.4M408.9 654.7 412.2 645.3M437.1 564.5 437.5 559.6M418.4 566 419.5 561.2M448.8 561.2 448.9 556.4M455.8 556.4 455.8 551.5M624.3 629.4 623 619.7M614.5 684.7 616.1 679.9M479.6 558.2 479.6 553.4M469.4 556.5 469.5 551.6M370.7 703.1 375.8 700.1M411.7 566.1 412.7 561.3M462.6 556.5 462.7 551.6M484.4 561.3 484.1 556.5M632.8 614.6 632 609.7M388.8 671.1 391.7 666.7M373.7 682.2 377 677.9M425.6 566.2 426.7 561.4M517.3 627.8 516.3 623 515 618.3 509.3 599.2M615 658.4 615.8 653.6 616.2 648.7 616.4 643.8M548.2 709.5 546.2 708.5 545 707.1M638.6 608.7 637.8 603.8M620.9 632.3 620.3 627.4M521.8 624 522.7 619.4M507.2 614.9 493.3 567.2" stroke-width="1"/><path d="M376.2 690.9 380.7 687.3M397.8 672.3 401.5 668.2M412.2 645.3 420.4 621.6M435.5 574.1 437.1 564.5M412.3 585 415.5 575.5 418.4 566M416.3 656.7 419.6 647.3M441.4 566.1 441.7 561.2M455.7 561.2 455.8 556.4M623 619.7 622.1 614.9M606.4 703.2 608.6 698.6M610.8 694 614.5 684.7M479.6 563.1 479.6 558.2M373.7 717 376.3 715M517.7 706.8 515.7 705.4M505.5 647.6 494.3 609.5 489.2 590.3M484.9 566.2 484.4 561.3M632 609.7 631.1 604.9M373.7 687.1 377.4 683.1M377 677.9 380.4 673.7 383.5 669.4M411.5 608.8 418.1 589.9M421.3 580.5 425.6 566.2M517.5 632.7 517.3 627.8M557.3 709.3 557.4 708.3 558.7 707.1M612.1 667.9 613.8 663.2 615 658.4M616.4 643.8 616.2 639 615.1 629.3M510.7 707.1 507.7 705M491 651.5 489.8 646.7M637.8 603.8 636.8 599M503.7 707.5 501.2 706.2 499.5 704.4M413.2 627.2 418.1 613M499.2 658 494.9 643.7M513.9 638.7 511.5 629.1 507.2 614.9M521.9 630.6 524.4 627.4 528.3 623.5M532.3 611.9 531.8 607M494.1 636.8 489 617.6" stroke-width="1.1"/><path d="M401.5 668.2 404.6 663.9M420.4 621.6 431.6 588.5 434.3 579 435.5 574.1M411.9 665.9 414.4 661.4 416.3 656.7M419.6 647.3 432.5 609.4 436.7 595.1 438.9 585.5M440.5 575.8 441.4 566.1M373.5 705.9 378.1 704.2M433.4 672.4 435.3 667.8 438.4 658.3 441.9 643.9M448.7 566.1 448.8 561.2M622.1 614.9 620 605.2M599.8 717 601.8 712.4 606.4 703.2M608.6 698.6 610.8 694M479.7 568 479.6 563.1M469.4 561.4 469.4 556.5M462.6 561.3 462.6 556.5M508.3 657.2 505.5 647.6M489.2 590.3 486.2 575.9 484.9 566.2M631.1 604.9 628.8 595.3M572.4 712 572.9 710M377.4 683.1 385.4 675.2 388.8 671.1M418.1 589.9 421.3 580.5M516.7 642.3 517.5 632.7M609.8 672.5 612.1 667.9M615.1 629.3 614.3 624.4M495.2 665.8 491 651.5M489.8 646.7 487.6 637.1M636.8 599 634.4 589.4M425.6 669.5 427.7 664.8 431.1 655.4 435.7 641.2 438.4 631.6M418.1 613 424.6 594.1M419.5 666.9 421.7 662.3 423.5 657.6 430 638.6 434.6 624.4 438.6 610.1M500.7 662.7 499.2 658M528.3 623.5 530.8 619.9 532.1 615.9 532.3 611.9M489 617.6 486.9 608" stroke-width="1.2"/><path d="M393.8 676.2 397.8 672.3M408.6 670.1 411.9 665.9M438.9 585.5 440.5 575.8M427.8 681.3 430.9 677 433.4 672.4M441.9 643.9 443.6 634.2 445.5 619.7M448.4 575.8 448.7 566.1M455.6 566.1 455.7 561.2M620 605.2 616.2 590.9M479.7 572.9 479.7 568M376.3 715 379.4 714M469.3 566.3 469.4 561.4M375.8 700.1 381.2 697.9M462.5 566.2 462.6 561.3M515.7 705.4 514.5 703.4 514.1 700.7M509.6 661.9 508.3 657.2M628.8 595.3 623.5 576.2 606.8 519M605.8 692.4 608.8 688.1M572.9 710 574.5 708.4M494.5 707.7 492.9 706.3 492.5 704.4M489.5 669.6 487.4 659.9M515.9 652 516.7 642.3M606.8 676.8 609.8 672.5M614.3 624.4 611.2 610M545 707.1 545.4 706.1 546.9 705.4M507.7 705 506.2 702.1M498.3 675.3 495.2 665.8M606.3 664.3 608.7 659.8M637.4 570.1 620.3 512.9M638.6 551 627.2 512.9M522.6 703.5 523.9 701.4M634.4 589.4 613.5 517.9M441.1 681.3 442.9 676.9 444.3 672.1 446 662.5 447.1 652.8M423 674 425.6 669.5M416.8 671.3 419.5 666.9M438.6 610.1 440.6 600.4 442.2 590.8M502.3 667.5 500.7 662.7" stroke-width="1.3"/><path d="M380.7 687.3 389.6 680 393.8 676.2M391.2 685 400.3 677.8 404.6 674 408.6 670.1M424.1 685.3 427.8 681.3M445.5 619.7 447.1 600.2 448.4 575.8M452.8 663.6 454.3 619.7M455.2 585.6 455.6 566.1M616.2 590.9 599 528.7M469.6 717 471.4 712.4M483.6 660.5 482.2 641.1 481.1 621.6 480.3 597.2 479.7 572.9M469 580.9 469.3 566.3M462.2 580.8 462.5 566.2M514.1 700.7 514.1 691 513.3 681.2 511.9 671.5 509.6 661.9M586.1 712 590.1 708.1 594.4 704.4M598.5 700.6 602.4 696.6 605.8 692.4M574.5 708.4 577.2 706.6M491.4 679.2 489.5 669.6M478.5 591.6 478.5 581.9M515.3 695.8 515.8 686.1 516.1 676.3 515.9 652M558.7 707.1 563.2 704.8M603.2 680.9 606.8 676.8M611.2 610 591.2 533.3M506.2 702.1 502.9 689.5 498.3 675.3M528.6 703.4 531.3 702.1M603.1 668.6 606.3 664.3M602.8 652.1 604.1 647.3 604.6 642.5 604.6 637.6 604.1 632.7 602.3 623.1 597.6 603.9M499.5 704.4 498.6 701.8 497.9 697M497 692.1 495.9 687.3M438.1 685.5 441.1 681.3M447.1 652.8 448.3 638.2 449.5 618.7M419.7 678.2 423 674M413.2 675.4 416.8 671.3M506.8 681.7 502.3 667.5M521.5 645 524.4 642.3 529.5 639.2M545.9 620.5 545.8 615.8 545 611M524.4 637.4 534.4 630.8 538.3 627 540.6 622.8 541.4 618.8 541.3 614.3 540.6 609.4" stroke-width="1.4"/><path d="M381.6 691.7 391.2 685M378.1 704.2 384.4 702.6M419.6 688.9 424.1 685.3M450.6 683 451.6 678.2 452.2 673.3 452.8 663.6M454.3 619.7 455.2 585.6M471.4 712.4 473.9 708.1M484.2 670.3 483.6 660.5M467 668.6 467.6 654 469 580.9M381.2 697.9 387 695.5 392.4 692.7M459.8 673.4 460.6 658.8 462.2 580.8M594.4 704.4 598.5 700.6M577.2 706.6 587.5 700.4 592.3 697 597 693.5 601.2 689.8M492.5 704.4 493.4 698.6 493.5 693.7 493 688.9 491.4 679.2M478.5 664.7 478.7 655 478.5 591.6M563.2 704.8 573.7 700.5 579.2 697.8 584.5 694.8 594.5 688.3 599.1 684.8 603.2 680.9M546.9 705.4 561.7 700.8 567.8 698.6 573.6 696.2 579.1 693.5 584.5 690.6M531.3 702.1 537.4 700.1 550.1 697 562.6 693.4 568.5 691.2 574.3 688.7 579.8 685.9 590.1 679.7 594.9 676.3 599.3 672.6 603.1 668.6M523.9 701.4 526.9 699.2 531.3 697.1 537.5 695.3 556.4 690.4 562.6 688.4 568.5 686.1 574.2 683.5 579.6 680.7 584.8 677.6 589.8 674.3 594.4 670.8M526.9 694.2 531.3 692.1 537.4 690.2 550.1 687 556.3 685.2 562.4 683.1 568.2 680.7 573.8 678 579.2 675.1 584.3 671.9 589.1 668.6 593.5 664.9 597.4 661 600.6 656.7 602.8 652.1M597.6 603.9 580.7 536.7M497.9 697 497 692.1M428.5 692.1 433.8 689.2 438.1 685.5M406.3 689 411.2 685.7 415.7 682.1 419.7 678.2M527 689.2 531.3 687.1 537.4 685.2 550 681.9 556.2 679.9 562.2 677.7 567.9 675.2 573.4 672.4 578.6 669.4M527.1 684.3 531.3 682.2 537.4 680.2 549.9 676.6 556 674.6 561.8 672.2 567.4 669.5 572.8 666.6 577.8 663.4 582.5 659.9 586.7 656.1 590 651.9 592.4 647.4 593.7 642.6 594.1 637.8 593.8 632.9 593.1 628 589.9 613.6 573.1 546.4M527.2 679.3 531.3 677.2 549.7 671.3 555.6 669.1 561.3 666.5 566.8 663.7 571.9 660.6 576.7 657.2 581 653.4 584.4 649.2 586.7 644.7 587.9 639.9 588.2 635 587.8 630.2 587 625.3 583.7 610.9 571.7 563M399.7 686.2 409 679.2 413.2 675.4M527.2 674.4 531.3 672.2 549.4 665.9 555.2 663.4 560.7 660.7 566 657.7 570.9 654.3 575.2 650.6 578.6 646.5 580.9 641.9 582 637.1 582.1 632.3 581.6 627.4 580.8 622.6 578.6 612.9M524.4 667.2 528.8 663.6 533.6 661.4 545.3 656.5 550.8 653.8 556.1 650.9 561 647.5 565.2 643.7 568.3 639.5 570 635 570.5 630.3 570.3 625.4 569.5 620.6 567.4 611 560.3 582.2M524.4 662.3 528.9 658.7 544.9 651.1 550.3 648.2M524.4 657.3 529 653.8 544.8 645.7 549.9 642.5 554.3 638.9 557.6 634.7 559.3 630.4 559.8 626 559.5 621.1 558.8 616.3 556.7 606.7M567.9 572.3 561.9 548.3M523.2 653.2 526.1 650.4 531.3 647.3 542 641.5 546.9 638.2 550.9 634.3 553.4 629.9 554.4 625.7 554.5 621.1 553.9 616.2 551.9 606.6M574.8 602.1 568.8 578.2M529.5 639.2 534.7 636.1 539.5 632.7 543.3 628.7 545.3 624.6 545.9 620.5" stroke-width="1.5"/><path d="M384.4 702.6 396.8 699 402.9 697 408.8 694.7 414.4 692 419.6 688.9M382.1 707.1 388.5 705.8M395 704.5 401.4 703.1M414.2 700.2 433.1 695.3 439.3 693.5 443.2 692 446.5 690.2 448.8 687.6 450.6 683M473.9 708.1 476.8 703.7M483.7 680 484.1 675.1 484.2 670.3M379.4 714 390.2 712M465.8 678.3 467 668.6M457.3 687.9 458.4 683.1 459.8 673.4M477.6 674.5 478.5 664.7M416.7 696.7 422.8 694.6 428.5 692.1M401.1 692.1 406.3 689" stroke-width="1.6"/><path d="M388.5 705.8 395 704.5M401.4 703.1 414.2 700.2M476.8 703.7 479.2 699.2 481 694.5 482.2 689.7 483.7 680M390.2 712 442.7 703.8 449.2 702.7 455.2 700.7 458.6 698.6 461 695.8 462.6 692.5 464 688 465.8 678.3M455.1 692.5 457.3 687.9M449.6 713.7 455.9 712 461.6 709.5 465.9 706.5 469.3 702.8 472 698.4 473.7 693.8 476 684.1 477.6 674.5M415.4 714.2 448.2 709.2 454.6 707.7" stroke-width="1.7"/></g><path d="M506.8 499.8L509.7 503.7 506.1 504.6ZM682 684L683.8 688.2 680.2 688.2ZM423.1 613.9L423.5 619.6 419.3 618.2ZM369.8 676.1L370.4 681 366.7 679.9ZM365.4 621.6L367 625.8 363.6 625.7ZM361.3 611.3L363 615.4 359.5 615.4ZM421.4 538.9L423.3 543.6 419.4 543.5ZM434.9 601.6L435.6 607.3 431.3 606.1ZM445.3 621.2L447 627 442.3 626.5ZM454.2 626.1L456.4 631.8 451.6 631.7ZM675.1 668.9L676.9 673.1 673.4 673.1ZM647.8 675.3L649.7 679.8 645.9 679.8ZM623.2 621.5L626.2 626.3 621.9 626.9ZM607.8 700.4L607.4 706.1 603.5 704.1ZM480.6 608.5L483.2 614 478.5 614.2ZM467.8 640.8L470.1 646.6 465.3 646.5ZM378.8 698.9L374.6 703.1 372.9 698.8ZM414.7 534.2L416.6 538.8 412.7 538.8ZM461.9 596.9L464.2 602.7 459.4 602.6ZM499 625.6L502.6 629.9 498.4 631.2ZM503.6 529L506.5 533 502.8 533.9ZM668.7 612.8L670.4 616.9 667 616.9ZM661.4 636.3L663.3 640.6 659.6 640.6ZM654.6 670.4L656.5 674.8 652.7 674.8ZM641.1 670.3L643 674.9 639.2 674.8ZM632.3 611.6L635.3 616.3 631 617ZM627.6 694.7L629.4 699.3 625.5 699.2ZM596.9 702.1L594.3 707.7 591.1 704.2ZM585.3 701.7L581.7 706.8 579.1 702.7ZM492.9 701L494.6 707 489.7 706.4ZM478.7 651.6L481.1 657.3 476.3 657.3ZM432 711.5L426.5 714.9 425.8 709.9ZM390.5 668.5L389.5 674 385.9 671.6ZM382.2 671.2L381 676.7 377.4 674.2ZM427.1 558.4L428.4 563.7 424.3 563.1ZM508.5 596.3L511.9 600.5 507.9 601.7ZM662.2 534.7L664.2 538.9 660.5 539.1ZM615.9 635.9L618.5 640.9 614.2 641.2ZM565 699.6L560.3 703.8 558.7 699.2ZM497.3 672.1L501.2 676.6 496.8 678.1ZM571.7 689.8L567.4 694.4 565.4 689.9ZM627.9 538.3L631.7 542.9 627.3 544.3ZM631.9 528.8L635.7 533.4 631.3 534.7ZM559.7 689.3L555 693.4 553.5 688.8ZM626.7 562.4L630.4 567 626 568.3ZM604.6 639.1L607 644.7 602.4 644.7ZM498.2 698.4L501.3 703.7 496.6 704.4ZM445.7 664L447.2 669.8 442.6 669.2ZM426.9 666.5L426.8 672.4 422.6 670.5ZM553.3 680.8L548.5 684.9 547.1 680.2ZM593.9 634.3L596.6 639.9 591.8 640.2ZM419.1 610L419.5 615.7 415.3 614.2ZM621.6 648.8L623.6 653.7 619.5 653.7ZM588.1 636.5L590.2 642.3 585.4 642.1ZM429.4 640.4L429.8 646.1 425.6 644.7ZM568.9 655.7L565.4 661 562.7 657ZM501.2 664.4L505.1 668.8 500.8 670.3ZM569.5 636.2L569.8 642.5 565.2 640.8ZM514.1 583.2L517.4 587.1 513.6 588.3ZM536.8 654.9L532.5 659.5 530.5 655ZM500.7 592.9L504.2 597.1 500.1 598.4ZM552.5 640.3L549.6 645.9 546.5 642.1ZM564.7 559.4L568.4 564.3 563.8 565.5ZM549.4 635.8L546.9 641.5 543.6 638ZM571.6 589.2L575.3 594.2 570.6 595.3ZM541.9 630.2L539.7 636 536.2 632.7ZM518.2 574.8L521.3 578.6 517.6 579.7ZM540 624L539.4 630.1 535.2 627.8ZM530.2 620.8L528.9 626.5 525.2 623.9ZM490.6 624.2L494.1 628.7 489.8 629.8Z" fill="#000"/></g>
<text x="0.75" y="192.3" font-size="16" text-anchor="start" font-weight="bold" font-style="normal" fill="#111" >b</text>
<line x1="22.3" y1="310.8" x2="22.3" y2="210.3" stroke="#000" stroke-width="2.6"/><polygon points="22.3,202.3 26.3,211.3 22.3,209.7 18.3,211.3" fill="#000"/><line x1="21.0" y1="309.5" x2="136.0" y2="309.5" stroke="#000" stroke-width="2.6"/><polygon points="144.0,309.5 135.0,313.5 136.6,309.5 135.0,305.5" fill="#000"/>
<text x="15" y="252.9" font-size="9.6" text-anchor="middle" font-weight="normal" font-style="normal" fill="#111" transform="rotate(-90 15 252.9)" dominant-baseline="middle">DC3</text>
<text x="81" y="318.7" font-size="9.6" text-anchor="middle" font-weight="normal" font-style="normal" fill="#111" >Cell Cycle Coordinate</text>
<text x="142" y="211" font-size="9.3" text-anchor="middle" font-weight="normal" font-style="normal" fill="#111" >CCNE1</text>
<rect x="142.2" y="215.2" width="4.4" height="83.80000000000001" fill="url(#rdbu)" stroke="#222" stroke-width="0.4"/><line x1="146.6" y1="299.0" x2="148.1" y2="299.0" stroke="#444" stroke-width="0.4"/><text x="149.4" y="300.5" font-size="4.3" fill="#444">0.0</text><line x1="146.6" y1="288.4" x2="148.1" y2="288.4" stroke="#444" stroke-width="0.4"/><text x="149.4" y="289.9" font-size="4.3" fill="#444">0.2</text><line x1="146.6" y1="277.7" x2="148.1" y2="277.7" stroke="#444" stroke-width="0.4"/><text x="149.4" y="279.2" font-size="4.3" fill="#444">0.4</text><line x1="146.6" y1="267.1" x2="148.1" y2="267.1" stroke="#444" stroke-width="0.4"/><text x="149.4" y="268.6" font-size="4.3" fill="#444">0.6</text><line x1="146.6" y1="256.4" x2="148.1" y2="256.4" stroke="#444" stroke-width="0.4"/><text x="149.4" y="257.9" font-size="4.3" fill="#444">0.8</text><line x1="146.6" y1="245.8" x2="148.1" y2="245.8" stroke="#444" stroke-width="0.4"/><text x="149.4" y="247.3" font-size="4.3" fill="#444">1.0</text><line x1="146.6" y1="235.2" x2="148.1" y2="235.2" stroke="#444" stroke-width="0.4"/><text x="149.4" y="236.7" font-size="4.3" fill="#444">1.2</text><line x1="146.6" y1="224.5" x2="148.1" y2="224.5" stroke="#444" stroke-width="0.4"/><text x="149.4" y="226.0" font-size="4.3" fill="#444">1.4</text>
<text x="170.6" y="192.3" font-size="16" text-anchor="start" font-weight="bold" font-style="normal" fill="#111" >c</text>
<line x1="194.3" y1="310.8" x2="194.3" y2="210.3" stroke="#000" stroke-width="2.6"/><polygon points="194.3,202.3 198.3,211.3 194.3,209.7 190.3,211.3" fill="#000"/><line x1="193.0" y1="309.5" x2="308.0" y2="309.5" stroke="#000" stroke-width="2.6"/><polygon points="316.0,309.5 307.0,313.5 308.6,309.5 307.0,305.5" fill="#000"/>
<text x="186.3" y="253.2" font-size="9.6" text-anchor="middle" font-weight="normal" font-style="normal" fill="#111" transform="rotate(-90 186.3 253.2)" dominant-baseline="middle">DC3</text>
<text x="252" y="318.7" font-size="9.6" text-anchor="middle" font-weight="normal" font-style="normal" fill="#111" >Cell Cycle Coordinate</text>
<text x="315.5" y="211" font-size="9.3" text-anchor="middle" font-weight="normal" font-style="normal" fill="#111" >TOP2A</text>
<rect x="312.9" y="211.8" width="4.6" height="87.80000000000001" fill="url(#rdbu)" stroke="#222" stroke-width="0.4"/><line x1="317.5" y1="299.6" x2="319.0" y2="299.6" stroke="#444" stroke-width="0.4"/><text x="320.3" y="301.1" font-size="4.3" fill="#444">0.0</text><line x1="317.5" y1="286.1" x2="319.0" y2="286.1" stroke="#444" stroke-width="0.4"/><text x="320.3" y="287.6" font-size="4.3" fill="#444">0.5</text><line x1="317.5" y1="272.6" x2="319.0" y2="272.6" stroke="#444" stroke-width="0.4"/><text x="320.3" y="274.1" font-size="4.3" fill="#444">1.0</text><line x1="317.5" y1="259.1" x2="319.0" y2="259.1" stroke="#444" stroke-width="0.4"/><text x="320.3" y="260.6" font-size="4.3" fill="#444">1.5</text><line x1="317.5" y1="245.6" x2="319.0" y2="245.6" stroke="#444" stroke-width="0.4"/><text x="320.3" y="247.1" font-size="4.3" fill="#444">2.0</text><line x1="317.5" y1="232.1" x2="319.0" y2="232.1" stroke="#444" stroke-width="0.4"/><text x="320.3" y="233.6" font-size="4.3" fill="#444">2.5</text><line x1="317.5" y1="218.6" x2="319.0" y2="218.6" stroke="#444" stroke-width="0.4"/><text x="320.3" y="220.1" font-size="4.3" fill="#444">3.0</text>
<text x="0.6" y="332.5" font-size="16" text-anchor="start" font-weight="bold" font-style="normal" fill="#111" >d</text>
<line x1="21.1" y1="450.8" x2="21.1" y2="350.3" stroke="#000" stroke-width="2.6"/><polygon points="21.1,342.3 25.1,351.3 21.1,349.7 17.1,351.3" fill="#000"/><line x1="19.8" y1="449.5" x2="134.5" y2="449.5" stroke="#000" stroke-width="2.6"/><polygon points="142.5,449.5 133.5,453.5 135.1,449.5 133.5,445.5" fill="#000"/>
<text x="13.1" y="396" font-size="9.6" text-anchor="middle" font-weight="normal" font-style="normal" fill="#111" transform="rotate(-90 13.1 396)" dominant-baseline="middle">DC3</text>
<text x="79.5" y="458.8" font-size="9.6" text-anchor="middle" font-weight="normal" font-style="normal" fill="#111" >Cell Cycle Coordinate</text>
<text x="142.3" y="351.5" font-size="9.3" text-anchor="middle" font-weight="normal" font-style="normal" fill="#111" >DEK</text>
<rect x="142" y="356" width="4.5" height="85.60000000000002" fill="url(#rdbu)" stroke="#222" stroke-width="0.4"/><line x1="146.5" y1="441.6" x2="148.0" y2="441.6" stroke="#444" stroke-width="0.4"/><text x="149.3" y="443.1" font-size="4.3" fill="#444">0.0</text><line x1="146.5" y1="428.4" x2="148.0" y2="428.4" stroke="#444" stroke-width="0.4"/><text x="149.3" y="429.9" font-size="4.3" fill="#444">0.5</text><line x1="146.5" y1="415.3" x2="148.0" y2="415.3" stroke="#444" stroke-width="0.4"/><text x="149.3" y="416.8" font-size="4.3" fill="#444">1.0</text><line x1="146.5" y1="402.1" x2="148.0" y2="402.1" stroke="#444" stroke-width="0.4"/><text x="149.3" y="403.6" font-size="4.3" fill="#444">1.5</text><line x1="146.5" y1="388.9" x2="148.0" y2="388.9" stroke="#444" stroke-width="0.4"/><text x="149.3" y="390.4" font-size="4.3" fill="#444">2.0</text><line x1="146.5" y1="375.8" x2="148.0" y2="375.8" stroke="#444" stroke-width="0.4"/><text x="149.3" y="377.3" font-size="4.3" fill="#444">2.5</text><line x1="146.5" y1="362.6" x2="148.0" y2="362.6" stroke="#444" stroke-width="0.4"/><text x="149.3" y="364.1" font-size="4.3" fill="#444">3.0</text>
<text x="170.6" y="332.5" font-size="16" text-anchor="start" font-weight="bold" font-style="normal" fill="#111" >e</text>
<line x1="193.6" y1="451.6" x2="193.6" y2="351.6" stroke="#000" stroke-width="2.6"/><polygon points="193.6,343.6 197.6,352.6 193.6,351.0 189.6,352.6" fill="#000"/><line x1="192.3" y1="450.3" x2="306.5" y2="450.3" stroke="#000" stroke-width="2.6"/><polygon points="314.5,450.3 305.5,454.3 307.1,450.3 305.5,446.3" fill="#000"/>
<text x="184.9" y="396.9" font-size="9.6" text-anchor="middle" font-weight="normal" font-style="normal" fill="#111" transform="rotate(-90 184.9 396.9)" dominant-baseline="middle">DC3</text>
<text x="251" y="458.8" font-size="9.6" text-anchor="middle" font-weight="normal" font-style="normal" fill="#111" >Cell Cycle Coordinate</text>
<text x="315" y="352" font-size="9.3" text-anchor="middle" font-weight="normal" font-style="normal" fill="#111" >PARP1</text>
<rect x="313.5" y="353.5" width="4.7" height="91.10000000000002" fill="url(#rdbu)" stroke="#222" stroke-width="0.4"/><line x1="318.2" y1="444.6" x2="319.7" y2="444.6" stroke="#444" stroke-width="0.4"/><text x="321.0" y="446.1" font-size="4.3" fill="#444">0.0</text><line x1="318.2" y1="428.8" x2="319.7" y2="428.8" stroke="#444" stroke-width="0.4"/><text x="321.0" y="430.3" font-size="4.3" fill="#444">0.5</text><line x1="318.2" y1="413.0" x2="319.7" y2="413.0" stroke="#444" stroke-width="0.4"/><text x="321.0" y="414.5" font-size="4.3" fill="#444">1.0</text><line x1="318.2" y1="397.2" x2="319.7" y2="397.2" stroke="#444" stroke-width="0.4"/><text x="321.0" y="398.7" font-size="4.3" fill="#444">1.5</text><line x1="318.2" y1="381.3" x2="319.7" y2="381.3" stroke="#444" stroke-width="0.4"/><text x="321.0" y="382.8" font-size="4.3" fill="#444">2.0</text><line x1="318.2" y1="365.5" x2="319.7" y2="365.5" stroke="#444" stroke-width="0.4"/><text x="321.0" y="367.0" font-size="4.3" fill="#444">2.5</text>
<text x="333.5" y="190.8" font-size="16" text-anchor="start" font-weight="bold" font-style="normal" fill="#111" >f</text>
<line x1="357.5" y1="451.8" x2="357.5" y2="206.0" stroke="#000" stroke-width="2.8"/><polygon points="357.5,197.0 362.0,207.0 357.5,205.2 353.0,207.0" fill="#000"/><line x1="356.1" y1="450.4" x2="675.0" y2="450.4" stroke="#000" stroke-width="2.8"/><polygon points="684.0,450.4 674.0,454.9 675.8,450.4 674.0,445.9" fill="#000"/>
<text x="350.3" y="312.9" font-size="11.3" text-anchor="middle" font-weight="normal" font-style="normal" fill="#111" transform="rotate(-90 350.3 312.9)" dominant-baseline="middle">DC3</text>
<text x="529" y="463.5" font-size="11" text-anchor="middle" font-weight="normal" font-style="normal" fill="#111" >Cell Cycle Coordinate</text>
<text x="-0.6" y="476" font-size="16" text-anchor="start" font-weight="bold" font-style="normal" fill="#111" >g</text>
<line x1="21.4" y1="729.4" x2="21.4" y2="492.0" stroke="#000" stroke-width="2.8"/><polygon points="21.4,483.0 25.9,493.0 21.4,491.2 16.9,493.0" fill="#000"/><line x1="20.0" y1="728.0" x2="328.0" y2="728.0" stroke="#000" stroke-width="2.8"/><polygon points="337.0,728.0 327.0,732.5 328.8,728.0 327.0,723.5" fill="#000"/>
<text x="14.3" y="594.4" font-size="11.5" text-anchor="middle" font-weight="normal" font-style="normal" fill="#111" transform="rotate(-90 14.3 594.4)" dominant-baseline="middle">EMT</text>
<text x="193" y="740.8" font-size="11" text-anchor="middle" font-weight="normal" font-style="normal" fill="#111" >Cell Cycle Coordinate</text>
<text x="334" y="476.1" font-size="16" text-anchor="start" font-weight="bold" font-style="normal" fill="#111" >h</text>
<line x1="357.2" y1="729.4" x2="357.2" y2="492.7" stroke="#000" stroke-width="2.8"/><polygon points="357.2,483.7 361.7,493.7 357.2,491.9 352.7,493.7" fill="#000"/><line x1="355.8" y1="728.0" x2="675.0" y2="728.0" stroke="#000" stroke-width="2.8"/><polygon points="684.0,728.0 674.0,732.5 675.8,728.0 674.0,723.5" fill="#000"/>
<text x="351.3" y="595" font-size="11.5" text-anchor="middle" font-weight="normal" font-style="normal" fill="#111" transform="rotate(-90 351.3 595)" dominant-baseline="middle">EMT</text>
<text x="530" y="740.8" font-size="11" text-anchor="middle" font-weight="normal" font-style="normal" fill="#111" >Cell Cycle Coordinate</text>
<text x="643.5" y="213" font-size="9.5" text-anchor="start" font-weight="normal" font-style="normal" fill="#111" >untreated</text><circle cx="659" cy="219.9" r="3.7" fill="#b22222"/><text x="665" y="222.8" font-size="8.2" text-anchor="start" font-weight="normal" font-style="normal" fill="#111" >G1/S</text><circle cx="659" cy="229.1" r="3.7" fill="#ffd700"/><text x="665" y="232.0" font-size="8.2" text-anchor="start" font-weight="normal" font-style="normal" fill="#111" >S</text><circle cx="659" cy="238.6" r="3.7" fill="#9acd32"/><text x="665" y="241.5" font-size="8.2" text-anchor="start" font-weight="normal" font-style="normal" fill="#111" >G2</text><circle cx="659" cy="247.8" r="3.7" fill="#008080"/><text x="665" y="250.70000000000002" font-size="8.2" text-anchor="start" font-weight="normal" font-style="normal" fill="#111" >G2/M</text><circle cx="659" cy="257" r="3.7" fill="#4b0082"/><text x="665" y="259.9" font-size="8.2" text-anchor="start" font-weight="normal" font-style="normal" fill="#111" >M/G1</text>
<text x="267.5" y="492.6" font-size="9.3" text-anchor="start" font-weight="normal" font-style="normal" fill="#111" >12.5 pM TGF-<tspan font-family="Liberation Serif">&#946;</tspan></text><circle cx="305.7" cy="500.7" r="3.7" fill="#b22222"/><text x="312.7" y="503.59999999999997" font-size="8.2" text-anchor="start" font-weight="normal" font-style="normal" fill="#111" >G1/S</text><circle cx="305.7" cy="509.6" r="3.7" fill="#ffd700"/><text x="312.7" y="512.5" font-size="8.2" text-anchor="start" font-weight="normal" font-style="normal" fill="#111" >S</text><circle cx="305.7" cy="518.9" r="3.7" fill="#9acd32"/><text x="312.7" y="521.8" font-size="8.2" text-anchor="start" font-weight="normal" font-style="normal" fill="#111" >G2</text><circle cx="305.7" cy="528" r="3.7" fill="#008080"/><text x="312.7" y="530.9" font-size="8.2" text-anchor="start" font-weight="normal" font-style="normal" fill="#111" >G2/M</text><circle cx="305.7" cy="537.3" r="3.7" fill="#4b0082"/><text x="312.7" y="540.1999999999999" font-size="8.2" text-anchor="start" font-weight="normal" font-style="normal" fill="#111" >M/G1</text>
<text x="366.6" y="491.6" font-size="9.3" text-anchor="start" font-weight="normal" font-style="normal" fill="#111" >25 pM TGF-<tspan font-family="Liberation Serif">&#946;</tspan></text><circle cx="368.9" cy="500.7" r="3.7" fill="#b22222"/><text x="375.5" y="503.59999999999997" font-size="8.2" text-anchor="start" font-weight="normal" font-style="normal" fill="#111" >G1/S</text><circle cx="368.9" cy="509.4" r="3.7" fill="#ffd700"/><text x="375.5" y="512.3" font-size="8.2" text-anchor="start" font-weight="normal" font-style="normal" fill="#111" >S</text><circle cx="368.9" cy="518.9" r="3.7" fill="#9acd32"/><text x="375.5" y="521.8" font-size="8.2" text-anchor="start" font-weight="normal" font-style="normal" fill="#111" >G2</text><circle cx="368.9" cy="528.2" r="3.7" fill="#008080"/><text x="375.5" y="531.1" font-size="8.2" text-anchor="start" font-weight="normal" font-style="normal" fill="#111" >G2/M</text><circle cx="368.9" cy="537.5" r="3.7" fill="#4b0082"/><text x="375.5" y="540.4" font-size="8.2" text-anchor="start" font-weight="normal" font-style="normal" fill="#111" >M/G1</text></svg></body></html>
